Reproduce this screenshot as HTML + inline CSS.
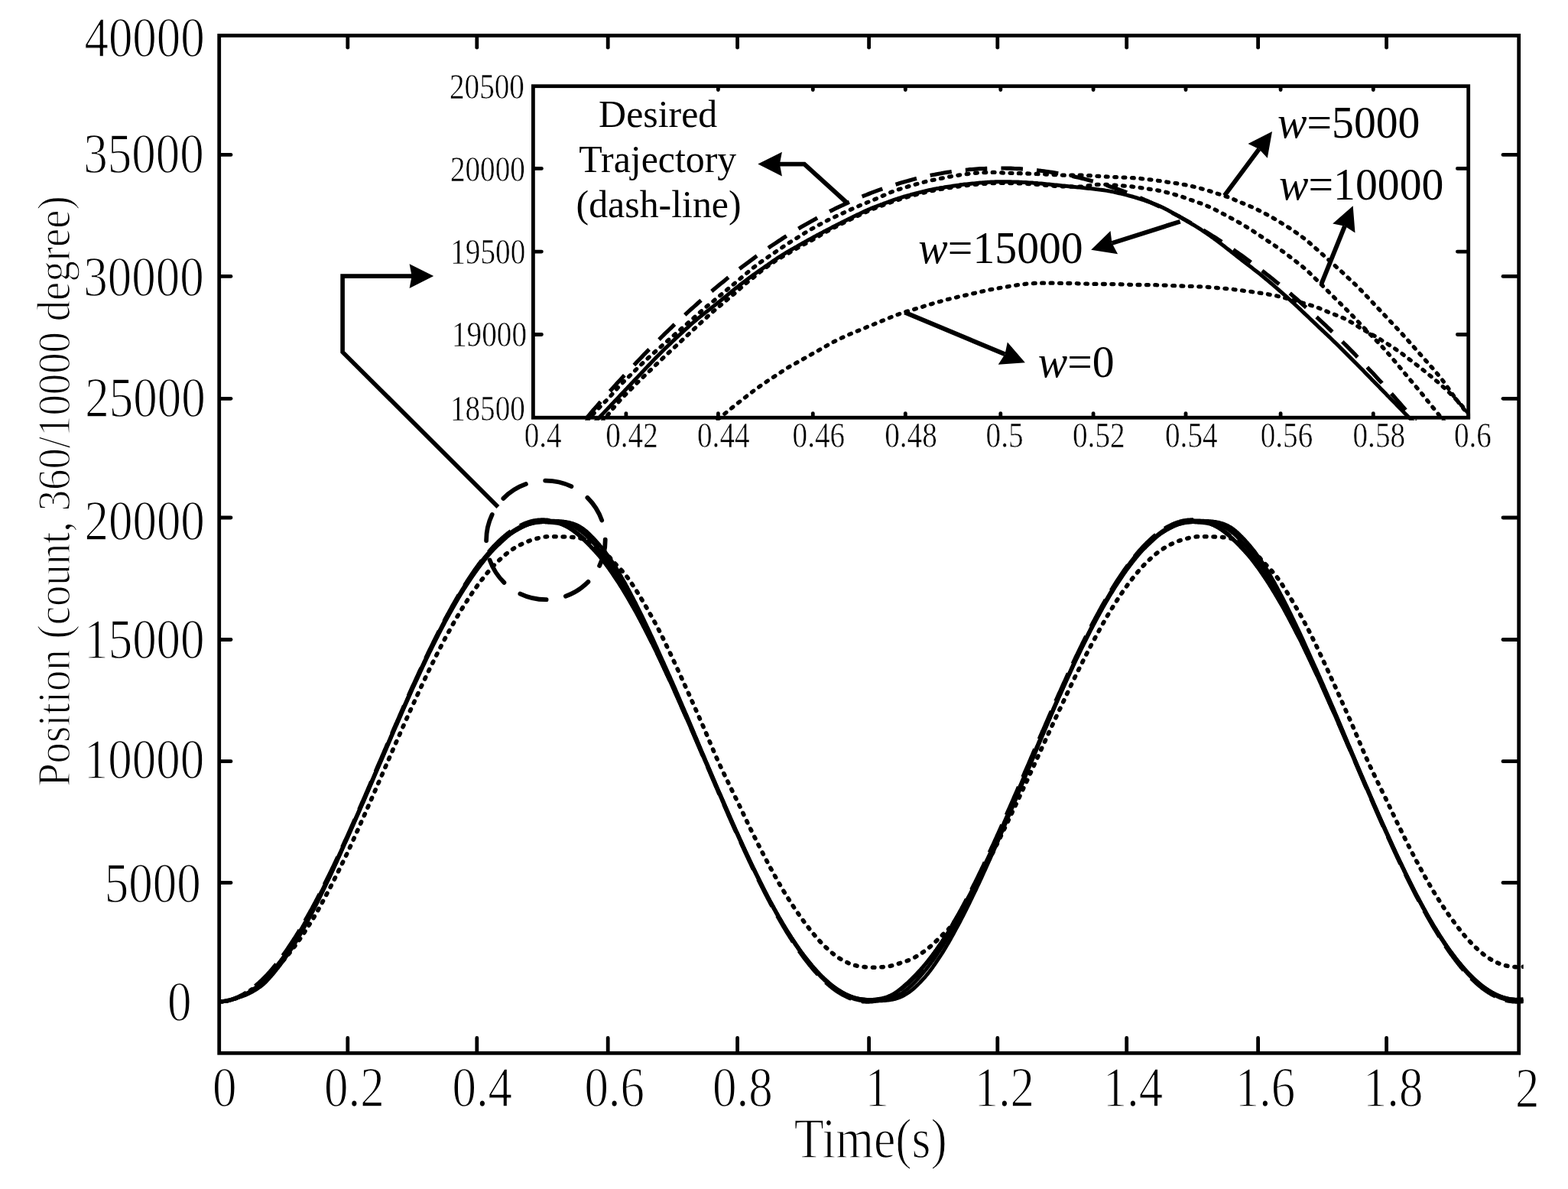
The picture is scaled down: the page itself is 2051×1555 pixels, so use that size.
<!DOCTYPE html>
<html lang="en"><head><meta charset="utf-8"><title>Position tracking response</title>
<style>html,body{margin:0;padding:0;background:#fff}body{width:2051px;height:1555px;overflow:hidden}svg{display:block}text{font-family:"Liberation Serif","DejaVu Serif",serif;fill:#000}</style></head><body>
<svg width="2051" height="1555" viewBox="0 0 2051 1555" role="img" aria-label="Position tracking response with inset zoom">
<rect x="0" y="0" width="2051" height="1555" fill="#fff"/>
<defs>
<clipPath id="cm"><rect x="286.7" y="46.5" width="1706.0" height="1330.8"/></clipPath>
<clipPath id="ci"><rect x="697.4" y="112.7" width="1225.7000000000003" height="437.00000000000006"/></clipPath>
</defs>
<g clip-path="url(#cm)" fill="none" stroke="#000" stroke-linejoin="round">
<path d="M284.9 1310.0L285.9 1310.0L286.9 1310.0L287.9 1310.0L288.9 1309.9L289.9 1309.9L290.9 1309.8L291.9 1309.7L292.9 1309.6L293.9 1309.4L294.9 1309.3L295.9 1309.1L297.0 1308.9L298.0 1308.7L299.0 1308.5L300.0 1308.3L301.0 1308.0L302.0 1307.7L303.0 1307.5L304.0 1307.2L305.0 1306.8L306.0 1306.5L307.0 1306.1L308.0 1305.8L309.0 1305.4L310.0 1305.0L311.0 1304.5L312.0 1304.1L313.0 1303.6L314.0 1303.2L315.0 1302.7L316.0 1302.1L317.0 1301.6L318.0 1301.1L319.1 1300.5L320.1 1299.9L321.1 1299.3L322.1 1298.7L323.1 1298.1L324.1 1297.5L325.1 1296.8L326.1 1296.2L327.1 1295.5L328.1 1294.9L329.1 1294.2L330.1 1293.5L331.1 1292.8L332.1 1292.1L333.1 1291.4L334.1 1290.7L335.1 1289.9L336.1 1289.2L337.1 1288.4L338.1 1287.6L339.1 1286.8L340.1 1286.0L341.2 1285.1L342.2 1284.3L343.2 1283.4L344.2 1282.5L345.2 1281.6L346.2 1280.7L347.2 1279.8L348.2 1278.8L349.2 1277.9L350.2 1276.9L351.2 1276.0L352.2 1275.0L353.2 1274.1L354.2 1273.1L355.2 1272.1L356.2 1271.2L357.2 1270.2L358.2 1269.2L359.2 1268.2L360.2 1267.2L361.2 1266.2L362.2 1265.2L363.3 1264.2L364.3 1263.1L365.3 1262.0L366.3 1260.9L367.3 1259.8L368.3 1258.7L369.3 1257.6L370.3 1256.5L371.3 1255.3L372.3 1254.1L373.3 1253.0L374.3 1251.8L375.3 1250.6L376.3 1249.3L377.3 1248.1L378.3 1246.8L379.3 1245.6L380.3 1244.3L381.3 1243.0L382.3 1241.7L383.3 1240.4L384.3 1239.0L385.4 1237.7L386.4 1236.3L387.4 1235.0L388.4 1233.6L389.4 1232.2L390.4 1230.8L391.4 1229.3L392.4 1227.9L393.4 1226.4L394.4 1224.9L395.4 1223.5L396.4 1222.0L397.4 1220.5L398.4 1218.9L399.4 1217.4L400.4 1215.9L401.4 1214.3L402.4 1212.8L403.4 1211.2L404.4 1209.6L405.4 1208.0L406.4 1206.4L407.5 1204.8L408.5 1203.1L409.5 1201.5L410.5 1199.8L411.5 1198.1L412.5 1196.4L413.5 1194.7L414.5 1192.9L415.5 1191.2L416.5 1189.4L417.5 1187.6L418.5 1185.7L419.5 1183.9L420.5 1182.1L421.5 1180.2L422.5 1178.4L423.5 1176.5L424.5 1174.6L425.5 1172.8L426.5 1170.9L427.5 1169.0L428.5 1167.1L429.5 1165.1L430.6 1163.2L431.6 1161.3L432.6 1159.3L433.6 1157.4L434.6 1155.4L435.6 1153.5L436.6 1151.5L437.6 1149.5L438.6 1147.5L439.6 1145.5L440.6 1143.5L441.6 1141.5L442.6 1139.5L443.6 1137.5L444.6 1135.4L445.6 1133.4L446.6 1131.4L447.6 1129.3L448.6 1127.3L449.6 1125.2L450.6 1123.1L451.6 1121.0L452.7 1118.9L453.7 1116.8L454.7 1114.7L455.7 1112.5L456.7 1110.4L457.7 1108.2L458.7 1106.0L459.7 1103.8L460.7 1101.6L461.7 1099.4L462.7 1097.2L463.7 1094.9L464.7 1092.7L465.7 1090.5L466.7 1088.2L467.7 1086.0L468.7 1083.7L469.7 1081.5L470.7 1079.2L471.7 1077.0L472.7 1074.7L473.7 1072.4L474.8 1070.2L475.8 1067.9L476.8 1065.6L477.8 1063.4L478.8 1061.1L479.8 1058.8L480.8 1056.5L481.8 1054.2L482.8 1051.9L483.8 1049.6L484.8 1047.4L485.8 1045.1L486.8 1042.8L487.8 1040.5L488.8 1038.2L489.8 1035.9L490.8 1033.6L491.8 1031.3L492.8 1029.0L493.8 1026.7L494.8 1024.4L495.8 1022.1L496.9 1019.7L497.9 1017.4L498.9 1015.1L499.9 1012.8L500.9 1010.5L501.9 1008.2L502.9 1005.9L503.9 1003.6L504.9 1001.2L505.9 998.9L506.9 996.6L507.9 994.3L508.9 992.0L509.9 989.7L510.9 987.4L511.9 985.1L512.9 982.8L513.9 980.5L514.9 978.2L515.9 975.9L516.9 973.6L517.9 971.3L519.0 969.0L520.0 966.7L521.0 964.4L522.0 962.2L523.0 959.9L524.0 957.6L525.0 955.3L526.0 953.1L527.0 950.8L528.0 948.5L529.0 946.3L530.0 944.0L531.0 941.8L532.0 939.6L533.0 937.3L534.0 935.1L535.0 932.8L536.0 930.6L537.0 928.4L538.0 926.2L539.0 924.0L540.0 921.8L541.1 919.5L542.1 917.3L543.1 915.1L544.1 913.0L545.1 910.8L546.1 908.6L547.1 906.4L548.1 904.2L549.1 902.1L550.1 899.9L551.1 897.7L552.1 895.6L553.1 893.5L554.1 891.3L555.1 889.2L556.1 887.1L557.1 885.0L558.1 882.9L559.1 880.8L560.1 878.7L561.1 876.6L562.1 874.5L563.2 872.5L564.2 870.4L565.2 868.4L566.2 866.3L567.2 864.3L568.2 862.3L569.2 860.3L570.2 858.2L571.2 856.3L572.2 854.3L573.2 852.3L574.2 850.3L575.2 848.4L576.2 846.4L577.2 844.5L578.2 842.5L579.2 840.6L580.2 838.7L581.2 836.8L582.2 834.9L583.2 833.0L584.2 831.2L585.2 829.3L586.3 827.4L587.3 825.6L588.3 823.8L589.3 822.0L590.3 820.2L591.3 818.4L592.3 816.6L593.3 814.8L594.3 813.0L595.3 811.3L596.3 809.5L597.3 807.8L598.3 806.1L599.3 804.4L600.3 802.7L601.3 801.0L602.3 799.4L603.3 797.7L604.3 796.1L605.3 794.4L606.3 792.8L607.3 791.2L608.4 789.6L609.4 788.0L610.4 786.5L611.4 784.9L612.4 783.4L613.4 781.8L614.4 780.3L615.4 778.8L616.4 777.3L617.4 775.8L618.4 774.4L619.4 772.9L620.4 771.5L621.4 770.1L622.4 768.7L623.4 767.3L624.4 765.9L625.4 764.5L626.4 763.2L627.4 761.8L628.4 760.5L629.4 759.2L630.5 757.9L631.5 756.6L632.5 755.3L633.5 754.0L634.5 752.8L635.5 751.6L636.5 750.3L637.5 749.1L638.5 747.9L639.5 746.8L640.5 745.6L641.5 744.5L642.5 743.3L643.5 742.2L644.5 741.1L645.5 740.1L646.5 739.0L647.5 737.9L648.5 736.9L649.5 735.9L650.5 734.9L651.5 733.9L652.6 733.0L653.6 732.0L654.6 731.1L655.6 730.2L656.6 729.3L657.6 728.4L658.6 727.5L659.6 726.6L660.6 725.8L661.6 724.9L662.6 724.1L663.6 723.3L664.6 722.5L665.6 721.8L666.6 721.0L667.6 720.3L668.6 719.6L669.6 718.9L670.6 718.2L671.6 717.6L672.6 716.9L673.6 716.3L674.7 715.7L675.7 715.1L676.7 714.5L677.7 714.0L678.7 713.4L679.7 712.9L680.7 712.4L681.7 711.9L682.7 711.4L683.7 710.9L684.7 710.4L685.7 710.0L686.7 709.5L687.7 709.1L688.7 708.7L689.7 708.3L690.7 707.9L691.7 707.5L692.7 707.2L693.7 706.8L694.7 706.5L695.7 706.1L696.8 705.8L697.8 705.5L698.8 705.2L699.8 705.0L700.8 704.7L701.8 704.4L702.8 704.2L703.8 703.9L704.8 703.7L705.8 703.4L706.8 703.2L707.8 703.0L708.8 702.8L709.8 702.6L710.8 702.4L711.8 702.3L712.8 702.1L713.8 702.0L714.8 701.9L715.8 701.8L716.8 701.8L717.8 701.7L718.8 701.7L719.9 701.7L720.9 701.7L721.9 701.7L722.9 701.7L723.9 701.7L724.9 701.7L725.9 701.7L726.9 701.8L727.9 701.8L728.9 701.8L729.9 701.8L730.9 701.9L731.9 701.9L732.9 701.9L733.9 701.9L734.9 701.9L735.9 702.0L736.9 702.0L737.9 702.0L738.9 702.0L739.9 702.1L740.9 702.1L742.0 702.1L743.0 702.2L744.0 702.2L745.0 702.3L746.0 702.3L747.0 702.4L748.0 702.5L749.0 702.5L750.0 702.6L751.0 702.7L752.0 702.8L753.0 703.0L754.0 703.1L755.0 703.2L756.0 703.4L757.0 703.6L758.0 703.7L759.0 703.9L760.0 704.2L761.0 704.4L762.0 704.6L763.0 704.9L764.1 705.2L765.1 705.5L766.1 705.9L767.1 706.2L768.1 706.6L769.1 707.0L770.1 707.4L771.1 707.9L772.1 708.4L773.1 708.9L774.1 709.4L775.1 710.0L776.1 710.6L777.1 711.2L778.1 711.8L779.1 712.4L780.1 713.1L781.1 713.8L782.1 714.5L783.1 715.3L784.1 716.0L785.1 716.8L786.2 717.6L787.2 718.5L788.2 719.4L789.2 720.3L790.2 721.2L791.2 722.2L792.2 723.2L793.2 724.2L794.2 725.3L795.2 726.4L796.2 727.5L797.2 728.6L798.2 729.8L799.2 731.0L800.2 732.1L801.2 733.2L802.2 734.4L803.2 735.5L804.2 736.6L805.2 737.7L806.2 738.8L807.2 739.8L808.3 740.9L809.3 741.9L810.3 743.0L811.3 744.0L812.3 745.1L813.3 746.2L814.3 747.3L815.3 748.4L816.3 749.6L817.3 750.8L818.3 752.0L819.3 753.3L820.3 754.6L821.3 755.9L822.3 757.3L823.3 758.7L824.3 760.2L825.3 761.6L826.3 763.2L827.3 764.7L828.3 766.2L829.3 767.8L830.4 769.4L831.4 770.9L832.4 772.5L833.4 774.1L834.4 775.7L835.4 777.4L836.4 779.0L837.4 780.6L838.4 782.3L839.4 783.9L840.4 785.6L841.4 787.3L842.4 789.0L843.4 790.7L844.4 792.4L845.4 794.1L846.4 795.9L847.4 797.6L848.4 799.4L849.4 801.2L850.4 803.0L851.4 804.8L852.5 806.6L853.5 808.4L854.5 810.2L855.5 812.0L856.5 813.9L857.5 815.7L858.5 817.6L859.5 819.5L860.5 821.4L861.5 823.3L862.5 825.3L863.5 827.3L864.5 829.2L865.5 831.3L866.5 833.3L867.5 835.3L868.5 837.4L869.5 839.5L870.5 841.6L871.5 843.7L872.5 845.8L873.5 847.9L874.5 850.0L875.6 852.2L876.6 854.3L877.6 856.4L878.6 858.6L879.6 860.7L880.6 862.9L881.6 865.0L882.6 867.2L883.6 869.4L884.6 871.5L885.6 873.7L886.6 875.9L887.6 878.1L888.6 880.3L889.6 882.5L890.6 884.7L891.6 886.9L892.6 889.1L893.6 891.3L894.6 893.5L895.6 895.7L896.6 897.9L897.7 900.2L898.7 902.4L899.7 904.6L900.7 906.9L901.7 909.1L902.7 911.3L903.7 913.6L904.7 915.8L905.7 918.1L906.7 920.3L907.7 922.6L908.7 924.8L909.7 927.1L910.7 929.3L911.7 931.6L912.7 933.8L913.7 936.1L914.7 938.4L915.7 940.7L916.7 943.0L917.7 945.3L918.7 947.6L919.8 949.9L920.8 952.3L921.8 954.6L922.8 957.0L923.8 959.3L924.8 961.7L925.8 964.1L926.8 966.4L927.8 968.8L928.8 971.2L929.8 973.5L930.8 975.9L931.8 978.3L932.8 980.6L933.8 983.0L934.8 985.3L935.8 987.7L936.8 990.0L937.8 992.2L938.8 994.5L939.8 996.7L940.8 998.9L941.9 1001.1L942.9 1003.3L943.9 1005.4L944.9 1007.5L945.9 1009.6L946.9 1011.7L947.9 1013.8L948.9 1015.9L949.9 1017.9L950.9 1020.0L951.9 1022.1L952.9 1024.2L953.9 1026.2L954.9 1028.3L955.9 1030.4L956.9 1032.4L957.9 1034.5L958.9 1036.5L959.9 1038.5L960.9 1040.6L961.9 1042.7L962.9 1044.7L964.0 1046.8L965.0 1048.9L966.0 1051.0L967.0 1053.1L968.0 1055.2L969.0 1057.3L970.0 1059.5L971.0 1061.6L972.0 1063.7L973.0 1065.9L974.0 1068.0L975.0 1070.1L976.0 1072.2L977.0 1074.3L978.0 1076.4L979.0 1078.5L980.0 1080.6L981.0 1082.6L982.0 1084.7L983.0 1086.7L984.0 1088.8L985.0 1090.8L986.1 1092.9L987.1 1094.9L988.1 1096.9L989.1 1098.9L990.1 1100.9L991.1 1102.9L992.1 1104.9L993.1 1106.9L994.1 1108.8L995.1 1110.8L996.1 1112.7L997.1 1114.7L998.1 1116.6L999.1 1118.6L1000.1 1120.5L1001.1 1122.4L1002.1 1124.3L1003.1 1126.2L1004.1 1128.1L1005.1 1130.0L1006.1 1131.9L1007.1 1133.8L1008.1 1135.7L1009.2 1137.5L1010.2 1139.4L1011.2 1141.2L1012.2 1143.0L1013.2 1144.8L1014.2 1146.6L1015.2 1148.4L1016.2 1150.2L1017.2 1152.0L1018.2 1153.7L1019.2 1155.5L1020.2 1157.2L1021.2 1158.9L1022.2 1160.6L1023.2 1162.3L1024.2 1164.0L1025.2 1165.7L1026.2 1167.3L1027.2 1169.0L1028.2 1170.6L1029.2 1172.3L1030.2 1173.9L1031.3 1175.5L1032.3 1177.1L1033.3 1178.6L1034.3 1180.2L1035.3 1181.8L1036.3 1183.3L1037.3 1184.8L1038.3 1186.3L1039.3 1187.8L1040.3 1189.3L1041.3 1190.8L1042.3 1192.2L1043.3 1193.7L1044.3 1195.1L1045.3 1196.5L1046.3 1198.0L1047.3 1199.4L1048.3 1200.8L1049.3 1202.2L1050.3 1203.5L1051.3 1204.9L1052.3 1206.3L1053.4 1207.6L1054.4 1209.0L1055.4 1210.3L1056.4 1211.7L1057.4 1213.0L1058.4 1214.3L1059.4 1215.6L1060.4 1216.9L1061.4 1218.1L1062.4 1219.4L1063.4 1220.6L1064.4 1221.8L1065.4 1223.0L1066.4 1224.2L1067.4 1225.4L1068.4 1226.5L1069.4 1227.7L1070.4 1228.8L1071.4 1229.9L1072.4 1231.0L1073.4 1232.1L1074.4 1233.1L1075.5 1234.2L1076.5 1235.2L1077.5 1236.2L1078.5 1237.2L1079.5 1238.2L1080.5 1239.2L1081.5 1240.1L1082.5 1241.1L1083.5 1242.0L1084.5 1242.9L1085.5 1243.8L1086.5 1244.6L1087.5 1245.5L1088.5 1246.3L1089.5 1247.1L1090.5 1248.0L1091.5 1248.7L1092.5 1249.5L1093.5 1250.3L1094.5 1251.0L1095.5 1251.7L1096.5 1252.4L1097.6 1253.1L1098.6 1253.7L1099.6 1254.3L1100.6 1254.9L1101.6 1255.5L1102.6 1256.1L1103.6 1256.6L1104.6 1257.1L1105.6 1257.6L1106.6 1258.1L1107.6 1258.6L1108.6 1259.0L1109.6 1259.4L1110.6 1259.9L1111.6 1260.3L1112.6 1260.6L1113.6 1261.0L1114.6 1261.4L1115.6 1261.7L1116.6 1262.0L1117.6 1262.3L1118.6 1262.6L1119.7 1262.8L1120.7 1263.1L1121.7 1263.3L1122.7 1263.5L1123.7 1263.7L1124.7 1263.9L1125.7 1264.0L1126.7 1264.2L1127.7 1264.3L1128.7 1264.4L1129.7 1264.5L1130.7 1264.6L1131.7 1264.6L1132.7 1264.7L1133.7 1264.8L1134.7 1264.9L1135.7 1264.9L1136.7 1265.0L1137.7 1265.1L1138.7 1265.1L1139.7 1265.2L1140.7 1265.2L1141.8 1265.3L1142.8 1265.3L1143.8 1265.3L1144.8 1265.3L1145.8 1265.2L1146.8 1265.2L1147.8 1265.1L1148.8 1265.1L1149.8 1265.0L1150.8 1264.9L1151.8 1264.9L1152.8 1264.8L1153.8 1264.7L1154.8 1264.7L1155.8 1264.6L1156.8 1264.5L1157.8 1264.4L1158.8 1264.3L1159.8 1264.2L1160.8 1264.0L1161.8 1263.9L1162.8 1263.7L1163.8 1263.5L1164.9 1263.3L1165.9 1263.1L1166.9 1262.8L1167.9 1262.6L1168.9 1262.3L1169.9 1262.0L1170.9 1261.7L1171.9 1261.4L1172.9 1261.1L1173.9 1260.7L1174.9 1260.4L1175.9 1260.1L1176.9 1259.8L1177.9 1259.4L1178.9 1259.1L1179.9 1258.8L1180.9 1258.5L1181.9 1258.1L1182.9 1257.8L1183.9 1257.5L1184.9 1257.2L1185.9 1256.8L1187.0 1256.4L1188.0 1256.0L1189.0 1255.6L1190.0 1255.2L1191.0 1254.7L1192.0 1254.3L1193.0 1253.8L1194.0 1253.3L1195.0 1252.8L1196.0 1252.3L1197.0 1251.8L1198.0 1251.2L1199.0 1250.6L1200.0 1250.1L1201.0 1249.5L1202.0 1248.8L1203.0 1248.2L1204.0 1247.6L1205.0 1246.9L1206.0 1246.2L1207.0 1245.5L1208.0 1244.8L1209.1 1244.1L1210.1 1243.4L1211.1 1242.6L1212.1 1241.8L1213.1 1241.0L1214.1 1240.2L1215.1 1239.4L1216.1 1238.5L1217.1 1237.7L1218.1 1236.8L1219.1 1235.9L1220.1 1235.0L1221.1 1234.1L1222.1 1233.1L1223.1 1232.2L1224.1 1231.2L1225.1 1230.3L1226.1 1229.3L1227.1 1228.3L1228.1 1227.3L1229.1 1226.3L1230.1 1225.3L1231.2 1224.3L1232.2 1223.3L1233.2 1222.3L1234.2 1221.3L1235.2 1220.4L1236.2 1219.4L1237.2 1218.4L1238.2 1217.5L1239.2 1216.5L1240.2 1215.6L1241.2 1214.6L1242.2 1213.5L1243.2 1212.3L1244.2 1211.1L1245.2 1209.9L1246.2 1208.5L1247.2 1207.1L1248.2 1205.7L1249.2 1204.2L1250.2 1202.6L1251.2 1201.0L1252.2 1199.4L1253.3 1197.7L1254.3 1196.1L1255.3 1194.4L1256.3 1192.7L1257.3 1191.1L1258.3 1189.4L1259.3 1187.6L1260.3 1185.9L1261.3 1184.2L1262.3 1182.5L1263.3 1180.7L1264.3 1179.0L1265.3 1177.2L1266.3 1175.4L1267.3 1173.6L1268.3 1171.8L1269.3 1170.0L1270.3 1168.2L1271.3 1166.4L1272.3 1164.6L1273.3 1162.8L1274.3 1161.0L1275.4 1159.2L1276.4 1157.3L1277.4 1155.5L1278.4 1153.7L1279.4 1151.8L1280.4 1150.0L1281.4 1148.1L1282.4 1146.2L1283.4 1144.3L1284.4 1142.4L1285.4 1140.5L1286.4 1138.6L1287.4 1136.7L1288.4 1134.8L1289.4 1132.9L1290.4 1130.9L1291.4 1129.0L1292.4 1127.0L1293.4 1125.1L1294.4 1123.1L1295.4 1121.1L1296.4 1119.1L1297.4 1117.2L1298.5 1115.2L1299.5 1113.2L1300.5 1111.2L1301.5 1109.2L1302.5 1107.1L1303.5 1105.1L1304.5 1103.1L1305.5 1101.0L1306.5 1099.0L1307.5 1096.9L1308.5 1094.8L1309.5 1092.8L1310.5 1090.7L1311.5 1088.6L1312.5 1086.5L1313.5 1084.4L1314.5 1082.3L1315.5 1080.2L1316.5 1078.1L1317.5 1076.0L1318.5 1073.9L1319.5 1071.8L1320.6 1069.7L1321.6 1067.5L1322.6 1065.4L1323.6 1063.3L1324.6 1061.1L1325.6 1059.0L1326.6 1056.9L1327.6 1054.7L1328.6 1052.6L1329.6 1050.4L1330.6 1048.3L1331.6 1046.1L1332.6 1044.0L1333.6 1041.8L1334.6 1039.7L1335.6 1037.5L1336.6 1035.3L1337.6 1033.2L1338.6 1031.0L1339.6 1028.8L1340.6 1026.7L1341.6 1024.5L1342.7 1022.3L1343.7 1020.2L1344.7 1018.0L1345.7 1015.8L1346.7 1013.6L1347.7 1011.4L1348.7 1009.2L1349.7 1007.0L1350.7 1004.8L1351.7 1002.6L1352.7 1000.4L1353.7 998.2L1354.7 995.9L1355.7 993.7L1356.7 991.5L1357.7 989.3L1358.7 987.1L1359.7 984.9L1360.7 982.7L1361.7 980.5L1362.7 978.3L1363.7 976.0L1364.8 973.8L1365.8 971.6L1366.8 969.5L1367.8 967.3L1368.8 965.1L1369.8 962.9L1370.8 960.7L1371.8 958.5L1372.8 956.3L1373.8 954.1L1374.8 952.0L1375.8 949.8L1376.8 947.6L1377.8 945.5L1378.8 943.3L1379.8 941.2L1380.8 939.0L1381.8 936.9L1382.8 934.7L1383.8 932.6L1384.8 930.5L1385.8 928.3L1386.9 926.2L1387.9 924.0L1388.9 921.9L1389.9 919.8L1390.9 917.6L1391.9 915.5L1392.9 913.3L1393.9 911.2L1394.9 909.1L1395.9 906.9L1396.9 904.8L1397.9 902.7L1398.9 900.5L1399.9 898.4L1400.9 896.3L1401.9 894.2L1402.9 892.1L1403.9 890.0L1404.9 888.0L1405.9 885.9L1406.9 883.8L1407.9 881.8L1409.0 879.7L1410.0 877.7L1411.0 875.6L1412.0 873.6L1413.0 871.6L1414.0 869.6L1415.0 867.6L1416.0 865.6L1417.0 863.6L1418.0 861.6L1419.0 859.6L1420.0 857.7L1421.0 855.7L1422.0 853.8L1423.0 851.8L1424.0 849.9L1425.0 848.0L1426.0 846.1L1427.0 844.2L1428.0 842.3L1429.0 840.4L1430.0 838.6L1431.1 836.7L1432.1 834.8L1433.1 833.0L1434.1 831.1L1435.1 829.2L1436.1 827.4L1437.1 825.6L1438.1 823.7L1439.1 821.9L1440.1 820.1L1441.1 818.3L1442.1 816.5L1443.1 814.8L1444.1 813.0L1445.1 811.3L1446.1 809.5L1447.1 807.8L1448.1 806.1L1449.1 804.4L1450.1 802.7L1451.1 801.0L1452.1 799.3L1453.1 797.7L1454.2 796.0L1455.2 794.4L1456.2 792.8L1457.2 791.2L1458.2 789.6L1459.2 788.0L1460.2 786.4L1461.2 784.9L1462.2 783.3L1463.2 781.8L1464.2 780.3L1465.2 778.8L1466.2 777.3L1467.2 775.8L1468.2 774.4L1469.2 772.9L1470.2 771.5L1471.2 770.1L1472.2 768.6L1473.2 767.2L1474.2 765.9L1475.2 764.5L1476.3 763.1L1477.3 761.8L1478.3 760.5L1479.3 759.1L1480.3 757.8L1481.3 756.5L1482.3 755.3L1483.3 754.0L1484.3 752.8L1485.3 751.5L1486.3 750.3L1487.3 749.1L1488.3 747.9L1489.3 746.8L1490.3 745.6L1491.3 744.5L1492.3 743.3L1493.3 742.2L1494.3 741.1L1495.3 740.0L1496.3 739.0L1497.3 737.9L1498.4 736.9L1499.4 735.9L1500.4 734.9L1501.4 733.9L1502.4 732.9L1503.4 732.0L1504.4 731.1L1505.4 730.1L1506.4 729.2L1507.4 728.3L1508.4 727.5L1509.4 726.6L1510.4 725.8L1511.4 724.9L1512.4 724.1L1513.4 723.3L1514.4 722.5L1515.4 721.8L1516.4 721.0L1517.4 720.3L1518.4 719.6L1519.4 718.9L1520.5 718.2L1521.5 717.6L1522.5 716.9L1523.5 716.3L1524.5 715.7L1525.5 715.1L1526.5 714.5L1527.5 714.0L1528.5 713.4L1529.5 712.9L1530.5 712.3L1531.5 711.8L1532.5 711.4L1533.5 710.9L1534.5 710.4L1535.5 710.0L1536.5 709.5L1537.5 709.1L1538.5 708.7L1539.5 708.3L1540.5 707.9L1541.5 707.5L1542.6 707.2L1543.6 706.8L1544.6 706.5L1545.6 706.1L1546.6 705.8L1547.6 705.5L1548.6 705.2L1549.6 705.0L1550.6 704.7L1551.6 704.4L1552.6 704.2L1553.6 703.9L1554.6 703.7L1555.6 703.4L1556.6 703.2L1557.6 703.0L1558.6 702.8L1559.6 702.6L1560.6 702.4L1561.6 702.3L1562.6 702.1L1563.6 702.0L1564.7 701.9L1565.7 701.8L1566.7 701.8L1567.7 701.7L1568.7 701.7L1569.7 701.7L1570.7 701.7L1571.7 701.7L1572.7 701.7L1573.7 701.7L1574.7 701.7L1575.7 701.7L1576.7 701.8L1577.7 701.8L1578.7 701.8L1579.7 701.8L1580.7 701.9L1581.7 701.9L1582.7 701.9L1583.7 701.9L1584.7 701.9L1585.7 702.0L1586.7 702.0L1587.8 702.0L1588.8 702.0L1589.8 702.1L1590.8 702.1L1591.8 702.1L1592.8 702.2L1593.8 702.2L1594.8 702.3L1595.8 702.3L1596.8 702.4L1597.8 702.5L1598.8 702.6L1599.8 702.6L1600.8 702.7L1601.8 702.8L1602.8 703.0L1603.8 703.1L1604.8 703.2L1605.8 703.4L1606.8 703.6L1607.8 703.7L1608.8 703.9L1609.9 704.2L1610.9 704.4L1611.9 704.6L1612.9 704.9L1613.9 705.2L1614.9 705.5L1615.9 705.9L1616.9 706.2L1617.9 706.6L1618.9 707.0L1619.9 707.4L1620.9 707.9L1621.9 708.4L1622.9 708.9L1623.9 709.4L1624.9 710.0L1625.9 710.6L1626.9 711.2L1627.9 711.8L1628.9 712.5L1629.9 713.1L1630.9 713.8L1632.0 714.5L1633.0 715.3L1634.0 716.0L1635.0 716.8L1636.0 717.6L1637.0 718.5L1638.0 719.4L1639.0 720.3L1640.0 721.2L1641.0 722.2L1642.0 723.2L1643.0 724.2L1644.0 725.3L1645.0 726.4L1646.0 727.5L1647.0 728.7L1648.0 729.8L1649.0 731.0L1650.0 732.1L1651.0 733.3L1652.0 734.4L1653.0 735.5L1654.1 736.6L1655.1 737.7L1656.1 738.8L1657.1 739.8L1658.1 740.9L1659.1 741.9L1660.1 743.0L1661.1 744.1L1662.1 745.1L1663.1 746.2L1664.1 747.3L1665.1 748.5L1666.1 749.6L1667.1 750.8L1668.1 752.0L1669.1 753.3L1670.1 754.6L1671.1 755.9L1672.1 757.3L1673.1 758.7L1674.1 760.2L1675.1 761.7L1676.2 763.2L1677.2 764.7L1678.2 766.3L1679.2 767.8L1680.2 769.4L1681.2 771.0L1682.2 772.6L1683.2 774.2L1684.2 775.8L1685.2 777.4L1686.2 779.0L1687.2 780.7L1688.2 782.3L1689.2 784.0L1690.2 785.6L1691.2 787.3L1692.2 789.0L1693.2 790.7L1694.2 792.4L1695.2 794.2L1696.2 795.9L1697.2 797.7L1698.3 799.4L1699.3 801.2L1700.3 803.0L1701.3 804.8L1702.3 806.6L1703.3 808.4L1704.3 810.2L1705.3 812.1L1706.3 813.9L1707.3 815.8L1708.3 817.6L1709.3 819.5L1710.3 821.4L1711.3 823.4L1712.3 825.3L1713.3 827.3L1714.3 829.3L1715.3 831.3L1716.3 833.3L1717.3 835.4L1718.3 837.5L1719.3 839.6L1720.3 841.6L1721.4 843.7L1722.4 845.8L1723.4 848.0L1724.4 850.1L1725.4 852.2L1726.4 854.3L1727.4 856.5L1728.4 858.6L1729.4 860.8L1730.4 862.9L1731.4 865.1L1732.4 867.2L1733.4 869.4L1734.4 871.6L1735.4 873.7L1736.4 875.9L1737.4 878.1L1738.4 880.3L1739.4 882.5L1740.4 884.7L1741.4 886.9L1742.4 889.1L1743.5 891.3L1744.5 893.5L1745.5 895.8L1746.5 898.0L1747.5 900.2L1748.5 902.4L1749.5 904.7L1750.5 906.9L1751.5 909.1L1752.5 911.4L1753.5 913.6L1754.5 915.9L1755.5 918.1L1756.5 920.4L1757.5 922.6L1758.5 924.9L1759.5 927.1L1760.5 929.4L1761.5 931.6L1762.5 933.9L1763.5 936.2L1764.5 938.4L1765.6 940.7L1766.6 943.0L1767.6 945.3L1768.6 947.6L1769.6 950.0L1770.6 952.3L1771.6 954.7L1772.6 957.0L1773.6 959.4L1774.6 961.8L1775.6 964.1L1776.6 966.5L1777.6 968.9L1778.6 971.2L1779.6 973.6L1780.6 976.0L1781.6 978.3L1782.6 980.7L1783.6 983.0L1784.6 985.4L1785.6 987.7L1786.6 990.0L1787.7 992.3L1788.7 994.5L1789.7 996.8L1790.7 999.0L1791.7 1001.1L1792.7 1003.3L1793.7 1005.4L1794.7 1007.5L1795.7 1009.6L1796.7 1011.7L1797.7 1013.8L1798.7 1015.9L1799.7 1018.0L1800.7 1020.1L1801.7 1022.1L1802.7 1024.2L1803.7 1026.3L1804.7 1028.3L1805.7 1030.4L1806.7 1032.4L1807.7 1034.5L1808.7 1036.5L1809.8 1038.6L1810.8 1040.6L1811.8 1042.7L1812.8 1044.8L1813.8 1046.9L1814.8 1048.9L1815.8 1051.0L1816.8 1053.1L1817.8 1055.3L1818.8 1057.4L1819.8 1059.5L1820.8 1061.7L1821.8 1063.8L1822.8 1065.9L1823.8 1068.0L1824.8 1070.1L1825.8 1072.2L1826.8 1074.3L1827.8 1076.4L1828.8 1078.5L1829.8 1080.6L1830.8 1082.7L1831.9 1084.7L1832.9 1086.8L1833.9 1088.8L1834.9 1090.9L1835.9 1092.9L1836.9 1094.9L1837.9 1096.9L1838.9 1098.9L1839.9 1100.9L1840.9 1102.9L1841.9 1104.9L1842.9 1106.9L1843.9 1108.9L1844.9 1110.8L1845.9 1112.8L1846.9 1114.7L1847.9 1116.7L1848.9 1118.6L1849.9 1120.5L1850.9 1122.5L1851.9 1124.4L1852.9 1126.3L1854.0 1128.2L1855.0 1130.1L1856.0 1132.0L1857.0 1133.8L1858.0 1135.7L1859.0 1137.5L1860.0 1139.4L1861.0 1141.2L1862.0 1143.0L1863.0 1144.9L1864.0 1146.7L1865.0 1148.4L1866.0 1150.2L1867.0 1152.0L1868.0 1153.7L1869.0 1155.5L1870.0 1157.2L1871.0 1158.9L1872.0 1160.7L1873.0 1162.4L1874.0 1164.0L1875.0 1165.7L1876.0 1167.4L1877.1 1169.0L1878.1 1170.7L1879.1 1172.3L1880.1 1173.9L1881.1 1175.5L1882.1 1177.1L1883.1 1178.7L1884.1 1180.2L1885.1 1181.8L1886.1 1183.3L1887.1 1184.8L1888.1 1186.4L1889.1 1187.9L1890.1 1189.3L1891.1 1190.8L1892.1 1192.3L1893.1 1193.7L1894.1 1195.1L1895.1 1196.6L1896.1 1198.0L1897.1 1199.4L1898.1 1200.8L1899.2 1202.2L1900.2 1203.6L1901.2 1204.9L1902.2 1206.3L1903.2 1207.7L1904.2 1209.0L1905.2 1210.4L1906.2 1211.7L1907.2 1213.0L1908.2 1214.3L1909.2 1215.6L1910.2 1216.9L1911.2 1218.2L1912.2 1219.4L1913.2 1220.6L1914.2 1221.8L1915.2 1223.0L1916.2 1224.2L1917.2 1225.4L1918.2 1226.5L1919.2 1227.7L1920.2 1228.8L1921.3 1229.9L1922.3 1231.0L1923.3 1232.1L1924.3 1233.2L1925.3 1234.2L1926.3 1235.2L1927.3 1236.2L1928.3 1237.2L1929.3 1238.2L1930.3 1239.2L1931.3 1240.1L1932.3 1241.1L1933.3 1242.0L1934.3 1242.9L1935.3 1243.8L1936.3 1244.6L1937.3 1245.5L1938.3 1246.3L1939.3 1247.2L1940.3 1248.0L1941.3 1248.8L1942.3 1249.5L1943.4 1250.3L1944.4 1251.0L1945.4 1251.7L1946.4 1252.4L1947.4 1253.1L1948.4 1253.7L1949.4 1254.3L1950.4 1254.9L1951.4 1255.5L1952.4 1256.1L1953.4 1256.6L1954.4 1257.1L1955.4 1257.6L1956.4 1258.1L1957.4 1258.6L1958.4 1259.0L1959.4 1259.5L1960.4 1259.9L1961.4 1260.3L1962.4 1260.6L1963.4 1261.0L1964.4 1261.4L1965.5 1261.7L1966.5 1262.0L1967.5 1262.3L1968.5 1262.6L1969.5 1262.8L1970.5 1263.1L1971.5 1263.3L1972.5 1263.5L1973.5 1263.7L1974.5 1263.9L1975.5 1264.0L1976.5 1264.2L1977.5 1264.3L1978.5 1264.4L1979.5 1264.5L1980.5 1264.5L1981.5 1264.6L1982.5 1264.6L1983.5 1264.7L1984.5 1264.7L1985.5 1264.7L1986.5 1264.7L1987.6 1264.7L1988.6 1264.6L1989.6 1264.6L1990.6 1264.5L1991.6 1264.4L1992.6 1264.3" stroke-width="5.6" stroke-dasharray="2.4 9.1" stroke-linecap="round"/>
<path d="M284.9 1310.0L285.9 1310.0L286.9 1310.0L287.9 1310.0L288.9 1309.9L289.9 1309.8L290.9 1309.8L291.9 1309.7L292.9 1309.5L293.9 1309.4L294.9 1309.3L295.9 1309.1L297.0 1308.9L298.0 1308.7L299.0 1308.5L300.0 1308.2L301.0 1308.0L302.0 1307.7L303.0 1307.4L304.0 1307.1L305.0 1306.8L306.0 1306.4L307.0 1306.1L308.0 1305.8L309.0 1305.5L310.0 1305.1L311.0 1304.8L312.0 1304.5L313.0 1304.2L314.0 1303.8L315.0 1303.5L316.0 1303.2L317.0 1302.9L318.0 1302.5L319.1 1302.2L320.1 1301.8L321.1 1301.4L322.1 1301.0L323.1 1300.6L324.1 1300.1L325.1 1299.6L326.1 1299.2L327.1 1298.7L328.1 1298.2L329.1 1297.6L330.1 1297.1L331.1 1296.5L332.1 1295.9L333.1 1295.4L334.1 1294.7L335.1 1294.1L336.1 1293.5L337.1 1292.8L338.1 1292.1L339.1 1291.4L340.1 1290.7L341.2 1290.0L342.2 1289.2L343.2 1288.3L344.2 1287.5L345.2 1286.6L346.2 1285.6L347.2 1284.7L348.2 1283.7L349.2 1282.6L350.2 1281.6L351.2 1280.5L352.2 1279.4L353.2 1278.2L354.2 1277.1L355.2 1275.9L356.2 1274.8L357.2 1273.6L358.2 1272.4L359.2 1271.2L360.2 1269.9L361.2 1268.7L362.2 1267.4L363.3 1266.2L364.3 1264.9L365.3 1263.6L366.3 1262.3L367.3 1260.9L368.3 1259.6L369.3 1258.2L370.3 1256.8L371.3 1255.5L372.3 1254.1L373.3 1252.6L374.3 1251.2L375.3 1249.8L376.3 1248.3L377.3 1246.8L378.3 1245.4L379.3 1243.9L380.3 1242.4L381.3 1240.8L382.3 1239.3L383.3 1237.7L384.3 1236.1L385.4 1234.5L386.4 1232.9L387.4 1231.3L388.4 1229.6L389.4 1227.9L390.4 1226.2L391.4 1224.5L392.4 1222.8L393.4 1221.0L394.4 1219.2L395.4 1217.4L396.4 1215.6L397.4 1213.8L398.4 1212.0L399.4 1210.2L400.4 1208.3L401.4 1206.5L402.4 1204.6L403.4 1202.8L404.4 1200.9L405.4 1199.0L406.4 1197.1L407.5 1195.1L408.5 1193.2L409.5 1191.3L410.5 1189.3L411.5 1187.4L412.5 1185.4L413.5 1183.4L414.5 1181.4L415.5 1179.4L416.5 1177.4L417.5 1175.4L418.5 1173.3L419.5 1171.3L420.5 1169.2L421.5 1167.2L422.5 1165.1L423.5 1163.0L424.5 1160.9L425.5 1158.9L426.5 1156.7L427.5 1154.6L428.5 1152.5L429.5 1150.4L430.6 1148.2L431.6 1146.1L432.6 1143.9L433.6 1141.8L434.6 1139.6L435.6 1137.4L436.6 1135.2L437.6 1133.0L438.6 1130.8L439.6 1128.6L440.6 1126.4L441.6 1124.2L442.6 1122.0L443.6 1119.7L444.6 1117.5L445.6 1115.2L446.6 1113.0L447.6 1110.7L448.6 1108.4L449.6 1106.2L450.6 1103.9L451.6 1101.6L452.7 1099.3L453.7 1097.0L454.7 1094.8L455.7 1092.5L456.7 1090.2L457.7 1088.0L458.7 1085.7L459.7 1083.4L460.7 1081.1L461.7 1078.9L462.7 1076.6L463.7 1074.3L464.7 1072.0L465.7 1069.7L466.7 1067.5L467.7 1065.2L468.7 1062.9L469.7 1060.5L470.7 1058.2L471.7 1055.9L472.7 1053.6L473.7 1051.3L474.8 1049.0L475.8 1046.7L476.8 1044.3L477.8 1042.0L478.8 1039.7L479.8 1037.3L480.8 1035.0L481.8 1032.7L482.8 1030.3L483.8 1028.0L484.8 1025.6L485.8 1023.3L486.8 1020.9L487.8 1018.6L488.8 1016.2L489.8 1013.9L490.8 1011.5L491.8 1009.2L492.8 1006.8L493.8 1004.5L494.8 1002.1L495.8 999.8L496.9 997.4L497.9 995.1L498.9 992.7L499.9 990.4L500.9 988.0L501.9 985.7L502.9 983.3L503.9 981.0L504.9 978.6L505.9 976.2L506.9 973.9L507.9 971.6L508.9 969.2L509.9 966.9L510.9 964.5L511.9 962.2L512.9 959.8L513.9 957.5L514.9 955.2L515.9 952.8L516.9 950.5L517.9 948.2L519.0 945.8L520.0 943.5L521.0 941.2L522.0 938.9L523.0 936.6L524.0 934.3L525.0 931.9L526.0 929.6L527.0 927.3L528.0 925.0L529.0 922.8L530.0 920.5L531.0 918.2L532.0 915.9L533.0 913.6L534.0 911.4L535.0 909.1L536.0 906.8L537.0 904.6L538.0 902.3L539.0 900.1L540.0 897.9L541.1 895.6L542.1 893.4L543.1 891.2L544.1 889.0L545.1 886.8L546.1 884.6L547.1 882.4L548.1 880.2L549.1 878.1L550.1 875.9L551.1 873.7L552.1 871.6L553.1 869.4L554.1 867.3L555.1 865.1L556.1 863.0L557.1 860.9L558.1 858.8L559.1 856.7L560.1 854.6L561.1 852.5L562.1 850.4L563.2 848.4L564.2 846.3L565.2 844.2L566.2 842.2L567.2 840.1L568.2 838.1L569.2 836.1L570.2 834.1L571.2 832.1L572.2 830.1L573.2 828.1L574.2 826.1L575.2 824.2L576.2 822.2L577.2 820.2L578.2 818.3L579.2 816.4L580.2 814.5L581.2 812.6L582.2 810.7L583.2 808.8L584.2 806.9L585.2 805.0L586.3 803.2L587.3 801.3L588.3 799.5L589.3 797.7L590.3 795.8L591.3 794.0L592.3 792.2L593.3 790.5L594.3 788.7L595.3 786.9L596.3 785.2L597.3 783.5L598.3 781.7L599.3 780.0L600.3 778.3L601.3 776.6L602.3 775.0L603.3 773.3L604.3 771.6L605.3 770.0L606.3 768.4L607.3 766.8L608.4 765.2L609.4 763.6L610.4 762.0L611.4 760.4L612.4 758.9L613.4 757.3L614.4 755.8L615.4 754.3L616.4 752.8L617.4 751.3L618.4 749.9L619.4 748.4L620.4 747.0L621.4 745.5L622.4 744.1L623.4 742.7L624.4 741.3L625.4 739.9L626.4 738.5L627.4 737.2L628.4 735.8L629.4 734.5L630.5 733.2L631.5 731.9L632.5 730.7L633.5 729.4L634.5 728.2L635.5 727.0L636.5 725.9L637.5 724.7L638.5 723.6L639.5 722.5L640.5 721.4L641.5 720.4L642.5 719.3L643.5 718.3L644.5 717.3L645.5 716.3L646.5 715.3L647.5 714.3L648.5 713.4L649.5 712.4L650.5 711.5L651.5 710.6L652.6 709.7L653.6 708.8L654.6 707.9L655.6 707.0L656.6 706.1L657.6 705.2L658.6 704.3L659.6 703.4L660.6 702.5L661.6 701.7L662.6 700.8L663.6 700.0L664.6 699.2L665.6 698.4L666.6 697.6L667.6 696.8L668.6 696.1L669.6 695.4L670.6 694.6L671.6 694.0L672.6 693.3L673.6 692.7L674.7 692.0L675.7 691.4L676.7 690.9L677.7 690.3L678.7 689.7L679.7 689.2L680.7 688.7L681.7 688.2L682.7 687.7L683.7 687.3L684.7 686.8L685.7 686.3L686.7 685.9L687.7 685.5L688.7 685.1L689.7 684.7L690.7 684.3L691.7 683.9L692.7 683.6L693.7 683.2L694.7 682.9L695.7 682.6L696.8 682.4L697.8 682.1L698.8 681.9L699.8 681.7L700.8 681.5L701.8 681.3L702.8 681.2L703.8 681.1L704.8 680.9L705.8 680.9L706.8 680.8L707.8 680.8L708.8 680.7L709.8 680.7L710.8 680.7L711.8 680.7L712.8 680.8L713.8 680.8L714.8 680.9L715.8 680.9L716.8 680.9L717.8 681.0L718.8 681.0L719.9 681.0L720.9 681.1L721.9 681.1L722.9 681.2L723.9 681.2L724.9 681.2L725.9 681.3L726.9 681.3L727.9 681.4L728.9 681.4L729.9 681.5L730.9 681.5L731.9 681.6L732.9 681.7L733.9 681.7L734.9 681.8L735.9 681.9L736.9 682.0L737.9 682.2L738.9 682.3L739.9 682.4L740.9 682.6L742.0 682.8L743.0 683.0L744.0 683.2L745.0 683.4L746.0 683.7L747.0 684.0L748.0 684.3L749.0 684.6L750.0 684.9L751.0 685.3L752.0 685.7L753.0 686.1L754.0 686.5L755.0 687.0L756.0 687.5L757.0 688.0L758.0 688.5L759.0 689.1L760.0 689.7L761.0 690.4L762.0 691.0L763.0 691.7L764.1 692.5L765.1 693.3L766.1 694.1L767.1 694.9L768.1 695.8L769.1 696.7L770.1 697.7L771.1 698.6L772.1 699.6L773.1 700.6L774.1 701.6L775.1 702.6L776.1 703.7L777.1 704.7L778.1 705.8L779.1 706.9L780.1 708.0L781.1 709.2L782.1 710.3L783.1 711.4L784.1 712.6L785.1 713.8L786.2 715.0L787.2 716.2L788.2 717.5L789.2 718.7L790.2 720.0L791.2 721.3L792.2 722.6L793.2 724.0L794.2 725.3L795.2 726.7L796.2 728.1L797.2 729.5L798.2 730.9L799.2 732.3L800.2 733.8L801.2 735.3L802.2 736.8L803.2 738.3L804.2 739.9L805.2 741.5L806.2 743.1L807.2 744.7L808.3 746.4L809.3 748.1L810.3 749.8L811.3 751.6L812.3 753.3L813.3 755.1L814.3 756.8L815.3 758.6L816.3 760.4L817.3 762.2L818.3 764.0L819.3 765.9L820.3 767.7L821.3 769.6L822.3 771.4L823.3 773.3L824.3 775.2L825.3 777.1L826.3 779.0L827.3 780.9L828.3 782.9L829.3 784.8L830.4 786.8L831.4 788.7L832.4 790.7L833.4 792.7L834.4 794.7L835.4 796.7L836.4 798.7L837.4 800.8L838.4 802.8L839.4 804.9L840.4 806.9L841.4 809.0L842.4 811.1L843.4 813.2L844.4 815.3L845.4 817.4L846.4 819.5L847.4 821.6L848.4 823.8L849.4 825.9L850.4 828.1L851.4 830.2L852.5 832.4L853.5 834.6L854.5 836.8L855.5 839.0L856.5 841.2L857.5 843.4L858.5 845.6L859.5 847.8L860.5 850.1L861.5 852.3L862.5 854.5L863.5 856.7L864.5 858.9L865.5 861.2L866.5 863.4L867.5 865.6L868.5 867.8L869.5 870.1L870.5 872.3L871.5 874.5L872.5 876.8L873.5 879.0L874.5 881.3L875.6 883.5L876.6 885.8L877.6 888.1L878.6 890.4L879.6 892.6L880.6 894.9L881.6 897.2L882.6 899.5L883.6 901.8L884.6 904.1L885.6 906.5L886.6 908.8L887.6 911.1L888.6 913.4L889.6 915.8L890.6 918.1L891.6 920.4L892.6 922.8L893.6 925.1L894.6 927.5L895.6 929.9L896.6 932.2L897.7 934.6L898.7 936.9L899.7 939.3L900.7 941.7L901.7 944.1L902.7 946.4L903.7 948.8L904.7 951.2L905.7 953.6L906.7 956.0L907.7 958.4L908.7 960.8L909.7 963.1L910.7 965.5L911.7 967.9L912.7 970.3L913.7 972.7L914.7 975.1L915.7 977.5L916.7 979.9L917.7 982.3L918.7 984.7L919.8 987.1L920.8 989.5L921.8 991.9L922.8 994.3L923.8 996.6L924.8 999.0L925.8 1001.3L926.8 1003.7L927.8 1006.0L928.8 1008.4L929.8 1010.7L930.8 1013.1L931.8 1015.4L932.8 1017.8L933.8 1020.1L934.8 1022.4L935.8 1024.8L936.8 1027.1L937.8 1029.4L938.8 1031.8L939.8 1034.1L940.8 1036.4L941.9 1038.7L942.9 1041.1L943.9 1043.4L944.9 1045.7L945.9 1048.0L946.9 1050.3L947.9 1052.6L948.9 1054.9L949.9 1057.2L950.9 1059.5L951.9 1061.8L952.9 1064.1L953.9 1066.4L954.9 1068.7L955.9 1071.0L956.9 1073.2L957.9 1075.5L958.9 1077.8L959.9 1080.0L960.9 1082.3L961.9 1084.5L962.9 1086.8L964.0 1089.0L965.0 1091.2L966.0 1093.5L967.0 1095.7L968.0 1097.9L969.0 1100.1L970.0 1102.3L971.0 1104.5L972.0 1106.7L973.0 1108.9L974.0 1111.1L975.0 1113.3L976.0 1115.4L977.0 1117.6L978.0 1119.8L979.0 1121.9L980.0 1124.0L981.0 1126.2L982.0 1128.3L983.0 1130.4L984.0 1132.5L985.0 1134.6L986.1 1136.7L987.1 1138.8L988.1 1140.9L989.1 1143.0L990.1 1145.0L991.1 1147.1L992.1 1149.1L993.1 1151.2L994.1 1153.2L995.1 1155.2L996.1 1157.2L997.1 1159.2L998.1 1161.2L999.1 1163.2L1000.1 1165.2L1001.1 1167.1L1002.1 1169.1L1003.1 1171.0L1004.1 1173.0L1005.1 1174.9L1006.1 1176.8L1007.1 1178.7L1008.1 1180.6L1009.2 1182.5L1010.2 1184.4L1011.2 1186.2L1012.2 1188.1L1013.2 1189.9L1014.2 1191.7L1015.2 1193.5L1016.2 1195.3L1017.2 1197.1L1018.2 1198.9L1019.2 1200.7L1020.2 1202.4L1021.2 1204.2L1022.2 1205.9L1023.2 1207.7L1024.2 1209.4L1025.2 1211.1L1026.2 1212.8L1027.2 1214.4L1028.2 1216.1L1029.2 1217.7L1030.2 1219.4L1031.3 1221.0L1032.3 1222.6L1033.3 1224.2L1034.3 1225.8L1035.3 1227.4L1036.3 1228.9L1037.3 1230.5L1038.3 1232.0L1039.3 1233.6L1040.3 1235.1L1041.3 1236.6L1042.3 1238.0L1043.3 1239.5L1044.3 1241.0L1045.3 1242.4L1046.3 1243.8L1047.3 1245.3L1048.3 1246.7L1049.3 1248.1L1050.3 1249.4L1051.3 1250.8L1052.3 1252.1L1053.4 1253.5L1054.4 1254.8L1055.4 1256.1L1056.4 1257.4L1057.4 1258.6L1058.4 1259.9L1059.4 1261.1L1060.4 1262.4L1061.4 1263.6L1062.4 1264.8L1063.4 1266.0L1064.4 1267.1L1065.4 1268.3L1066.4 1269.4L1067.4 1270.6L1068.4 1271.7L1069.4 1272.8L1070.4 1273.9L1071.4 1274.9L1072.4 1276.0L1073.4 1277.0L1074.4 1278.0L1075.5 1279.1L1076.5 1280.0L1077.5 1281.0L1078.5 1282.0L1079.5 1282.9L1080.5 1283.9L1081.5 1284.8L1082.5 1285.7L1083.5 1286.5L1084.5 1287.4L1085.5 1288.3L1086.5 1289.1L1087.5 1289.9L1088.5 1290.7L1089.5 1291.5L1090.5 1292.2L1091.5 1293.0L1092.5 1293.7L1093.5 1294.4L1094.5 1295.1L1095.5 1295.8L1096.5 1296.5L1097.6 1297.1L1098.6 1297.8L1099.6 1298.4L1100.6 1299.0L1101.6 1299.6L1102.6 1300.1L1103.6 1300.7L1104.6 1301.2L1105.6 1301.7L1106.6 1302.2L1107.6 1302.7L1108.6 1303.2L1109.6 1303.6L1110.6 1304.1L1111.6 1304.5L1112.6 1304.9L1113.6 1305.2L1114.6 1305.6L1115.6 1306.0L1116.6 1306.3L1117.6 1306.6L1118.6 1306.9L1119.7 1307.2L1120.7 1307.4L1121.7 1307.7L1122.7 1307.9L1123.7 1308.1L1124.7 1308.3L1125.7 1308.4L1126.7 1308.6L1127.7 1308.7L1128.7 1308.9L1129.7 1309.0L1130.7 1309.1L1131.7 1309.1L1132.7 1309.2L1133.7 1309.3L1134.7 1309.3L1135.7 1309.3L1136.7 1309.4L1137.7 1309.4L1138.7 1309.4L1139.7 1309.4L1140.7 1309.3L1141.8 1309.3L1142.8 1309.3L1143.8 1309.2L1144.8 1309.2L1145.8 1309.1L1146.8 1309.1L1147.8 1309.0L1148.8 1309.0L1149.8 1308.9L1150.8 1308.9L1151.8 1308.8L1152.8 1308.8L1153.8 1308.8L1154.8 1308.7L1155.8 1308.6L1156.8 1308.6L1157.8 1308.5L1158.8 1308.4L1159.8 1308.3L1160.8 1308.2L1161.8 1308.1L1162.8 1308.0L1163.8 1307.8L1164.9 1307.7L1165.9 1307.5L1166.9 1307.3L1167.9 1307.1L1168.9 1306.9L1169.9 1306.7L1170.9 1306.4L1171.9 1306.1L1172.9 1305.8L1173.9 1305.5L1174.9 1305.1L1175.9 1304.8L1176.9 1304.4L1177.9 1303.9L1178.9 1303.5L1179.9 1303.0L1180.9 1302.5L1181.9 1302.0L1182.9 1301.5L1183.9 1300.9L1184.9 1300.3L1185.9 1299.7L1187.0 1299.1L1188.0 1298.4L1189.0 1297.7L1190.0 1297.0L1191.0 1296.2L1192.0 1295.5L1193.0 1294.7L1194.0 1293.9L1195.0 1293.0L1196.0 1292.1L1197.0 1291.2L1198.0 1290.3L1199.0 1289.3L1200.0 1288.4L1201.0 1287.4L1202.0 1286.4L1203.0 1285.4L1204.0 1284.3L1205.0 1283.3L1206.0 1282.2L1207.0 1281.1L1208.0 1280.0L1209.1 1278.9L1210.1 1277.7L1211.1 1276.5L1212.1 1275.3L1213.1 1274.1L1214.1 1272.9L1215.1 1271.6L1216.1 1270.3L1217.1 1269.0L1218.1 1267.6L1219.1 1266.3L1220.1 1264.9L1221.1 1263.4L1222.1 1262.0L1223.1 1260.6L1224.1 1259.1L1225.1 1257.6L1226.1 1256.1L1227.1 1254.6L1228.1 1253.1L1229.1 1251.6L1230.1 1250.1L1231.2 1248.5L1232.2 1246.9L1233.2 1245.4L1234.2 1243.8L1235.2 1242.1L1236.2 1240.5L1237.2 1238.8L1238.2 1237.1L1239.2 1235.4L1240.2 1233.7L1241.2 1232.0L1242.2 1230.2L1243.2 1228.5L1244.2 1226.7L1245.2 1224.9L1246.2 1223.1L1247.2 1221.3L1248.2 1219.4L1249.2 1217.6L1250.2 1215.7L1251.2 1213.9L1252.2 1212.0L1253.3 1210.1L1254.3 1208.2L1255.3 1206.3L1256.3 1204.4L1257.3 1202.5L1258.3 1200.5L1259.3 1198.6L1260.3 1196.6L1261.3 1194.7L1262.3 1192.7L1263.3 1190.7L1264.3 1188.7L1265.3 1186.7L1266.3 1184.6L1267.3 1182.6L1268.3 1180.6L1269.3 1178.5L1270.3 1176.5L1271.3 1174.4L1272.3 1172.3L1273.3 1170.2L1274.3 1168.1L1275.4 1166.0L1276.4 1163.9L1277.4 1161.8L1278.4 1159.6L1279.4 1157.5L1280.4 1155.4L1281.4 1153.2L1282.4 1151.0L1283.4 1148.9L1284.4 1146.7L1285.4 1144.5L1286.4 1142.3L1287.4 1140.1L1288.4 1137.9L1289.4 1135.7L1290.4 1133.5L1291.4 1131.3L1292.4 1129.1L1293.4 1126.8L1294.4 1124.6L1295.4 1122.4L1296.4 1120.1L1297.4 1117.9L1298.5 1115.6L1299.5 1113.4L1300.5 1111.1L1301.5 1108.8L1302.5 1106.5L1303.5 1104.3L1304.5 1102.0L1305.5 1099.7L1306.5 1097.4L1307.5 1095.1L1308.5 1092.8L1309.5 1090.4L1310.5 1088.1L1311.5 1085.8L1312.5 1083.5L1313.5 1081.1L1314.5 1078.8L1315.5 1076.4L1316.5 1074.1L1317.5 1071.8L1318.5 1069.4L1319.5 1067.0L1320.6 1064.7L1321.6 1062.3L1322.6 1059.9L1323.6 1057.6L1324.6 1055.2L1325.6 1052.8L1326.6 1050.4L1327.6 1048.1L1328.6 1045.7L1329.6 1043.3L1330.6 1040.9L1331.6 1038.5L1332.6 1036.1L1333.6 1033.7L1334.6 1031.3L1335.6 1028.9L1336.6 1026.5L1337.6 1024.1L1338.6 1021.7L1339.6 1019.3L1340.6 1016.9L1341.6 1014.5L1342.7 1012.1L1343.7 1009.7L1344.7 1007.3L1345.7 1004.9L1346.7 1002.5L1347.7 1000.1L1348.7 997.7L1349.7 995.3L1350.7 992.9L1351.7 990.5L1352.7 988.1L1353.7 985.7L1354.7 983.3L1355.7 980.9L1356.7 978.5L1357.7 976.1L1358.7 973.7L1359.7 971.3L1360.7 968.9L1361.7 966.5L1362.7 964.2L1363.7 961.8L1364.8 959.4L1365.8 957.0L1366.8 954.6L1367.8 952.3L1368.8 949.9L1369.8 947.5L1370.8 945.2L1371.8 942.8L1372.8 940.5L1373.8 938.1L1374.8 935.7L1375.8 933.4L1376.8 931.1L1377.8 928.7L1378.8 926.4L1379.8 924.0L1380.8 921.7L1381.8 919.4L1382.8 917.1L1383.8 914.8L1384.8 912.4L1385.8 910.1L1386.9 907.8L1387.9 905.5L1388.9 903.3L1389.9 901.0L1390.9 898.7L1391.9 896.4L1392.9 894.2L1393.9 891.9L1394.9 889.6L1395.9 887.4L1396.9 885.1L1397.9 882.9L1398.9 880.7L1399.9 878.4L1400.9 876.2L1401.9 874.0L1402.9 871.8L1403.9 869.6L1404.9 867.4L1405.9 865.3L1406.9 863.1L1407.9 860.9L1409.0 858.8L1410.0 856.7L1411.0 854.5L1412.0 852.4L1413.0 850.3L1414.0 848.2L1415.0 846.1L1416.0 844.1L1417.0 842.0L1418.0 839.9L1419.0 837.9L1420.0 835.8L1421.0 833.8L1422.0 831.8L1423.0 829.7L1424.0 827.7L1425.0 825.7L1426.0 823.7L1427.0 821.8L1428.0 819.8L1429.0 817.8L1430.0 815.9L1431.1 813.9L1432.1 812.0L1433.1 810.1L1434.1 808.2L1435.1 806.3L1436.1 804.4L1437.1 802.5L1438.1 800.6L1439.1 798.8L1440.1 796.9L1441.1 795.1L1442.1 793.3L1443.1 791.5L1444.1 789.7L1445.1 787.9L1446.1 786.1L1447.1 784.3L1448.1 782.6L1449.1 780.8L1450.1 779.1L1451.1 777.4L1452.1 775.7L1453.1 774.0L1454.2 772.3L1455.2 770.6L1456.2 768.9L1457.2 767.3L1458.2 765.7L1459.2 764.0L1460.2 762.4L1461.2 760.8L1462.2 759.3L1463.2 757.7L1464.2 756.1L1465.2 754.6L1466.2 753.1L1467.2 751.5L1468.2 750.0L1469.2 748.6L1470.2 747.1L1471.2 745.6L1472.2 744.2L1473.2 742.7L1474.2 741.3L1475.2 739.9L1476.3 738.5L1477.3 737.2L1478.3 735.8L1479.3 734.5L1480.3 733.2L1481.3 731.9L1482.3 730.6L1483.3 729.4L1484.3 728.2L1485.3 727.0L1486.3 725.8L1487.3 724.7L1488.3 723.6L1489.3 722.5L1490.3 721.4L1491.3 720.3L1492.3 719.3L1493.3 718.3L1494.3 717.2L1495.3 716.3L1496.3 715.3L1497.3 714.3L1498.4 713.4L1499.4 712.4L1500.4 711.5L1501.4 710.6L1502.4 709.7L1503.4 708.8L1504.4 707.9L1505.4 707.0L1506.4 706.1L1507.4 705.2L1508.4 704.3L1509.4 703.4L1510.4 702.5L1511.4 701.7L1512.4 700.8L1513.4 700.0L1514.4 699.2L1515.4 698.4L1516.4 697.6L1517.4 696.8L1518.4 696.1L1519.4 695.3L1520.5 694.6L1521.5 694.0L1522.5 693.3L1523.5 692.7L1524.5 692.0L1525.5 691.4L1526.5 690.8L1527.5 690.3L1528.5 689.7L1529.5 689.2L1530.5 688.7L1531.5 688.2L1532.5 687.7L1533.5 687.3L1534.5 686.8L1535.5 686.3L1536.5 685.9L1537.5 685.5L1538.5 685.0L1539.5 684.6L1540.5 684.3L1541.5 683.9L1542.6 683.5L1543.6 683.2L1544.6 682.9L1545.6 682.6L1546.6 682.4L1547.6 682.1L1548.6 681.9L1549.6 681.7L1550.6 681.5L1551.6 681.3L1552.6 681.2L1553.6 681.1L1554.6 680.9L1555.6 680.9L1556.6 680.8L1557.6 680.8L1558.6 680.7L1559.6 680.7L1560.6 680.7L1561.6 680.7L1562.6 680.8L1563.6 680.8L1564.7 680.9L1565.7 680.9L1566.7 680.9L1567.7 681.0L1568.7 681.0L1569.7 681.0L1570.7 681.1L1571.7 681.1L1572.7 681.2L1573.7 681.2L1574.7 681.2L1575.7 681.3L1576.7 681.3L1577.7 681.4L1578.7 681.4L1579.7 681.5L1580.7 681.5L1581.7 681.6L1582.7 681.7L1583.7 681.7L1584.7 681.8L1585.7 681.9L1586.7 682.0L1587.8 682.2L1588.8 682.3L1589.8 682.4L1590.8 682.6L1591.8 682.8L1592.8 683.0L1593.8 683.2L1594.8 683.4L1595.8 683.7L1596.8 684.0L1597.8 684.3L1598.8 684.6L1599.8 684.9L1600.8 685.3L1601.8 685.7L1602.8 686.1L1603.8 686.6L1604.8 687.0L1605.8 687.5L1606.8 688.0L1607.8 688.6L1608.8 689.1L1609.9 689.7L1610.9 690.4L1611.9 691.0L1612.9 691.8L1613.9 692.5L1614.9 693.3L1615.9 694.1L1616.9 695.0L1617.9 695.8L1618.9 696.7L1619.9 697.7L1620.9 698.6L1621.9 699.6L1622.9 700.6L1623.9 701.6L1624.9 702.7L1625.9 703.7L1626.9 704.8L1627.9 705.8L1628.9 706.9L1629.9 708.1L1630.9 709.2L1632.0 710.3L1633.0 711.5L1634.0 712.6L1635.0 713.8L1636.0 715.0L1637.0 716.2L1638.0 717.5L1639.0 718.7L1640.0 720.0L1641.0 721.3L1642.0 722.7L1643.0 724.0L1644.0 725.4L1645.0 726.7L1646.0 728.1L1647.0 729.5L1648.0 730.9L1649.0 732.3L1650.0 733.8L1651.0 735.3L1652.0 736.8L1653.0 738.3L1654.1 739.9L1655.1 741.5L1656.1 743.1L1657.1 744.8L1658.1 746.4L1659.1 748.1L1660.1 749.9L1661.1 751.6L1662.1 753.3L1663.1 755.1L1664.1 756.9L1665.1 758.6L1666.1 760.4L1667.1 762.2L1668.1 764.1L1669.1 765.9L1670.1 767.7L1671.1 769.6L1672.1 771.5L1673.1 773.3L1674.1 775.2L1675.1 777.1L1676.2 779.0L1677.2 781.0L1678.2 782.9L1679.2 784.8L1680.2 786.8L1681.2 788.8L1682.2 790.8L1683.2 792.7L1684.2 794.7L1685.2 796.8L1686.2 798.8L1687.2 800.8L1688.2 802.9L1689.2 804.9L1690.2 807.0L1691.2 809.0L1692.2 811.1L1693.2 813.2L1694.2 815.3L1695.2 817.4L1696.2 819.5L1697.2 821.7L1698.3 823.8L1699.3 826.0L1700.3 828.1L1701.3 830.3L1702.3 832.5L1703.3 834.6L1704.3 836.8L1705.3 839.0L1706.3 841.2L1707.3 843.5L1708.3 845.7L1709.3 847.9L1710.3 850.1L1711.3 852.3L1712.3 854.5L1713.3 856.8L1714.3 859.0L1715.3 861.2L1716.3 863.4L1717.3 865.6L1718.3 867.9L1719.3 870.1L1720.3 872.3L1721.4 874.6L1722.4 876.8L1723.4 879.1L1724.4 881.3L1725.4 883.6L1726.4 885.8L1727.4 888.1L1728.4 890.4L1729.4 892.7L1730.4 895.0L1731.4 897.3L1732.4 899.6L1733.4 901.9L1734.4 904.2L1735.4 906.5L1736.4 908.8L1737.4 911.1L1738.4 913.5L1739.4 915.8L1740.4 918.1L1741.4 920.5L1742.4 922.8L1743.5 925.2L1744.5 927.5L1745.5 929.9L1746.5 932.3L1747.5 934.6L1748.5 937.0L1749.5 939.4L1750.5 941.7L1751.5 944.1L1752.5 946.5L1753.5 948.9L1754.5 951.2L1755.5 953.6L1756.5 956.0L1757.5 958.4L1758.5 960.8L1759.5 963.2L1760.5 965.6L1761.5 968.0L1762.5 970.4L1763.5 972.8L1764.5 975.2L1765.6 977.6L1766.6 980.0L1767.6 982.4L1768.6 984.8L1769.6 987.2L1770.6 989.5L1771.6 991.9L1772.6 994.3L1773.6 996.7L1774.6 999.0L1775.6 1001.4L1776.6 1003.7L1777.6 1006.1L1778.6 1008.4L1779.6 1010.8L1780.6 1013.1L1781.6 1015.5L1782.6 1017.8L1783.6 1020.1L1784.6 1022.5L1785.6 1024.8L1786.6 1027.2L1787.7 1029.5L1788.7 1031.8L1789.7 1034.1L1790.7 1036.5L1791.7 1038.8L1792.7 1041.1L1793.7 1043.4L1794.7 1045.7L1795.7 1048.1L1796.7 1050.4L1797.7 1052.7L1798.7 1055.0L1799.7 1057.3L1800.7 1059.6L1801.7 1061.9L1802.7 1064.2L1803.7 1066.4L1804.7 1068.7L1805.7 1071.0L1806.7 1073.3L1807.7 1075.5L1808.7 1077.8L1809.8 1080.1L1810.8 1082.3L1811.8 1084.6L1812.8 1086.8L1813.8 1089.1L1814.8 1091.3L1815.8 1093.5L1816.8 1095.7L1817.8 1098.0L1818.8 1100.2L1819.8 1102.4L1820.8 1104.6L1821.8 1106.8L1822.8 1109.0L1823.8 1111.1L1824.8 1113.3L1825.8 1115.5L1826.8 1117.6L1827.8 1119.8L1828.8 1121.9L1829.8 1124.1L1830.8 1126.2L1831.9 1128.3L1832.9 1130.5L1833.9 1132.6L1834.9 1134.7L1835.9 1136.8L1836.9 1138.9L1837.9 1140.9L1838.9 1143.0L1839.9 1145.1L1840.9 1147.1L1841.9 1149.2L1842.9 1151.2L1843.9 1153.2L1844.9 1155.3L1845.9 1157.3L1846.9 1159.3L1847.9 1161.3L1848.9 1163.2L1849.9 1165.2L1850.9 1167.2L1851.9 1169.1L1852.9 1171.1L1854.0 1173.0L1855.0 1174.9L1856.0 1176.9L1857.0 1178.8L1858.0 1180.6L1859.0 1182.5L1860.0 1184.4L1861.0 1186.3L1862.0 1188.1L1863.0 1189.9L1864.0 1191.8L1865.0 1193.6L1866.0 1195.4L1867.0 1197.2L1868.0 1199.0L1869.0 1200.7L1870.0 1202.5L1871.0 1204.2L1872.0 1206.0L1873.0 1207.7L1874.0 1209.4L1875.0 1211.1L1876.0 1212.8L1877.1 1214.5L1878.1 1216.1L1879.1 1217.8L1880.1 1219.4L1881.1 1221.0L1882.1 1222.7L1883.1 1224.3L1884.1 1225.8L1885.1 1227.4L1886.1 1229.0L1887.1 1230.5L1888.1 1232.1L1889.1 1233.6L1890.1 1235.1L1891.1 1236.6L1892.1 1238.1L1893.1 1239.5L1894.1 1241.0L1895.1 1242.4L1896.1 1243.9L1897.1 1245.3L1898.1 1246.7L1899.2 1248.1L1900.2 1249.5L1901.2 1250.8L1902.2 1252.2L1903.2 1253.5L1904.2 1254.8L1905.2 1256.1L1906.2 1257.4L1907.2 1258.7L1908.2 1259.9L1909.2 1261.2L1910.2 1262.4L1911.2 1263.6L1912.2 1264.8L1913.2 1266.0L1914.2 1267.2L1915.2 1268.3L1916.2 1269.5L1917.2 1270.6L1918.2 1271.7L1919.2 1272.8L1920.2 1273.9L1921.3 1275.0L1922.3 1276.0L1923.3 1277.0L1924.3 1278.1L1925.3 1279.1L1926.3 1280.1L1927.3 1281.0L1928.3 1282.0L1929.3 1282.9L1930.3 1283.9L1931.3 1284.8L1932.3 1285.7L1933.3 1286.6L1934.3 1287.4L1935.3 1288.3L1936.3 1289.1L1937.3 1289.9L1938.3 1290.7L1939.3 1291.5L1940.3 1292.3L1941.3 1293.0L1942.3 1293.7L1943.4 1294.5L1944.4 1295.2L1945.4 1295.8L1946.4 1296.5L1947.4 1297.2L1948.4 1297.8L1949.4 1298.4L1950.4 1299.0L1951.4 1299.6L1952.4 1300.2L1953.4 1300.7L1954.4 1301.2L1955.4 1301.8L1956.4 1302.2L1957.4 1302.7L1958.4 1303.2L1959.4 1303.6L1960.4 1304.1L1961.4 1304.5L1962.4 1304.9L1963.4 1305.3L1964.4 1305.6L1965.5 1306.0L1966.5 1306.3L1967.5 1306.6L1968.5 1306.9L1969.5 1307.2L1970.5 1307.4L1971.5 1307.7L1972.5 1307.9L1973.5 1308.1L1974.5 1308.3L1975.5 1308.5L1976.5 1308.6L1977.5 1308.7L1978.5 1308.9L1979.5 1309.0L1980.5 1309.0L1981.5 1309.1L1982.5 1309.2L1983.5 1309.2L1984.5 1309.2L1985.5 1309.2L1986.5 1309.2L1987.6 1309.1L1988.6 1309.1L1989.6 1309.0L1990.6 1308.9L1991.6 1308.8L1992.6 1308.7" stroke-width="4.8"/>
<path d="M284.9 1310.0L285.9 1310.0L286.9 1310.0L287.9 1310.0L288.9 1309.9L289.9 1309.8L290.9 1309.8L291.9 1309.7L292.9 1309.5L293.9 1309.4L294.9 1309.3L295.9 1309.1L297.0 1308.9L298.0 1308.7L299.0 1308.5L300.0 1308.2L301.0 1308.0L302.0 1307.7L303.0 1307.4L304.0 1307.1L305.0 1306.8L306.0 1306.4L307.0 1306.1L308.0 1305.8L309.0 1305.4L310.0 1305.1L311.0 1304.7L312.0 1304.4L313.0 1304.0L314.0 1303.6L315.0 1303.3L316.0 1302.9L317.0 1302.5L318.0 1302.1L319.1 1301.7L320.1 1301.3L321.1 1300.8L322.1 1300.3L323.1 1299.8L324.1 1299.3L325.1 1298.8L326.1 1298.3L327.1 1297.7L328.1 1297.2L329.1 1296.6L330.1 1296.0L331.1 1295.4L332.1 1294.7L333.1 1294.1L334.1 1293.4L335.1 1292.7L336.1 1292.0L337.1 1291.3L338.1 1290.6L339.1 1289.8L340.1 1289.1L341.2 1288.3L342.2 1287.4L343.2 1286.6L344.2 1285.7L345.2 1284.7L346.2 1283.8L347.2 1282.8L348.2 1281.8L349.2 1280.7L350.2 1279.7L351.2 1278.6L352.2 1277.5L353.2 1276.3L354.2 1275.2L355.2 1274.0L356.2 1272.9L357.2 1271.7L358.2 1270.5L359.2 1269.3L360.2 1268.1L361.2 1266.8L362.2 1265.5L363.3 1264.3L364.3 1263.0L365.3 1261.7L366.3 1260.4L367.3 1259.0L368.3 1257.7L369.3 1256.3L370.3 1255.0L371.3 1253.6L372.3 1252.2L373.3 1250.8L374.3 1249.3L375.3 1247.9L376.3 1246.4L377.3 1245.0L378.3 1243.5L379.3 1242.0L380.3 1240.5L381.3 1238.9L382.3 1237.4L383.3 1235.8L384.3 1234.3L385.4 1232.7L386.4 1231.1L387.4 1229.4L388.4 1227.8L389.4 1226.1L390.4 1224.5L391.4 1222.8L392.4 1221.1L393.4 1219.3L394.4 1217.6L395.4 1215.9L396.4 1214.1L397.4 1212.3L398.4 1210.6L399.4 1208.8L400.4 1207.0L401.4 1205.1L402.4 1203.3L403.4 1201.5L404.4 1199.6L405.4 1197.8L406.4 1195.9L407.5 1194.0L408.5 1192.1L409.5 1190.2L410.5 1188.3L411.5 1186.4L412.5 1184.4L413.5 1182.5L414.5 1180.5L415.5 1178.6L416.5 1176.6L417.5 1174.6L418.5 1172.6L419.5 1170.6L420.5 1168.6L421.5 1166.6L422.5 1164.5L423.5 1162.5L424.5 1160.5L425.5 1158.4L426.5 1156.3L427.5 1154.2L428.5 1152.2L429.5 1150.1L430.6 1148.0L431.6 1145.9L432.6 1143.7L433.6 1141.6L434.6 1139.5L435.6 1137.3L436.6 1135.2L437.6 1133.0L438.6 1130.9L439.6 1128.7L440.6 1126.5L441.6 1124.3L442.6 1122.1L443.6 1119.9L444.6 1117.7L445.6 1115.5L446.6 1113.3L447.6 1111.1L448.6 1108.8L449.6 1106.6L450.6 1104.3L451.6 1102.1L452.7 1099.9L453.7 1097.6L454.7 1095.4L455.7 1093.1L456.7 1090.9L457.7 1088.6L458.7 1086.4L459.7 1084.1L460.7 1081.9L461.7 1079.6L462.7 1077.4L463.7 1075.1L464.7 1072.8L465.7 1070.6L466.7 1068.3L467.7 1066.0L468.7 1063.7L469.7 1061.5L470.7 1059.2L471.7 1056.9L472.7 1054.6L473.7 1052.3L474.8 1050.0L475.8 1047.7L476.8 1045.4L477.8 1043.1L478.8 1040.7L479.8 1038.4L480.8 1036.1L481.8 1033.8L482.8 1031.5L483.8 1029.1L484.8 1026.8L485.8 1024.5L486.8 1022.2L487.8 1019.8L488.8 1017.5L489.8 1015.2L490.8 1012.8L491.8 1010.5L492.8 1008.2L493.8 1005.8L494.8 1003.5L495.8 1001.2L496.9 998.8L497.9 996.5L498.9 994.2L499.9 991.8L500.9 989.5L501.9 987.2L502.9 984.8L503.9 982.5L504.9 980.2L505.9 977.8L506.9 975.5L507.9 973.2L508.9 970.8L509.9 968.5L510.9 966.2L511.9 963.9L512.9 961.5L513.9 959.2L514.9 956.9L515.9 954.6L516.9 952.3L517.9 950.0L519.0 947.7L520.0 945.4L521.0 943.1L522.0 940.8L523.0 938.5L524.0 936.2L525.0 933.9L526.0 931.6L527.0 929.3L528.0 927.0L529.0 924.8L530.0 922.5L531.0 920.2L532.0 918.0L533.0 915.7L534.0 913.5L535.0 911.2L536.0 909.0L537.0 906.7L538.0 904.5L539.0 902.3L540.0 900.1L541.1 897.8L542.1 895.6L543.1 893.4L544.1 891.2L545.1 889.1L546.1 886.9L547.1 884.7L548.1 882.6L549.1 880.4L550.1 878.2L551.1 876.1L552.1 874.0L553.1 871.8L554.1 869.7L555.1 867.6L556.1 865.5L557.1 863.4L558.1 861.3L559.1 859.2L560.1 857.1L561.1 855.0L562.1 853.0L563.2 850.9L564.2 848.9L565.2 846.8L566.2 844.8L567.2 842.8L568.2 840.7L569.2 838.7L570.2 836.7L571.2 834.7L572.2 832.8L573.2 830.8L574.2 828.8L575.2 826.9L576.2 824.9L577.2 823.0L578.2 821.1L579.2 819.2L580.2 817.3L581.2 815.4L582.2 813.5L583.2 811.6L584.2 809.8L585.2 807.9L586.3 806.1L587.3 804.2L588.3 802.4L589.3 800.6L590.3 798.8L591.3 797.0L592.3 795.2L593.3 793.5L594.3 791.7L595.3 790.0L596.3 788.2L597.3 786.5L598.3 784.8L599.3 783.1L600.3 781.4L601.3 779.7L602.3 778.1L603.3 776.4L604.3 774.8L605.3 773.2L606.3 771.6L607.3 770.0L608.4 768.4L609.4 766.8L610.4 765.2L611.4 763.7L612.4 762.2L613.4 760.6L614.4 759.1L615.4 757.6L616.4 756.2L617.4 754.7L618.4 753.2L619.4 751.8L620.4 750.4L621.4 748.9L622.4 747.5L623.4 746.1L624.4 744.8L625.4 743.4L626.4 742.0L627.4 740.7L628.4 739.4L629.4 738.0L630.5 736.7L631.5 735.4L632.5 734.2L633.5 732.9L634.5 731.6L635.5 730.4L636.5 729.1L637.5 727.9L638.5 726.7L639.5 725.5L640.5 724.4L641.5 723.2L642.5 722.1L643.5 721.0L644.5 720.0L645.5 718.9L646.5 717.9L647.5 716.9L648.5 715.9L649.5 714.9L650.5 713.9L651.5 712.9L652.6 712.0L653.6 711.0L654.6 710.0L655.6 709.1L656.6 708.1L657.6 707.2L658.6 706.3L659.6 705.4L660.6 704.5L661.6 703.6L662.6 702.7L663.6 701.8L664.6 701.0L665.6 700.2L666.6 699.4L667.6 698.6L668.6 697.9L669.6 697.2L670.6 696.5L671.6 695.9L672.6 695.2L673.6 694.6L674.7 694.0L675.7 693.4L676.7 692.9L677.7 692.3L678.7 691.7L679.7 691.2L680.7 690.6L681.7 690.1L682.7 689.6L683.7 689.1L684.7 688.6L685.7 688.2L686.7 687.7L687.7 687.3L688.7 686.9L689.7 686.5L690.7 686.1L691.7 685.8L692.7 685.5L693.7 685.2L694.7 684.9L695.7 684.6L696.8 684.4L697.8 684.2L698.8 684.0L699.8 683.8L700.8 683.6L701.8 683.4L702.8 683.3L703.8 683.2L704.8 683.1L705.8 683.0L706.8 682.9L707.8 682.8L708.8 682.8L709.8 682.7L710.8 682.7L711.8 682.7L712.8 682.8L713.8 682.8L714.8 682.8L715.8 682.9L716.8 683.0L717.8 683.0L718.8 683.1L719.9 683.1L720.9 683.2L721.9 683.2L722.9 683.2L723.9 683.2L724.9 683.2L725.9 683.1L726.9 683.1L727.9 683.1L728.9 683.1L729.9 683.1L730.9 683.2L731.9 683.2L732.9 683.3L733.9 683.4L734.9 683.5L735.9 683.7L736.9 683.9L737.9 684.0L738.9 684.3L739.9 684.5L740.9 684.8L742.0 685.1L743.0 685.4L744.0 685.7L745.0 686.1L746.0 686.5L747.0 686.9L748.0 687.4L749.0 687.8L750.0 688.3L751.0 688.9L752.0 689.4L753.0 690.0L754.0 690.6L755.0 691.3L756.0 691.9L757.0 692.6L758.0 693.3L759.0 694.0L760.0 694.7L761.0 695.5L762.0 696.3L763.0 697.1L764.1 698.0L765.1 698.9L766.1 699.8L767.1 700.7L768.1 701.7L769.1 702.7L770.1 703.7L771.1 704.8L772.1 705.8L773.1 706.9L774.1 708.0L775.1 709.0L776.1 710.1L777.1 711.2L778.1 712.4L779.1 713.5L780.1 714.7L781.1 715.9L782.1 717.1L783.1 718.3L784.1 719.5L785.1 720.8L786.2 722.0L787.2 723.3L788.2 724.6L789.2 725.9L790.2 727.2L791.2 728.5L792.2 729.8L793.2 731.1L794.2 732.5L795.2 733.8L796.2 735.2L797.2 736.6L798.2 738.0L799.2 739.4L800.2 740.9L801.2 742.4L802.2 743.8L803.2 745.3L804.2 746.9L805.2 748.4L806.2 750.0L807.2 751.6L808.3 753.2L809.3 754.8L810.3 756.4L811.3 758.1L812.3 759.7L813.3 761.4L814.3 763.1L815.3 764.8L816.3 766.5L817.3 768.2L818.3 770.0L819.3 771.7L820.3 773.5L821.3 775.2L822.3 777.0L823.3 778.8L824.3 780.6L825.3 782.4L826.3 784.3L827.3 786.1L828.3 788.0L829.3 789.8L830.4 791.7L831.4 793.6L832.4 795.5L833.4 797.4L834.4 799.3L835.4 801.2L836.4 803.2L837.4 805.1L838.4 807.1L839.4 809.0L840.4 811.0L841.4 813.0L842.4 815.0L843.4 817.0L844.4 819.0L845.4 821.0L846.4 823.1L847.4 825.1L848.4 827.2L849.4 829.2L850.4 831.3L851.4 833.4L852.5 835.5L853.5 837.6L854.5 839.7L855.5 841.8L856.5 843.9L857.5 846.1L858.5 848.2L859.5 850.3L860.5 852.5L861.5 854.6L862.5 856.8L863.5 859.0L864.5 861.1L865.5 863.3L866.5 865.5L867.5 867.6L868.5 869.8L869.5 872.0L870.5 874.2L871.5 876.4L872.5 878.6L873.5 880.8L874.5 883.0L875.6 885.3L876.6 887.5L877.6 889.7L878.6 892.0L879.6 894.2L880.6 896.5L881.6 898.7L882.6 901.0L883.6 903.3L884.6 905.5L885.6 907.8L886.6 910.1L887.6 912.4L888.6 914.7L889.6 917.0L890.6 919.3L891.6 921.6L892.6 923.9L893.6 926.2L894.6 928.5L895.6 930.8L896.6 933.2L897.7 935.5L898.7 937.8L899.7 940.1L900.7 942.5L901.7 944.8L902.7 947.2L903.7 949.5L904.7 951.9L905.7 954.2L906.7 956.5L907.7 958.9L908.7 961.3L909.7 963.6L910.7 966.0L911.7 968.3L912.7 970.7L913.7 973.0L914.7 975.4L915.7 977.8L916.7 980.1L917.7 982.5L918.7 984.9L919.8 987.2L920.8 989.6L921.8 991.9L922.8 994.3L923.8 996.6L924.8 999.0L925.8 1001.3L926.8 1003.7L927.8 1006.0L928.8 1008.3L929.8 1010.7L930.8 1013.0L931.8 1015.3L932.8 1017.6L933.8 1020.0L934.8 1022.3L935.8 1024.6L936.8 1026.9L937.8 1029.3L938.8 1031.6L939.8 1033.9L940.8 1036.2L941.9 1038.5L942.9 1040.8L943.9 1043.1L944.9 1045.5L945.9 1047.8L946.9 1050.1L947.9 1052.3L948.9 1054.6L949.9 1056.9L950.9 1059.2L951.9 1061.5L952.9 1063.8L953.9 1066.0L954.9 1068.3L955.9 1070.6L956.9 1072.8L957.9 1075.1L958.9 1077.4L959.9 1079.6L960.9 1081.8L961.9 1084.1L962.9 1086.3L964.0 1088.5L965.0 1090.8L966.0 1093.0L967.0 1095.2L968.0 1097.4L969.0 1099.6L970.0 1101.8L971.0 1104.0L972.0 1106.2L973.0 1108.3L974.0 1110.5L975.0 1112.7L976.0 1114.8L977.0 1117.0L978.0 1119.1L979.0 1121.3L980.0 1123.4L981.0 1125.5L982.0 1127.6L983.0 1129.7L984.0 1131.8L985.0 1133.9L986.1 1136.0L987.1 1138.1L988.1 1140.2L989.1 1142.2L990.1 1144.3L991.1 1146.3L992.1 1148.4L993.1 1150.4L994.1 1152.4L995.1 1154.4L996.1 1156.4L997.1 1158.4L998.1 1160.4L999.1 1162.4L1000.1 1164.3L1001.1 1166.3L1002.1 1168.2L1003.1 1170.1L1004.1 1172.1L1005.1 1174.0L1006.1 1175.9L1007.1 1177.8L1008.1 1179.6L1009.2 1181.5L1010.2 1183.4L1011.2 1185.2L1012.2 1187.0L1013.2 1188.9L1014.2 1190.7L1015.2 1192.5L1016.2 1194.3L1017.2 1196.0L1018.2 1197.8L1019.2 1199.6L1020.2 1201.3L1021.2 1203.0L1022.2 1204.7L1023.2 1206.5L1024.2 1208.2L1025.2 1209.8L1026.2 1211.5L1027.2 1213.2L1028.2 1214.8L1029.2 1216.4L1030.2 1218.1L1031.3 1219.7L1032.3 1221.3L1033.3 1222.9L1034.3 1224.4L1035.3 1226.0L1036.3 1227.5L1037.3 1229.1L1038.3 1230.6L1039.3 1232.1L1040.3 1233.6L1041.3 1235.1L1042.3 1236.5L1043.3 1238.0L1044.3 1239.4L1045.3 1240.9L1046.3 1242.3L1047.3 1243.7L1048.3 1245.1L1049.3 1246.4L1050.3 1247.8L1051.3 1249.1L1052.3 1250.5L1053.4 1251.8L1054.4 1253.1L1055.4 1254.4L1056.4 1255.6L1057.4 1256.9L1058.4 1258.1L1059.4 1259.4L1060.4 1260.6L1061.4 1261.8L1062.4 1263.0L1063.4 1264.1L1064.4 1265.3L1065.4 1266.4L1066.4 1267.6L1067.4 1268.7L1068.4 1269.8L1069.4 1270.9L1070.4 1272.0L1071.4 1273.0L1072.4 1274.1L1073.4 1275.1L1074.4 1276.1L1075.5 1277.2L1076.5 1278.1L1077.5 1279.1L1078.5 1280.1L1079.5 1281.0L1080.5 1281.9L1081.5 1282.9L1082.5 1283.7L1083.5 1284.6L1084.5 1285.5L1085.5 1286.3L1086.5 1287.2L1087.5 1288.0L1088.5 1288.8L1089.5 1289.6L1090.5 1290.3L1091.5 1291.1L1092.5 1291.8L1093.5 1292.5L1094.5 1293.2L1095.5 1293.9L1096.5 1294.6L1097.6 1295.2L1098.6 1295.8L1099.6 1296.4L1100.6 1297.0L1101.6 1297.6L1102.6 1298.2L1103.6 1298.7L1104.6 1299.3L1105.6 1299.8L1106.6 1300.3L1107.6 1300.8L1108.6 1301.2L1109.6 1301.7L1110.6 1302.1L1111.6 1302.5L1112.6 1302.9L1113.6 1303.3L1114.6 1303.6L1115.6 1304.0L1116.6 1304.3L1117.6 1304.6L1118.6 1304.9L1119.7 1305.2L1120.7 1305.4L1121.7 1305.7L1122.7 1305.9L1123.7 1306.1L1124.7 1306.3L1125.7 1306.4L1126.7 1306.6L1127.7 1306.7L1128.7 1306.9L1129.7 1307.0L1130.7 1307.0L1131.7 1307.1L1132.7 1307.2L1133.7 1307.3L1134.7 1307.3L1135.7 1307.4L1136.7 1307.4L1137.7 1307.5L1138.7 1307.5L1139.7 1307.5L1140.7 1307.5L1141.8 1307.5L1142.8 1307.5L1143.8 1307.4L1144.8 1307.4L1145.8 1307.3L1146.8 1307.3L1147.8 1307.2L1148.8 1307.1L1149.8 1307.1L1150.8 1307.0L1151.8 1306.9L1152.8 1306.9L1153.8 1306.8L1154.8 1306.8L1155.8 1306.7L1156.8 1306.6L1157.8 1306.5L1158.8 1306.4L1159.8 1306.3L1160.8 1306.1L1161.8 1305.9L1162.8 1305.7L1163.8 1305.5L1164.9 1305.3L1165.9 1305.0L1166.9 1304.7L1167.9 1304.4L1168.9 1304.1L1169.9 1303.7L1170.9 1303.3L1171.9 1302.9L1172.9 1302.5L1173.9 1302.0L1174.9 1301.5L1175.9 1301.0L1176.9 1300.4L1177.9 1299.8L1178.9 1299.2L1179.9 1298.6L1180.9 1297.9L1181.9 1297.2L1182.9 1296.5L1183.9 1295.8L1184.9 1295.0L1185.9 1294.3L1187.0 1293.4L1188.0 1292.6L1189.0 1291.7L1190.0 1290.9L1191.0 1289.9L1192.0 1289.0L1193.0 1288.1L1194.0 1287.1L1195.0 1286.1L1196.0 1285.1L1197.0 1284.1L1198.0 1283.1L1199.0 1282.0L1200.0 1280.9L1201.0 1279.8L1202.0 1278.7L1203.0 1277.6L1204.0 1276.5L1205.0 1275.3L1206.0 1274.1L1207.0 1273.0L1208.0 1271.8L1209.1 1270.5L1210.1 1269.3L1211.1 1268.1L1212.1 1266.8L1213.1 1265.5L1214.1 1264.3L1215.1 1262.9L1216.1 1261.6L1217.1 1260.3L1218.1 1258.9L1219.1 1257.6L1220.1 1256.2L1221.1 1254.8L1222.1 1253.4L1223.1 1251.9L1224.1 1250.5L1225.1 1249.0L1226.1 1247.5L1227.1 1246.0L1228.1 1244.5L1229.1 1243.0L1230.1 1241.4L1231.2 1239.9L1232.2 1238.3L1233.2 1236.7L1234.2 1235.1L1235.2 1233.5L1236.2 1231.9L1237.2 1230.3L1238.2 1228.6L1239.2 1227.0L1240.2 1225.3L1241.2 1223.6L1242.2 1222.0L1243.2 1220.2L1244.2 1218.5L1245.2 1216.8L1246.2 1215.1L1247.2 1213.3L1248.2 1211.5L1249.2 1209.8L1250.2 1208.0L1251.2 1206.2L1252.2 1204.4L1253.3 1202.6L1254.3 1200.7L1255.3 1198.9L1256.3 1197.0L1257.3 1195.2L1258.3 1193.3L1259.3 1191.4L1260.3 1189.5L1261.3 1187.6L1262.3 1185.7L1263.3 1183.8L1264.3 1181.8L1265.3 1179.9L1266.3 1177.9L1267.3 1175.9L1268.3 1174.0L1269.3 1172.0L1270.3 1170.0L1271.3 1168.0L1272.3 1166.0L1273.3 1163.9L1274.3 1161.9L1275.4 1159.9L1276.4 1157.8L1277.4 1155.8L1278.4 1153.7L1279.4 1151.6L1280.4 1149.5L1281.4 1147.4L1282.4 1145.3L1283.4 1143.2L1284.4 1141.1L1285.4 1139.0L1286.4 1136.9L1287.4 1134.7L1288.4 1132.6L1289.4 1130.4L1290.4 1128.3L1291.4 1126.1L1292.4 1124.0L1293.4 1121.8L1294.4 1119.6L1295.4 1117.5L1296.4 1115.3L1297.4 1113.1L1298.5 1110.9L1299.5 1108.7L1300.5 1106.5L1301.5 1104.2L1302.5 1102.0L1303.5 1099.8L1304.5 1097.6L1305.5 1095.3L1306.5 1093.1L1307.5 1090.8L1308.5 1088.6L1309.5 1086.3L1310.5 1084.0L1311.5 1081.8L1312.5 1079.5L1313.5 1077.2L1314.5 1074.9L1315.5 1072.6L1316.5 1070.4L1317.5 1068.1L1318.5 1065.8L1319.5 1063.5L1320.6 1061.1L1321.6 1058.8L1322.6 1056.5L1323.6 1054.2L1324.6 1051.9L1325.6 1049.6L1326.6 1047.2L1327.6 1044.9L1328.6 1042.6L1329.6 1040.3L1330.6 1037.9L1331.6 1035.6L1332.6 1033.2L1333.6 1030.9L1334.6 1028.6L1335.6 1026.2L1336.6 1023.9L1337.6 1021.5L1338.6 1019.2L1339.6 1016.8L1340.6 1014.5L1341.6 1012.1L1342.7 1009.8L1343.7 1007.4L1344.7 1005.1L1345.7 1002.7L1346.7 1000.4L1347.7 998.0L1348.7 995.7L1349.7 993.4L1350.7 991.0L1351.7 988.7L1352.7 986.3L1353.7 984.0L1354.7 981.7L1355.7 979.3L1356.7 977.0L1357.7 974.6L1358.7 972.3L1359.7 970.0L1360.7 967.7L1361.7 965.3L1362.7 963.0L1363.7 960.7L1364.8 958.4L1365.8 956.0L1366.8 953.7L1367.8 951.4L1368.8 949.1L1369.8 946.8L1370.8 944.5L1371.8 942.2L1372.8 939.9L1373.8 937.6L1374.8 935.3L1375.8 933.0L1376.8 930.7L1377.8 928.4L1378.8 926.1L1379.8 923.9L1380.8 921.6L1381.8 919.3L1382.8 917.1L1383.8 914.8L1384.8 912.6L1385.8 910.3L1386.9 908.1L1387.9 905.8L1388.9 903.6L1389.9 901.4L1390.9 899.1L1391.9 896.9L1392.9 894.7L1393.9 892.5L1394.9 890.3L1395.9 888.1L1396.9 885.9L1397.9 883.7L1398.9 881.6L1399.9 879.4L1400.9 877.2L1401.9 875.1L1402.9 872.9L1403.9 870.8L1404.9 868.7L1405.9 866.5L1406.9 864.4L1407.9 862.3L1409.0 860.2L1410.0 858.1L1411.0 856.0L1412.0 853.9L1413.0 851.9L1414.0 849.8L1415.0 847.7L1416.0 845.7L1417.0 843.6L1418.0 841.6L1419.0 839.6L1420.0 837.6L1421.0 835.6L1422.0 833.6L1423.0 831.6L1424.0 829.6L1425.0 827.6L1426.0 825.7L1427.0 823.7L1428.0 821.8L1429.0 819.9L1430.0 817.9L1431.1 816.0L1432.1 814.1L1433.1 812.2L1434.1 810.4L1435.1 808.5L1436.1 806.6L1437.1 804.8L1438.1 803.0L1439.1 801.1L1440.1 799.3L1441.1 797.5L1442.1 795.7L1443.1 793.9L1444.1 792.2L1445.1 790.4L1446.1 788.7L1447.1 786.9L1448.1 785.2L1449.1 783.5L1450.1 781.8L1451.1 780.1L1452.1 778.4L1453.1 776.8L1454.2 775.1L1455.2 773.5L1456.2 771.8L1457.2 770.2L1458.2 768.6L1459.2 767.0L1460.2 765.5L1461.2 763.9L1462.2 762.3L1463.2 760.8L1464.2 759.3L1465.2 757.8L1466.2 756.3L1467.2 754.8L1468.2 753.3L1469.2 751.9L1470.2 750.4L1471.2 749.0L1472.2 747.6L1473.2 746.2L1474.2 744.8L1475.2 743.4L1476.3 742.0L1477.3 740.7L1478.3 739.3L1479.3 738.0L1480.3 736.7L1481.3 735.4L1482.3 734.1L1483.3 732.9L1484.3 731.6L1485.3 730.4L1486.3 729.1L1487.3 727.9L1488.3 726.7L1489.3 725.5L1490.3 724.4L1491.3 723.2L1492.3 722.1L1493.3 721.0L1494.3 719.9L1495.3 718.9L1496.3 717.9L1497.3 716.9L1498.4 715.9L1499.4 714.9L1500.4 713.9L1501.4 712.9L1502.4 711.9L1503.4 711.0L1504.4 710.0L1505.4 709.1L1506.4 708.1L1507.4 707.2L1508.4 706.3L1509.4 705.4L1510.4 704.4L1511.4 703.5L1512.4 702.7L1513.4 701.8L1514.4 701.0L1515.4 700.2L1516.4 699.4L1517.4 698.6L1518.4 697.9L1519.4 697.2L1520.5 696.5L1521.5 695.9L1522.5 695.2L1523.5 694.6L1524.5 694.0L1525.5 693.4L1526.5 692.9L1527.5 692.3L1528.5 691.7L1529.5 691.2L1530.5 690.6L1531.5 690.1L1532.5 689.6L1533.5 689.1L1534.5 688.6L1535.5 688.1L1536.5 687.7L1537.5 687.3L1538.5 686.9L1539.5 686.5L1540.5 686.1L1541.5 685.8L1542.6 685.5L1543.6 685.2L1544.6 684.9L1545.6 684.6L1546.6 684.4L1547.6 684.2L1548.6 684.0L1549.6 683.8L1550.6 683.6L1551.6 683.4L1552.6 683.3L1553.6 683.2L1554.6 683.1L1555.6 683.0L1556.6 682.9L1557.6 682.8L1558.6 682.8L1559.6 682.7L1560.6 682.7L1561.6 682.7L1562.6 682.8L1563.6 682.8L1564.7 682.8L1565.7 682.9L1566.7 683.0L1567.7 683.0L1568.7 683.1L1569.7 683.1L1570.7 683.2L1571.7 683.2L1572.7 683.2L1573.7 683.2L1574.7 683.2L1575.7 683.1L1576.7 683.1L1577.7 683.1L1578.7 683.1L1579.7 683.1L1580.7 683.2L1581.7 683.2L1582.7 683.3L1583.7 683.4L1584.7 683.5L1585.7 683.7L1586.7 683.9L1587.8 684.1L1588.8 684.3L1589.8 684.5L1590.8 684.8L1591.8 685.1L1592.8 685.4L1593.8 685.7L1594.8 686.1L1595.8 686.5L1596.8 686.9L1597.8 687.4L1598.8 687.9L1599.8 688.4L1600.8 688.9L1601.8 689.5L1602.8 690.0L1603.8 690.7L1604.8 691.3L1605.8 691.9L1606.8 692.6L1607.8 693.3L1608.8 694.0L1609.9 694.8L1610.9 695.5L1611.9 696.3L1612.9 697.1L1613.9 698.0L1614.9 698.9L1615.9 699.8L1616.9 700.8L1617.9 701.7L1618.9 702.7L1619.9 703.7L1620.9 704.8L1621.9 705.8L1622.9 706.9L1623.9 708.0L1624.9 709.1L1625.9 710.2L1626.9 711.3L1627.9 712.4L1628.9 713.6L1629.9 714.7L1630.9 715.9L1632.0 717.1L1633.0 718.3L1634.0 719.5L1635.0 720.8L1636.0 722.1L1637.0 723.3L1638.0 724.6L1639.0 725.9L1640.0 727.2L1641.0 728.5L1642.0 729.8L1643.0 731.2L1644.0 732.5L1645.0 733.9L1646.0 735.2L1647.0 736.6L1648.0 738.0L1649.0 739.5L1650.0 740.9L1651.0 742.4L1652.0 743.9L1653.0 745.4L1654.1 746.9L1655.1 748.4L1656.1 750.0L1657.1 751.6L1658.1 753.2L1659.1 754.8L1660.1 756.5L1661.1 758.1L1662.1 759.8L1663.1 761.4L1664.1 763.1L1665.1 764.8L1666.1 766.5L1667.1 768.3L1668.1 770.0L1669.1 771.7L1670.1 773.5L1671.1 775.3L1672.1 777.0L1673.1 778.8L1674.1 780.6L1675.1 782.5L1676.2 784.3L1677.2 786.1L1678.2 788.0L1679.2 789.8L1680.2 791.7L1681.2 793.6L1682.2 795.5L1683.2 797.4L1684.2 799.3L1685.2 801.3L1686.2 803.2L1687.2 805.1L1688.2 807.1L1689.2 809.1L1690.2 811.0L1691.2 813.0L1692.2 815.0L1693.2 817.0L1694.2 819.1L1695.2 821.1L1696.2 823.1L1697.2 825.2L1698.3 827.2L1699.3 829.3L1700.3 831.4L1701.3 833.4L1702.3 835.5L1703.3 837.6L1704.3 839.7L1705.3 841.8L1706.3 844.0L1707.3 846.1L1708.3 848.2L1709.3 850.4L1710.3 852.5L1711.3 854.7L1712.3 856.8L1713.3 859.0L1714.3 861.2L1715.3 863.3L1716.3 865.5L1717.3 867.7L1718.3 869.9L1719.3 872.0L1720.3 874.2L1721.4 876.4L1722.4 878.6L1723.4 880.9L1724.4 883.1L1725.4 885.3L1726.4 887.5L1727.4 889.8L1728.4 892.0L1729.4 894.3L1730.4 896.5L1731.4 898.8L1732.4 901.0L1733.4 903.3L1734.4 905.6L1735.4 907.9L1736.4 910.1L1737.4 912.4L1738.4 914.7L1739.4 917.0L1740.4 919.3L1741.4 921.6L1742.4 923.9L1743.5 926.2L1744.5 928.6L1745.5 930.9L1746.5 933.2L1747.5 935.5L1748.5 937.9L1749.5 940.2L1750.5 942.5L1751.5 944.9L1752.5 947.2L1753.5 949.5L1754.5 951.9L1755.5 954.2L1756.5 956.6L1757.5 958.9L1758.5 961.3L1759.5 963.7L1760.5 966.0L1761.5 968.4L1762.5 970.7L1763.5 973.1L1764.5 975.4L1765.6 977.8L1766.6 980.2L1767.6 982.5L1768.6 984.9L1769.6 987.3L1770.6 989.6L1771.6 992.0L1772.6 994.3L1773.6 996.7L1774.6 999.0L1775.6 1001.4L1776.6 1003.7L1777.6 1006.0L1778.6 1008.4L1779.6 1010.7L1780.6 1013.0L1781.6 1015.4L1782.6 1017.7L1783.6 1020.0L1784.6 1022.3L1785.6 1024.7L1786.6 1027.0L1787.7 1029.3L1788.7 1031.6L1789.7 1033.9L1790.7 1036.3L1791.7 1038.6L1792.7 1040.9L1793.7 1043.2L1794.7 1045.5L1795.7 1047.8L1796.7 1050.1L1797.7 1052.4L1798.7 1054.7L1799.7 1057.0L1800.7 1059.3L1801.7 1061.5L1802.7 1063.8L1803.7 1066.1L1804.7 1068.4L1805.7 1070.6L1806.7 1072.9L1807.7 1075.1L1808.7 1077.4L1809.8 1079.6L1810.8 1081.9L1811.8 1084.1L1812.8 1086.4L1813.8 1088.6L1814.8 1090.8L1815.8 1093.0L1816.8 1095.2L1817.8 1097.4L1818.8 1099.6L1819.8 1101.8L1820.8 1104.0L1821.8 1106.2L1822.8 1108.4L1823.8 1110.6L1824.8 1112.7L1825.8 1114.9L1826.8 1117.0L1827.8 1119.2L1828.8 1121.3L1829.8 1123.4L1830.8 1125.6L1831.9 1127.7L1832.9 1129.8L1833.9 1131.9L1834.9 1134.0L1835.9 1136.1L1836.9 1138.1L1837.9 1140.2L1838.9 1142.3L1839.9 1144.3L1840.9 1146.4L1841.9 1148.4L1842.9 1150.4L1843.9 1152.4L1844.9 1154.4L1845.9 1156.4L1846.9 1158.4L1847.9 1160.4L1848.9 1162.4L1849.9 1164.4L1850.9 1166.3L1851.9 1168.2L1852.9 1170.2L1854.0 1172.1L1855.0 1174.0L1856.0 1175.9L1857.0 1177.8L1858.0 1179.7L1859.0 1181.6L1860.0 1183.4L1861.0 1185.2L1862.0 1187.1L1863.0 1188.9L1864.0 1190.7L1865.0 1192.5L1866.0 1194.3L1867.0 1196.1L1868.0 1197.8L1869.0 1199.6L1870.0 1201.3L1871.0 1203.1L1872.0 1204.8L1873.0 1206.5L1874.0 1208.2L1875.0 1209.9L1876.0 1211.5L1877.1 1213.2L1878.1 1214.8L1879.1 1216.5L1880.1 1218.1L1881.1 1219.7L1882.1 1221.3L1883.1 1222.9L1884.1 1224.5L1885.1 1226.0L1886.1 1227.6L1887.1 1229.1L1888.1 1230.6L1889.1 1232.1L1890.1 1233.6L1891.1 1235.1L1892.1 1236.6L1893.1 1238.0L1894.1 1239.5L1895.1 1240.9L1896.1 1242.3L1897.1 1243.7L1898.1 1245.1L1899.2 1246.5L1900.2 1247.8L1901.2 1249.2L1902.2 1250.5L1903.2 1251.8L1904.2 1253.1L1905.2 1254.4L1906.2 1255.7L1907.2 1256.9L1908.2 1258.2L1909.2 1259.4L1910.2 1260.6L1911.2 1261.8L1912.2 1263.0L1913.2 1264.2L1914.2 1265.3L1915.2 1266.5L1916.2 1267.6L1917.2 1268.7L1918.2 1269.8L1919.2 1270.9L1920.2 1272.0L1921.3 1273.1L1922.3 1274.1L1923.3 1275.1L1924.3 1276.2L1925.3 1277.2L1926.3 1278.2L1927.3 1279.1L1928.3 1280.1L1929.3 1281.0L1930.3 1282.0L1931.3 1282.9L1932.3 1283.8L1933.3 1284.6L1934.3 1285.5L1935.3 1286.3L1936.3 1287.2L1937.3 1288.0L1938.3 1288.8L1939.3 1289.6L1940.3 1290.3L1941.3 1291.1L1942.3 1291.8L1943.4 1292.5L1944.4 1293.2L1945.4 1293.9L1946.4 1294.6L1947.4 1295.2L1948.4 1295.8L1949.4 1296.5L1950.4 1297.1L1951.4 1297.6L1952.4 1298.2L1953.4 1298.7L1954.4 1299.3L1955.4 1299.8L1956.4 1300.3L1957.4 1300.8L1958.4 1301.2L1959.4 1301.7L1960.4 1302.1L1961.4 1302.5L1962.4 1302.9L1963.4 1303.3L1964.4 1303.6L1965.5 1304.0L1966.5 1304.3L1967.5 1304.6L1968.5 1304.9L1969.5 1305.2L1970.5 1305.4L1971.5 1305.7L1972.5 1305.9L1973.5 1306.1L1974.5 1306.3L1975.5 1306.5L1976.5 1306.6L1977.5 1306.7L1978.5 1306.9L1979.5 1307.0L1980.5 1307.0L1981.5 1307.1L1982.5 1307.2L1983.5 1307.2L1984.5 1307.2L1985.5 1307.2L1986.5 1307.2L1987.6 1307.1L1988.6 1307.1L1989.6 1307.0L1990.6 1306.9L1991.6 1306.8L1992.6 1306.7" stroke-width="4.8"/>
<path d="M284.9 1310.0L285.9 1310.0L286.9 1310.0L287.9 1310.0L288.9 1309.9L289.9 1309.8L290.9 1309.8L291.9 1309.7L292.9 1309.5L293.9 1309.4L294.9 1309.3L295.9 1309.1L297.0 1308.9L298.0 1308.7L299.0 1308.5L300.0 1308.2L301.0 1308.0L302.0 1307.7L303.0 1307.4L304.0 1307.1L305.0 1306.8L306.0 1306.4L307.0 1306.1L308.0 1305.7L309.0 1305.4L310.0 1305.0L311.0 1304.6L312.0 1304.2L313.0 1303.8L314.0 1303.4L315.0 1303.0L316.0 1302.6L317.0 1302.1L318.0 1301.7L319.1 1301.2L320.1 1300.7L321.1 1300.2L322.1 1299.6L323.1 1299.1L324.1 1298.5L325.1 1298.0L326.1 1297.4L327.1 1296.8L328.1 1296.1L329.1 1295.5L330.1 1294.8L331.1 1294.2L332.1 1293.5L333.1 1292.7L334.1 1292.0L335.1 1291.2L336.1 1290.4L337.1 1289.6L338.1 1288.7L339.1 1287.8L340.1 1287.0L341.2 1286.0L342.2 1285.1L343.2 1284.1L344.2 1283.1L345.2 1282.2L346.2 1281.2L347.2 1280.1L348.2 1279.1L349.2 1278.0L350.2 1277.0L351.2 1275.9L352.2 1274.8L353.2 1273.7L354.2 1272.5L355.2 1271.4L356.2 1270.2L357.2 1269.1L358.2 1267.9L359.2 1266.7L360.2 1265.4L361.2 1264.2L362.2 1263.0L363.3 1261.7L364.3 1260.4L365.3 1259.1L366.3 1257.8L367.3 1256.5L368.3 1255.1L369.3 1253.8L370.3 1252.4L371.3 1251.0L372.3 1249.6L373.3 1248.1L374.3 1246.7L375.3 1245.2L376.3 1243.7L377.3 1242.2L378.3 1240.7L379.3 1239.2L380.3 1237.6L381.3 1236.1L382.3 1234.5L383.3 1232.9L384.3 1231.3L385.4 1229.7L386.4 1228.1L387.4 1226.5L388.4 1224.8L389.4 1223.2L390.4 1221.5L391.4 1219.8L392.4 1218.1L393.4 1216.4L394.4 1214.7L395.4 1213.0L396.4 1211.2L397.4 1209.5L398.4 1207.7L399.4 1206.0L400.4 1204.2L401.4 1202.4L402.4 1200.6L403.4 1198.7L404.4 1196.9L405.4 1195.1L406.4 1193.2L407.5 1191.3L408.5 1189.5L409.5 1187.6L410.5 1185.7L411.5 1183.8L412.5 1181.9L413.5 1179.9L414.5 1178.0L415.5 1176.1L416.5 1174.1L417.5 1172.2L418.5 1170.2L419.5 1168.2L420.5 1166.3L421.5 1164.3L422.5 1162.3L423.5 1160.3L424.5 1158.2L425.5 1156.2L426.5 1154.2L427.5 1152.1L428.5 1150.1L429.5 1148.0L430.6 1145.9L431.6 1143.9L432.6 1141.8L433.6 1139.7L434.6 1137.6L435.6 1135.5L436.6 1133.3L437.6 1131.2L438.6 1129.1L439.6 1126.9L440.6 1124.8L441.6 1122.6L442.6 1120.5L443.6 1118.3L444.6 1116.1L445.6 1114.0L446.6 1111.8L447.6 1109.6L448.6 1107.4L449.6 1105.2L450.6 1103.0L451.6 1100.7L452.7 1098.5L453.7 1096.3L454.7 1094.1L455.7 1091.8L456.7 1089.6L457.7 1087.4L458.7 1085.1L459.7 1082.9L460.7 1080.6L461.7 1078.4L462.7 1076.1L463.7 1073.9L464.7 1071.6L465.7 1069.3L466.7 1067.0L467.7 1064.8L468.7 1062.5L469.7 1060.2L470.7 1057.9L471.7 1055.6L472.7 1053.3L473.7 1051.0L474.8 1048.7L475.8 1046.4L476.8 1044.1L477.8 1041.8L478.8 1039.5L479.8 1037.2L480.8 1034.9L481.8 1032.5L482.8 1030.2L483.8 1027.9L484.8 1025.6L485.8 1023.2L486.8 1020.9L487.8 1018.6L488.8 1016.2L489.8 1013.9L490.8 1011.6L491.8 1009.3L492.8 1006.9L493.8 1004.6L494.8 1002.2L495.8 999.9L496.9 997.6L497.9 995.2L498.9 992.9L499.9 990.6L500.9 988.2L501.9 985.9L502.9 983.6L503.9 981.2L504.9 978.9L505.9 976.6L506.9 974.2L507.9 971.9L508.9 969.6L509.9 967.3L510.9 964.9L511.9 962.6L512.9 960.3L513.9 958.0L514.9 955.6L515.9 953.3L516.9 951.0L517.9 948.7L519.0 946.4L520.0 944.1L521.0 941.8L522.0 939.5L523.0 937.2L524.0 934.9L525.0 932.6L526.0 930.3L527.0 928.1L528.0 925.8L529.0 923.5L530.0 921.2L531.0 919.0L532.0 916.7L533.0 914.4L534.0 912.2L535.0 909.9L536.0 907.7L537.0 905.5L538.0 903.2L539.0 901.0L540.0 898.8L541.1 896.6L542.1 894.4L543.1 892.2L544.1 890.0L545.1 887.8L546.1 885.6L547.1 883.4L548.1 881.2L549.1 879.1L550.1 876.9L551.1 874.8L552.1 872.6L553.1 870.5L554.1 868.4L555.1 866.2L556.1 864.1L557.1 862.0L558.1 859.9L559.1 857.8L560.1 855.7L561.1 853.7L562.1 851.6L563.2 849.5L564.2 847.5L565.2 845.4L566.2 843.4L567.2 841.4L568.2 839.3L569.2 837.3L570.2 835.3L571.2 833.3L572.2 831.3L573.2 829.4L574.2 827.4L575.2 825.4L576.2 823.5L577.2 821.6L578.2 819.6L579.2 817.7L580.2 815.8L581.2 813.9L582.2 812.0L583.2 810.1L584.2 808.3L585.2 806.4L586.3 804.6L587.3 802.7L588.3 800.9L589.3 799.1L590.3 797.3L591.3 795.5L592.3 793.7L593.3 791.9L594.3 790.2L595.3 788.4L596.3 786.7L597.3 785.0L598.3 783.2L599.3 781.5L600.3 779.8L601.3 778.2L602.3 776.5L603.3 774.9L604.3 773.2L605.3 771.6L606.3 770.0L607.3 768.4L608.4 766.8L609.4 765.2L610.4 763.6L611.4 762.1L612.4 760.5L613.4 759.0L614.4 757.5L615.4 756.0L616.4 754.5L617.4 753.0L618.4 751.6L619.4 750.1L620.4 748.7L621.4 747.3L622.4 745.9L623.4 744.5L624.4 743.1L625.4 741.7L626.4 740.4L627.4 739.1L628.4 737.7L629.4 736.4L630.5 735.1L631.5 733.9L632.5 732.6L633.5 731.4L634.5 730.2L635.5 729.0L636.5 727.8L637.5 726.6L638.5 725.5L639.5 724.4L640.5 723.2L641.5 722.1L642.5 721.0L643.5 719.9L644.5 718.8L645.5 717.7L646.5 716.7L647.5 715.6L648.5 714.6L649.5 713.6L650.5 712.6L651.5 711.6L652.6 710.6L653.6 709.7L654.6 708.8L655.6 707.9L656.6 707.0L657.6 706.2L658.6 705.3L659.6 704.5L660.6 703.7L661.6 702.8L662.6 702.0L663.6 701.2L664.6 700.5L665.6 699.7L666.6 699.0L667.6 698.2L668.6 697.5L669.6 696.9L670.6 696.2L671.6 695.5L672.6 694.9L673.6 694.3L674.7 693.7L675.7 693.1L676.7 692.6L677.7 692.0L678.7 691.4L679.7 690.9L680.7 690.4L681.7 689.8L682.7 689.3L683.7 688.8L684.7 688.4L685.7 687.9L686.7 687.5L687.7 687.0L688.7 686.6L689.7 686.3L690.7 685.9L691.7 685.6L692.7 685.2L693.7 684.9L694.7 684.6L695.7 684.4L696.8 684.1L697.8 683.9L698.8 683.7L699.8 683.5L700.8 683.3L701.8 683.2L702.8 683.0L703.8 682.9L704.8 682.8L705.8 682.7L706.8 682.6L707.8 682.6L708.8 682.5L709.8 682.5L710.8 682.5L711.8 682.5L712.8 682.5L713.8 682.6L714.8 682.6L715.8 682.7L716.8 682.7L717.8 682.8L718.8 682.9L719.9 683.0L720.9 683.1L721.9 683.2L722.9 683.3L723.9 683.4L724.9 683.6L725.9 683.7L726.9 683.8L727.9 684.0L728.9 684.1L729.9 684.3L730.9 684.5L731.9 684.8L732.9 685.0L733.9 685.3L734.9 685.6L735.9 686.0L736.9 686.4L737.9 686.8L738.9 687.3L739.9 687.7L740.9 688.3L742.0 688.8L743.0 689.4L744.0 690.0L745.0 690.6L746.0 691.3L747.0 692.0L748.0 692.7L749.0 693.4L750.0 694.2L751.0 695.0L752.0 695.7L753.0 696.5L754.0 697.4L755.0 698.2L756.0 699.0L757.0 699.9L758.0 700.7L759.0 701.6L760.0 702.5L761.0 703.4L762.0 704.3L763.0 705.3L764.1 706.2L765.1 707.2L766.1 708.2L767.1 709.2L768.1 710.2L769.1 711.2L770.1 712.2L771.1 713.2L772.1 714.2L773.1 715.3L774.1 716.3L775.1 717.3L776.1 718.4L777.1 719.5L778.1 720.6L779.1 721.7L780.1 722.8L781.1 723.9L782.1 725.1L783.1 726.2L784.1 727.4L785.1 728.6L786.2 729.9L787.2 731.1L788.2 732.4L789.2 733.7L790.2 735.0L791.2 736.3L792.2 737.6L793.2 739.0L794.2 740.3L795.2 741.7L796.2 743.1L797.2 744.5L798.2 745.9L799.2 747.3L800.2 748.8L801.2 750.2L802.2 751.7L803.2 753.2L804.2 754.7L805.2 756.2L806.2 757.7L807.2 759.2L808.3 760.8L809.3 762.3L810.3 763.9L811.3 765.5L812.3 767.1L813.3 768.7L814.3 770.3L815.3 772.0L816.3 773.6L817.3 775.3L818.3 776.9L819.3 778.6L820.3 780.3L821.3 782.0L822.3 783.7L823.3 785.5L824.3 787.2L825.3 789.0L826.3 790.7L827.3 792.5L828.3 794.3L829.3 796.1L830.4 797.9L831.4 799.7L832.4 801.5L833.4 803.4L834.4 805.2L835.4 807.1L836.4 809.0L837.4 810.8L838.4 812.7L839.4 814.6L840.4 816.5L841.4 818.5L842.4 820.4L843.4 822.3L844.4 824.3L845.4 826.2L846.4 828.2L847.4 830.2L848.4 832.2L849.4 834.2L850.4 836.2L851.4 838.2L852.5 840.2L853.5 842.2L854.5 844.3L855.5 846.3L856.5 848.4L857.5 850.4L858.5 852.5L859.5 854.6L860.5 856.7L861.5 858.8L862.5 860.9L863.5 863.0L864.5 865.1L865.5 867.2L866.5 869.3L867.5 871.5L868.5 873.6L869.5 875.8L870.5 877.9L871.5 880.1L872.5 882.3L873.5 884.5L874.5 886.6L875.6 888.8L876.6 891.0L877.6 893.2L878.6 895.4L879.6 897.6L880.6 899.9L881.6 902.1L882.6 904.3L883.6 906.5L884.6 908.8L885.6 911.0L886.6 913.3L887.6 915.5L888.6 917.8L889.6 920.0L890.6 922.3L891.6 924.6L892.6 926.8L893.6 929.1L894.6 931.4L895.6 933.7L896.6 936.0L897.7 938.3L898.7 940.6L899.7 942.8L900.7 945.1L901.7 947.4L902.7 949.8L903.7 952.1L904.7 954.4L905.7 956.7L906.7 959.0L907.7 961.3L908.7 963.6L909.7 965.9L910.7 968.3L911.7 970.6L912.7 972.9L913.7 975.2L914.7 977.6L915.7 979.9L916.7 982.2L917.7 984.5L918.7 986.9L919.8 989.2L920.8 991.5L921.8 993.9L922.8 996.2L923.8 998.5L924.8 1000.8L925.8 1003.2L926.8 1005.5L927.8 1007.8L928.8 1010.1L929.8 1012.5L930.8 1014.8L931.8 1017.1L932.8 1019.4L933.8 1021.7L934.8 1024.0L935.8 1026.4L936.8 1028.7L937.8 1031.0L938.8 1033.3L939.8 1035.6L940.8 1037.9L941.9 1040.2L942.9 1042.5L943.9 1044.8L944.9 1047.1L945.9 1049.4L946.9 1051.7L947.9 1054.0L948.9 1056.2L949.9 1058.5L950.9 1060.8L951.9 1063.1L952.9 1065.3L953.9 1067.6L954.9 1069.8L955.9 1072.1L956.9 1074.4L957.9 1076.6L958.9 1078.8L959.9 1081.1L960.9 1083.3L961.9 1085.5L962.9 1087.8L964.0 1090.0L965.0 1092.2L966.0 1094.4L967.0 1096.6L968.0 1098.8L969.0 1101.0L970.0 1103.2L971.0 1105.3L972.0 1107.5L973.0 1109.7L974.0 1111.8L975.0 1114.0L976.0 1116.1L977.0 1118.3L978.0 1120.4L979.0 1122.5L980.0 1124.6L981.0 1126.8L982.0 1128.9L983.0 1131.0L984.0 1133.0L985.0 1135.1L986.1 1137.2L987.1 1139.3L988.1 1141.3L989.1 1143.4L990.1 1145.4L991.1 1147.4L992.1 1149.5L993.1 1151.5L994.1 1153.5L995.1 1155.5L996.1 1157.5L997.1 1159.5L998.1 1161.4L999.1 1163.4L1000.1 1165.3L1001.1 1167.3L1002.1 1169.2L1003.1 1171.1L1004.1 1173.1L1005.1 1175.0L1006.1 1176.8L1007.1 1178.7L1008.1 1180.6L1009.2 1182.5L1010.2 1184.3L1011.2 1186.1L1012.2 1188.0L1013.2 1189.8L1014.2 1191.6L1015.2 1193.4L1016.2 1195.1L1017.2 1196.9L1018.2 1198.7L1019.2 1200.4L1020.2 1202.2L1021.2 1203.9L1022.2 1205.6L1023.2 1207.3L1024.2 1209.0L1025.2 1210.7L1026.2 1212.3L1027.2 1214.0L1028.2 1215.6L1029.2 1217.3L1030.2 1218.9L1031.3 1220.5L1032.3 1222.1L1033.3 1223.6L1034.3 1225.2L1035.3 1226.8L1036.3 1228.3L1037.3 1229.8L1038.3 1231.3L1039.3 1232.8L1040.3 1234.3L1041.3 1235.8L1042.3 1237.3L1043.3 1238.7L1044.3 1240.2L1045.3 1241.6L1046.3 1243.0L1047.3 1244.4L1048.3 1245.8L1049.3 1247.1L1050.3 1248.5L1051.3 1249.8L1052.3 1251.1L1053.4 1252.4L1054.4 1253.7L1055.4 1255.0L1056.4 1256.3L1057.4 1257.5L1058.4 1258.8L1059.4 1260.0L1060.4 1261.2L1061.4 1262.4L1062.4 1263.6L1063.4 1264.8L1064.4 1266.0L1065.4 1267.1L1066.4 1268.2L1067.4 1269.3L1068.4 1270.4L1069.4 1271.5L1070.4 1272.6L1071.4 1273.7L1072.4 1274.7L1073.4 1275.7L1074.4 1276.7L1075.5 1277.7L1076.5 1278.7L1077.5 1279.7L1078.5 1280.6L1079.5 1281.5L1080.5 1282.4L1081.5 1283.3L1082.5 1284.2L1083.5 1285.1L1084.5 1285.9L1085.5 1286.8L1086.5 1287.6L1087.5 1288.4L1088.5 1289.2L1089.5 1289.9L1090.5 1290.7L1091.5 1291.4L1092.5 1292.2L1093.5 1292.9L1094.5 1293.6L1095.5 1294.2L1096.5 1294.9L1097.6 1295.5L1098.6 1296.2L1099.6 1296.8L1100.6 1297.4L1101.6 1298.0L1102.6 1298.5L1103.6 1299.1L1104.6 1299.6L1105.6 1300.1L1106.6 1300.6L1107.6 1301.1L1108.6 1301.6L1109.6 1302.0L1110.6 1302.4L1111.6 1302.9L1112.6 1303.3L1113.6 1303.6L1114.6 1304.0L1115.6 1304.3L1116.6 1304.7L1117.6 1305.0L1118.6 1305.3L1119.7 1305.5L1120.7 1305.8L1121.7 1306.0L1122.7 1306.3L1123.7 1306.5L1124.7 1306.6L1125.7 1306.8L1126.7 1307.0L1127.7 1307.1L1128.7 1307.2L1129.7 1307.3L1130.7 1307.4L1131.7 1307.5L1132.7 1307.6L1133.7 1307.6L1134.7 1307.6L1135.7 1307.6L1136.7 1307.7L1137.7 1307.6L1138.7 1307.6L1139.7 1307.6L1140.7 1307.5L1141.8 1307.5L1142.8 1307.4L1143.8 1307.3L1144.8 1307.2L1145.8 1307.0L1146.8 1306.9L1147.8 1306.8L1148.8 1306.6L1149.8 1306.5L1150.8 1306.3L1151.8 1306.2L1152.8 1306.0L1153.8 1305.8L1154.8 1305.6L1155.8 1305.4L1156.8 1305.1L1157.8 1304.9L1158.8 1304.6L1159.8 1304.2L1160.8 1303.9L1161.8 1303.5L1162.8 1303.0L1163.8 1302.6L1164.9 1302.1L1165.9 1301.6L1166.9 1301.1L1167.9 1300.5L1168.9 1299.9L1169.9 1299.3L1170.9 1298.7L1171.9 1298.0L1172.9 1297.3L1173.9 1296.6L1174.9 1295.9L1175.9 1295.1L1176.9 1294.3L1177.9 1293.5L1178.9 1292.7L1179.9 1291.9L1180.9 1291.0L1181.9 1290.2L1182.9 1289.3L1183.9 1288.4L1184.9 1287.5L1185.9 1286.6L1187.0 1285.7L1188.0 1284.8L1189.0 1283.8L1190.0 1282.8L1191.0 1281.9L1192.0 1280.9L1193.0 1279.9L1194.0 1278.9L1195.0 1277.9L1196.0 1276.9L1197.0 1275.9L1198.0 1274.8L1199.0 1273.8L1200.0 1272.7L1201.0 1271.7L1202.0 1270.6L1203.0 1269.5L1204.0 1268.4L1205.0 1267.3L1206.0 1266.1L1207.0 1265.0L1208.0 1263.8L1209.1 1262.6L1210.1 1261.4L1211.1 1260.2L1212.1 1259.0L1213.1 1257.7L1214.1 1256.5L1215.1 1255.2L1216.1 1253.9L1217.1 1252.6L1218.1 1251.3L1219.1 1250.0L1220.1 1248.7L1221.1 1247.3L1222.1 1246.0L1223.1 1244.6L1224.1 1243.3L1225.1 1241.9L1226.1 1240.5L1227.1 1239.1L1228.1 1237.6L1229.1 1236.2L1230.1 1234.8L1231.2 1233.3L1232.2 1231.8L1233.2 1230.3L1234.2 1228.8L1235.2 1227.3L1236.2 1225.8L1237.2 1224.2L1238.2 1222.7L1239.2 1221.1L1240.2 1219.5L1241.2 1217.9L1242.2 1216.3L1243.2 1214.7L1244.2 1213.1L1245.2 1211.4L1246.2 1209.8L1247.2 1208.1L1248.2 1206.5L1249.2 1204.8L1250.2 1203.1L1251.2 1201.4L1252.2 1199.6L1253.3 1197.9L1254.3 1196.2L1255.3 1194.4L1256.3 1192.6L1257.3 1190.9L1258.3 1189.1L1259.3 1187.3L1260.3 1185.5L1261.3 1183.6L1262.3 1181.8L1263.3 1179.9L1264.3 1178.1L1265.3 1176.2L1266.3 1174.3L1267.3 1172.4L1268.3 1170.5L1269.3 1168.6L1270.3 1166.6L1271.3 1164.7L1272.3 1162.8L1273.3 1160.8L1274.3 1158.8L1275.4 1156.9L1276.4 1154.9L1277.4 1152.9L1278.4 1150.9L1279.4 1148.9L1280.4 1146.8L1281.4 1144.8L1282.4 1142.8L1283.4 1140.7L1284.4 1138.7L1285.4 1136.6L1286.4 1134.6L1287.4 1132.5L1288.4 1130.4L1289.4 1128.3L1290.4 1126.2L1291.4 1124.1L1292.4 1122.0L1293.4 1119.9L1294.4 1117.8L1295.4 1115.6L1296.4 1113.5L1297.4 1111.4L1298.5 1109.2L1299.5 1107.1L1300.5 1104.9L1301.5 1102.7L1302.5 1100.5L1303.5 1098.3L1304.5 1096.1L1305.5 1093.9L1306.5 1091.7L1307.5 1089.5L1308.5 1087.2L1309.5 1085.0L1310.5 1082.7L1311.5 1080.5L1312.5 1078.2L1313.5 1075.9L1314.5 1073.7L1315.5 1071.4L1316.5 1069.1L1317.5 1066.8L1318.5 1064.5L1319.5 1062.2L1320.6 1060.0L1321.6 1057.7L1322.6 1055.3L1323.6 1053.0L1324.6 1050.7L1325.6 1048.4L1326.6 1046.1L1327.6 1043.8L1328.6 1041.5L1329.6 1039.1L1330.6 1036.8L1331.6 1034.5L1332.6 1032.2L1333.6 1029.8L1334.6 1027.5L1335.6 1025.2L1336.6 1022.8L1337.6 1020.5L1338.6 1018.2L1339.6 1015.8L1340.6 1013.5L1341.6 1011.1L1342.7 1008.8L1343.7 1006.5L1344.7 1004.1L1345.7 1001.8L1346.7 999.4L1347.7 997.1L1348.7 994.7L1349.7 992.4L1350.7 990.1L1351.7 987.7L1352.7 985.4L1353.7 983.0L1354.7 980.7L1355.7 978.3L1356.7 976.0L1357.7 973.7L1358.7 971.3L1359.7 969.0L1360.7 966.7L1361.7 964.3L1362.7 962.0L1363.7 959.7L1364.8 957.4L1365.8 955.0L1366.8 952.7L1367.8 950.4L1368.8 948.1L1369.8 945.8L1370.8 943.5L1371.8 941.2L1372.8 938.9L1373.8 936.6L1374.8 934.3L1375.8 932.0L1376.8 929.7L1377.8 927.4L1378.8 925.1L1379.8 922.8L1380.8 920.6L1381.8 918.3L1382.8 916.0L1383.8 913.8L1384.8 911.5L1385.8 909.3L1386.9 907.0L1387.9 904.8L1388.9 902.5L1389.9 900.3L1390.9 898.1L1391.9 895.9L1392.9 893.6L1393.9 891.4L1394.9 889.2L1395.9 887.0L1396.9 884.8L1397.9 882.6L1398.9 880.4L1399.9 878.3L1400.9 876.1L1401.9 873.9L1402.9 871.8L1403.9 869.6L1404.9 867.5L1405.9 865.4L1406.9 863.2L1407.9 861.1L1409.0 859.0L1410.0 856.9L1411.0 854.8L1412.0 852.7L1413.0 850.6L1414.0 848.6L1415.0 846.5L1416.0 844.4L1417.0 842.4L1418.0 840.3L1419.0 838.3L1420.0 836.3L1421.0 834.3L1422.0 832.3L1423.0 830.3L1424.0 828.3L1425.0 826.3L1426.0 824.4L1427.0 822.4L1428.0 820.5L1429.0 818.5L1430.0 816.6L1431.1 814.7L1432.1 812.8L1433.1 810.9L1434.1 809.0L1435.1 807.1L1436.1 805.2L1437.1 803.4L1438.1 801.5L1439.1 799.7L1440.1 797.9L1441.1 796.1L1442.1 794.3L1443.1 792.5L1444.1 790.7L1445.1 788.9L1446.1 787.2L1447.1 785.4L1448.1 783.7L1449.1 782.0L1450.1 780.3L1451.1 778.6L1452.1 776.9L1453.1 775.2L1454.2 773.6L1455.2 771.9L1456.2 770.3L1457.2 768.7L1458.2 767.0L1459.2 765.4L1460.2 763.9L1461.2 762.3L1462.2 760.7L1463.2 759.2L1464.2 757.7L1465.2 756.1L1466.2 754.6L1467.2 753.1L1468.2 751.7L1469.2 750.2L1470.2 748.7L1471.2 747.3L1472.2 745.9L1473.2 744.5L1474.2 743.1L1475.2 741.7L1476.3 740.4L1477.3 739.0L1478.3 737.7L1479.3 736.4L1480.3 735.1L1481.3 733.8L1482.3 732.6L1483.3 731.4L1484.3 730.2L1485.3 729.0L1486.3 727.8L1487.3 726.6L1488.3 725.5L1489.3 724.3L1490.3 723.2L1491.3 722.1L1492.3 721.0L1493.3 719.9L1494.3 718.8L1495.3 717.7L1496.3 716.7L1497.3 715.6L1498.4 714.6L1499.4 713.5L1500.4 712.5L1501.4 711.6L1502.4 710.6L1503.4 709.7L1504.4 708.8L1505.4 707.9L1506.4 707.0L1507.4 706.1L1508.4 705.3L1509.4 704.5L1510.4 703.6L1511.4 702.8L1512.4 702.0L1513.4 701.2L1514.4 700.4L1515.4 699.7L1516.4 698.9L1517.4 698.2L1518.4 697.5L1519.4 696.8L1520.5 696.2L1521.5 695.5L1522.5 694.9L1523.5 694.3L1524.5 693.7L1525.5 693.1L1526.5 692.5L1527.5 692.0L1528.5 691.4L1529.5 690.9L1530.5 690.4L1531.5 689.8L1532.5 689.3L1533.5 688.8L1534.5 688.4L1535.5 687.9L1536.5 687.5L1537.5 687.0L1538.5 686.6L1539.5 686.2L1540.5 685.9L1541.5 685.5L1542.6 685.2L1543.6 684.9L1544.6 684.6L1545.6 684.4L1546.6 684.1L1547.6 683.9L1548.6 683.7L1549.6 683.5L1550.6 683.3L1551.6 683.2L1552.6 683.0L1553.6 682.9L1554.6 682.8L1555.6 682.7L1556.6 682.6L1557.6 682.6L1558.6 682.5L1559.6 682.5L1560.6 682.5L1561.6 682.5L1562.6 682.5L1563.6 682.6L1564.7 682.6L1565.7 682.7L1566.7 682.7L1567.7 682.8L1568.7 682.9L1569.7 683.0L1570.7 683.1L1571.7 683.2L1572.7 683.3L1573.7 683.4L1574.7 683.6L1575.7 683.7L1576.7 683.8L1577.7 684.0L1578.7 684.2L1579.7 684.3L1580.7 684.6L1581.7 684.8L1582.7 685.0L1583.7 685.3L1584.7 685.7L1585.7 686.0L1586.7 686.4L1587.8 686.8L1588.8 687.3L1589.8 687.8L1590.8 688.3L1591.8 688.8L1592.8 689.4L1593.8 690.0L1594.8 690.6L1595.8 691.3L1596.8 692.0L1597.8 692.7L1598.8 693.5L1599.8 694.2L1600.8 695.0L1601.8 695.8L1602.8 696.6L1603.8 697.4L1604.8 698.2L1605.8 699.0L1606.8 699.9L1607.8 700.8L1608.8 701.6L1609.9 702.5L1610.9 703.4L1611.9 704.4L1612.9 705.3L1613.9 706.3L1614.9 707.2L1615.9 708.2L1616.9 709.2L1617.9 710.2L1618.9 711.2L1619.9 712.2L1620.9 713.2L1621.9 714.2L1622.9 715.3L1623.9 716.3L1624.9 717.4L1625.9 718.4L1626.9 719.5L1627.9 720.6L1628.9 721.7L1629.9 722.8L1630.9 723.9L1632.0 725.1L1633.0 726.3L1634.0 727.4L1635.0 728.7L1636.0 729.9L1637.0 731.1L1638.0 732.4L1639.0 733.7L1640.0 735.0L1641.0 736.3L1642.0 737.7L1643.0 739.0L1644.0 740.4L1645.0 741.7L1646.0 743.1L1647.0 744.5L1648.0 745.9L1649.0 747.4L1650.0 748.8L1651.0 750.3L1652.0 751.7L1653.0 753.2L1654.1 754.7L1655.1 756.2L1656.1 757.7L1657.1 759.3L1658.1 760.8L1659.1 762.4L1660.1 763.9L1661.1 765.5L1662.1 767.1L1663.1 768.7L1664.1 770.4L1665.1 772.0L1666.1 773.6L1667.1 775.3L1668.1 777.0L1669.1 778.7L1670.1 780.3L1671.1 782.1L1672.1 783.8L1673.1 785.5L1674.1 787.2L1675.1 789.0L1676.2 790.8L1677.2 792.5L1678.2 794.3L1679.2 796.1L1680.2 797.9L1681.2 799.7L1682.2 801.6L1683.2 803.4L1684.2 805.3L1685.2 807.1L1686.2 809.0L1687.2 810.9L1688.2 812.8L1689.2 814.7L1690.2 816.6L1691.2 818.5L1692.2 820.4L1693.2 822.4L1694.2 824.3L1695.2 826.3L1696.2 828.2L1697.2 830.2L1698.3 832.2L1699.3 834.2L1700.3 836.2L1701.3 838.2L1702.3 840.2L1703.3 842.3L1704.3 844.3L1705.3 846.4L1706.3 848.4L1707.3 850.5L1708.3 852.5L1709.3 854.6L1710.3 856.7L1711.3 858.8L1712.3 860.9L1713.3 863.0L1714.3 865.1L1715.3 867.3L1716.3 869.4L1717.3 871.5L1718.3 873.7L1719.3 875.8L1720.3 878.0L1721.4 880.1L1722.4 882.3L1723.4 884.5L1724.4 886.7L1725.4 888.9L1726.4 891.1L1727.4 893.3L1728.4 895.5L1729.4 897.7L1730.4 899.9L1731.4 902.1L1732.4 904.3L1733.4 906.6L1734.4 908.8L1735.4 911.1L1736.4 913.3L1737.4 915.6L1738.4 917.8L1739.4 920.1L1740.4 922.3L1741.4 924.6L1742.4 926.9L1743.5 929.2L1744.5 931.4L1745.5 933.7L1746.5 936.0L1747.5 938.3L1748.5 940.6L1749.5 942.9L1750.5 945.2L1751.5 947.5L1752.5 949.8L1753.5 952.1L1754.5 954.4L1755.5 956.7L1756.5 959.0L1757.5 961.4L1758.5 963.7L1759.5 966.0L1760.5 968.3L1761.5 970.6L1762.5 973.0L1763.5 975.3L1764.5 977.6L1765.6 979.9L1766.6 982.3L1767.6 984.6L1768.6 986.9L1769.6 989.2L1770.6 991.6L1771.6 993.9L1772.6 996.2L1773.6 998.6L1774.6 1000.9L1775.6 1003.2L1776.6 1005.5L1777.6 1007.9L1778.6 1010.2L1779.6 1012.5L1780.6 1014.8L1781.6 1017.1L1782.6 1019.5L1783.6 1021.8L1784.6 1024.1L1785.6 1026.4L1786.6 1028.7L1787.7 1031.0L1788.7 1033.3L1789.7 1035.6L1790.7 1037.9L1791.7 1040.2L1792.7 1042.5L1793.7 1044.8L1794.7 1047.1L1795.7 1049.4L1796.7 1051.7L1797.7 1054.0L1798.7 1056.3L1799.7 1058.6L1800.7 1060.8L1801.7 1063.1L1802.7 1065.4L1803.7 1067.6L1804.7 1069.9L1805.7 1072.1L1806.7 1074.4L1807.7 1076.6L1808.7 1078.9L1809.8 1081.1L1810.8 1083.3L1811.8 1085.6L1812.8 1087.8L1813.8 1090.0L1814.8 1092.2L1815.8 1094.4L1816.8 1096.6L1817.8 1098.8L1818.8 1101.0L1819.8 1103.2L1820.8 1105.4L1821.8 1107.5L1822.8 1109.7L1823.8 1111.9L1824.8 1114.0L1825.8 1116.2L1826.8 1118.3L1827.8 1120.4L1828.8 1122.6L1829.8 1124.7L1830.8 1126.8L1831.9 1128.9L1832.9 1131.0L1833.9 1133.1L1834.9 1135.2L1835.9 1137.2L1836.9 1139.3L1837.9 1141.4L1838.9 1143.4L1839.9 1145.4L1840.9 1147.5L1841.9 1149.5L1842.9 1151.5L1843.9 1153.5L1844.9 1155.5L1845.9 1157.5L1846.9 1159.5L1847.9 1161.5L1848.9 1163.4L1849.9 1165.4L1850.9 1167.3L1851.9 1169.3L1852.9 1171.2L1854.0 1173.1L1855.0 1175.0L1856.0 1176.9L1857.0 1178.8L1858.0 1180.6L1859.0 1182.5L1860.0 1184.3L1861.0 1186.2L1862.0 1188.0L1863.0 1189.8L1864.0 1191.6L1865.0 1193.4L1866.0 1195.2L1867.0 1197.0L1868.0 1198.7L1869.0 1200.5L1870.0 1202.2L1871.0 1203.9L1872.0 1205.6L1873.0 1207.3L1874.0 1209.0L1875.0 1210.7L1876.0 1212.4L1877.1 1214.0L1878.1 1215.7L1879.1 1217.3L1880.1 1218.9L1881.1 1220.5L1882.1 1222.1L1883.1 1223.7L1884.1 1225.2L1885.1 1226.8L1886.1 1228.3L1887.1 1229.9L1888.1 1231.4L1889.1 1232.9L1890.1 1234.4L1891.1 1235.8L1892.1 1237.3L1893.1 1238.7L1894.1 1240.2L1895.1 1241.6L1896.1 1243.0L1897.1 1244.4L1898.1 1245.8L1899.2 1247.1L1900.2 1248.5L1901.2 1249.8L1902.2 1251.2L1903.2 1252.5L1904.2 1253.8L1905.2 1255.0L1906.2 1256.3L1907.2 1257.6L1908.2 1258.8L1909.2 1260.0L1910.2 1261.2L1911.2 1262.5L1912.2 1263.6L1913.2 1264.8L1914.2 1266.0L1915.2 1267.1L1916.2 1268.3L1917.2 1269.4L1918.2 1270.5L1919.2 1271.6L1920.2 1272.6L1921.3 1273.7L1922.3 1274.7L1923.3 1275.7L1924.3 1276.7L1925.3 1277.7L1926.3 1278.7L1927.3 1279.7L1928.3 1280.6L1929.3 1281.5L1930.3 1282.5L1931.3 1283.4L1932.3 1284.2L1933.3 1285.1L1934.3 1285.9L1935.3 1286.8L1936.3 1287.6L1937.3 1288.4L1938.3 1289.2L1939.3 1289.9L1940.3 1290.7L1941.3 1291.4L1942.3 1292.2L1943.4 1292.9L1944.4 1293.6L1945.4 1294.2L1946.4 1294.9L1947.4 1295.6L1948.4 1296.2L1949.4 1296.8L1950.4 1297.4L1951.4 1298.0L1952.4 1298.5L1953.4 1299.1L1954.4 1299.6L1955.4 1300.1L1956.4 1300.6L1957.4 1301.1L1958.4 1301.6L1959.4 1302.0L1960.4 1302.5L1961.4 1302.9L1962.4 1303.3L1963.4 1303.6L1964.4 1304.0L1965.5 1304.3L1966.5 1304.7L1967.5 1305.0L1968.5 1305.3L1969.5 1305.5L1970.5 1305.8L1971.5 1306.0L1972.5 1306.3L1973.5 1306.5L1974.5 1306.7L1975.5 1306.8L1976.5 1307.0L1977.5 1307.1L1978.5 1307.2L1979.5 1307.3L1980.5 1307.4L1981.5 1307.5L1982.5 1307.5L1983.5 1307.6L1984.5 1307.6L1985.5 1307.6L1986.5 1307.5L1987.6 1307.5L1988.6 1307.5L1989.6 1307.4L1990.6 1307.3L1991.6 1307.2L1992.6 1307.0" stroke-width="5.2"/>
<path d="M284.9 1310.0L285.9 1310.0L286.9 1310.0L287.9 1309.9L288.9 1309.9L289.9 1309.8L290.9 1309.7L291.9 1309.6L292.9 1309.4L293.9 1309.3L294.9 1309.1L295.9 1308.9L297.0 1308.7L298.0 1308.5L299.0 1308.3L300.0 1308.0L301.0 1307.8L302.0 1307.5L303.0 1307.2L304.0 1306.9L305.0 1306.5L306.0 1306.2L307.0 1305.8L308.0 1305.4L309.0 1305.0L310.0 1304.6L311.0 1304.1L312.0 1303.7L313.0 1303.2L314.0 1302.7L315.0 1302.2L316.0 1301.7L317.0 1301.1L318.0 1300.6L319.1 1300.0L320.1 1299.4L321.1 1298.8L322.1 1298.2L323.1 1297.5L324.1 1296.9L325.1 1296.2L326.1 1295.5L327.1 1294.8L328.1 1294.1L329.1 1293.3L330.1 1292.6L331.1 1291.8L332.1 1291.0L333.1 1290.2L334.1 1289.4L335.1 1288.5L336.1 1287.7L337.1 1286.8L338.1 1285.9L339.1 1285.0L340.1 1284.1L341.2 1283.1L342.2 1282.2L343.2 1281.2L344.2 1280.2L345.2 1279.2L346.2 1278.2L347.2 1277.2L348.2 1276.1L349.2 1275.1L350.2 1274.0L351.2 1272.9L352.2 1271.8L353.2 1270.7L354.2 1269.5L355.2 1268.4L356.2 1267.2L357.2 1266.0L358.2 1264.8L359.2 1263.6L360.2 1262.4L361.2 1261.1L362.2 1259.9L363.3 1258.6L364.3 1257.3L365.3 1256.0L366.3 1254.7L367.3 1253.4L368.3 1252.0L369.3 1250.7L370.3 1249.3L371.3 1247.9L372.3 1246.5L373.3 1245.1L374.3 1243.7L375.3 1242.2L376.3 1240.8L377.3 1239.3L378.3 1237.8L379.3 1236.3L380.3 1234.8L381.3 1233.3L382.3 1231.7L383.3 1230.2L384.3 1228.6L385.4 1227.0L386.4 1225.5L387.4 1223.9L388.4 1222.2L389.4 1220.6L390.4 1219.0L391.4 1217.3L392.4 1215.7L393.4 1214.0L394.4 1212.3L395.4 1210.6L396.4 1208.9L397.4 1207.2L398.4 1205.4L399.4 1203.7L400.4 1201.9L401.4 1200.1L402.4 1198.4L403.4 1196.6L404.4 1194.8L405.4 1193.0L406.4 1191.1L407.5 1189.3L408.5 1187.5L409.5 1185.6L410.5 1183.7L411.5 1181.8L412.5 1180.0L413.5 1178.1L414.5 1176.1L415.5 1174.2L416.5 1172.3L417.5 1170.4L418.5 1168.4L419.5 1166.5L420.5 1164.5L421.5 1162.5L422.5 1160.5L423.5 1158.5L424.5 1156.5L425.5 1154.5L426.5 1152.5L427.5 1150.5L428.5 1148.4L429.5 1146.4L430.6 1144.3L431.6 1142.3L432.6 1140.2L433.6 1138.1L434.6 1136.0L435.6 1133.9L436.6 1131.8L437.6 1129.7L438.6 1127.6L439.6 1125.5L440.6 1123.3L441.6 1121.2L442.6 1119.0L443.6 1116.9L444.6 1114.7L445.6 1112.6L446.6 1110.4L447.6 1108.2L448.6 1106.0L449.6 1103.8L450.6 1101.6L451.6 1099.4L452.7 1097.2L453.7 1095.0L454.7 1092.8L455.7 1090.6L456.7 1088.3L457.7 1086.1L458.7 1083.8L459.7 1081.6L460.7 1079.3L461.7 1077.1L462.7 1074.8L463.7 1072.6L464.7 1070.3L465.7 1068.0L466.7 1065.7L467.7 1063.5L468.7 1061.2L469.7 1058.9L470.7 1056.6L471.7 1054.3L472.7 1052.0L473.7 1049.7L474.8 1047.4L475.8 1045.1L476.8 1042.8L477.8 1040.5L478.8 1038.1L479.8 1035.8L480.8 1033.5L481.8 1031.2L482.8 1028.8L483.8 1026.5L484.8 1024.2L485.8 1021.9L486.8 1019.5L487.8 1017.2L488.8 1014.9L489.8 1012.5L490.8 1010.2L491.8 1007.9L492.8 1005.5L493.8 1003.2L494.8 1000.8L495.8 998.5L496.9 996.2L497.9 993.8L498.9 991.5L499.9 989.1L500.9 986.8L501.9 984.5L502.9 982.1L503.9 979.8L504.9 977.5L505.9 975.1L506.9 972.8L507.9 970.4L508.9 968.1L509.9 965.8L510.9 963.5L511.9 961.1L512.9 958.8L513.9 956.5L514.9 954.2L515.9 951.8L516.9 949.5L517.9 947.2L519.0 944.9L520.0 942.6L521.0 940.3L522.0 938.0L523.0 935.7L524.0 933.4L525.0 931.1L526.0 928.8L527.0 926.5L528.0 924.2L529.0 922.0L530.0 919.7L531.0 917.4L532.0 915.2L533.0 912.9L534.0 910.6L535.0 908.4L536.0 906.1L537.0 903.9L538.0 901.7L539.0 899.4L540.0 897.2L541.1 895.0L542.1 892.8L543.1 890.6L544.1 888.4L545.1 886.2L546.1 884.0L547.1 881.8L548.1 879.6L549.1 877.4L550.1 875.3L551.1 873.1L552.1 870.9L553.1 868.8L554.1 866.7L555.1 864.5L556.1 862.4L557.1 860.3L558.1 858.2L559.1 856.1L560.1 854.0L561.1 851.9L562.1 849.8L563.2 847.7L564.2 845.7L565.2 843.6L566.2 841.6L567.2 839.5L568.2 837.5L569.2 835.5L570.2 833.5L571.2 831.4L572.2 829.5L573.2 827.5L574.2 825.5L575.2 823.5L576.2 821.6L577.2 819.6L578.2 817.7L579.2 815.8L580.2 813.8L581.2 811.9L582.2 810.0L583.2 808.1L584.2 806.3L585.2 804.4L586.3 802.5L587.3 800.7L588.3 798.9L589.3 797.0L590.3 795.2L591.3 793.4L592.3 791.6L593.3 789.8L594.3 788.1L595.3 786.3L596.3 784.6L597.3 782.8L598.3 781.1L599.3 779.4L600.3 777.7L601.3 776.0L602.3 774.3L603.3 772.7L604.3 771.0L605.3 769.4L606.3 767.7L607.3 766.1L608.4 764.5L609.4 762.9L610.4 761.4L611.4 759.8L612.4 758.3L613.4 756.7L614.4 755.2L615.4 753.7L616.4 752.2L617.4 750.7L618.4 749.2L619.4 747.8L620.4 746.3L621.4 744.9L622.4 743.5L623.4 742.1L624.4 740.7L625.4 739.3L626.4 738.0L627.4 736.6L628.4 735.3L629.4 734.0L630.5 732.7L631.5 731.4L632.5 730.1L633.5 728.9L634.5 727.6L635.5 726.4L636.5 725.2L637.5 724.0L638.5 722.8L639.5 721.6L640.5 720.5L641.5 719.3L642.5 718.2L643.5 717.1L644.5 716.0L645.5 714.9L646.5 713.8L647.5 712.8L648.5 711.8L649.5 710.8L650.5 709.8L651.5 708.8L652.6 707.8L653.6 706.8L654.6 705.9L655.6 705.0L656.6 704.1L657.6 703.2L658.6 702.3L659.6 701.5L660.6 700.6L661.6 699.8L662.6 699.0L663.6 698.2L664.6 697.4L665.6 696.7L666.6 695.9L667.6 695.2L668.6 694.5L669.6 693.8L670.6 693.1L671.6 692.5L672.6 691.8L673.6 691.2L674.7 690.6L675.7 690.0L676.7 689.4L677.7 688.8L678.7 688.3L679.7 687.8L680.7 687.3L681.7 686.8L682.7 686.3L683.7 685.9L684.7 685.4L685.7 685.0L686.7 684.6L687.7 684.2L688.7 683.8L689.7 683.5L690.7 683.1L691.7 682.8L692.7 682.5L693.7 682.2L694.7 682.0L695.7 681.7L696.8 681.5L697.8 681.2L698.8 681.0L699.8 680.9L700.8 680.7L701.8 680.6L702.8 680.4L703.8 680.3L704.8 680.2L705.8 680.1L706.8 680.1L707.8 680.0L708.8 680.0L709.8 680.0L710.8 680.0L711.8 680.0L712.8 680.1L713.8 680.1L714.8 680.2L715.8 680.3L716.8 680.4L717.8 680.6L718.8 680.7L719.9 680.9L720.9 681.1L721.9 681.3L722.9 681.5L723.9 681.7L724.9 682.0L725.9 682.2L726.9 682.5L727.9 682.8L728.9 683.1L729.9 683.5L730.9 683.8L731.9 684.2L732.9 684.6L733.9 685.0L734.9 685.4L735.9 685.9L736.9 686.3L737.9 686.8L738.9 687.3L739.9 687.8L740.9 688.3L742.0 688.9L743.0 689.4L744.0 690.0L745.0 690.6L746.0 691.2L747.0 691.8L748.0 692.5L749.0 693.1L750.0 693.8L751.0 694.5L752.0 695.2L753.0 695.9L754.0 696.7L755.0 697.4L756.0 698.2L757.0 699.0L758.0 699.8L759.0 700.6L760.0 701.5L761.0 702.3L762.0 703.2L763.0 704.1L764.1 705.0L765.1 705.9L766.1 706.9L767.1 707.8L768.1 708.8L769.1 709.8L770.1 710.8L771.1 711.8L772.1 712.8L773.1 713.9L774.1 714.9L775.1 716.0L776.1 717.1L777.1 718.2L778.1 719.3L779.1 720.5L780.1 721.6L781.1 722.8L782.1 724.0L783.1 725.2L784.1 726.4L785.1 727.6L786.2 728.9L787.2 730.1L788.2 731.4L789.2 732.7L790.2 734.0L791.2 735.3L792.2 736.6L793.2 738.0L794.2 739.4L795.2 740.7L796.2 742.1L797.2 743.5L798.2 744.9L799.2 746.4L800.2 747.8L801.2 749.3L802.2 750.7L803.2 752.2L804.2 753.7L805.2 755.2L806.2 756.7L807.2 758.3L808.3 759.8L809.3 761.4L810.3 763.0L811.3 764.6L812.3 766.2L813.3 767.8L814.3 769.4L815.3 771.0L816.3 772.7L817.3 774.4L818.3 776.0L819.3 777.7L820.3 779.4L821.3 781.1L822.3 782.9L823.3 784.6L824.3 786.3L825.3 788.1L826.3 789.9L827.3 791.6L828.3 793.4L829.3 795.2L830.4 797.1L831.4 798.9L832.4 800.7L833.4 802.6L834.4 804.4L835.4 806.3L836.4 808.2L837.4 810.1L838.4 812.0L839.4 813.9L840.4 815.8L841.4 817.7L842.4 819.7L843.4 821.6L844.4 823.6L845.4 825.5L846.4 827.5L847.4 829.5L848.4 831.5L849.4 833.5L850.4 835.5L851.4 837.5L852.5 839.6L853.5 841.6L854.5 843.6L855.5 845.7L856.5 847.8L857.5 849.8L858.5 851.9L859.5 854.0L860.5 856.1L861.5 858.2L862.5 860.3L863.5 862.4L864.5 864.6L865.5 866.7L866.5 868.8L867.5 871.0L868.5 873.1L869.5 875.3L870.5 877.5L871.5 879.6L872.5 881.8L873.5 884.0L874.5 886.2L875.6 888.4L876.6 890.6L877.6 892.8L878.6 895.0L879.6 897.2L880.6 899.5L881.6 901.7L882.6 903.9L883.6 906.2L884.6 908.4L885.6 910.7L886.6 912.9L887.6 915.2L888.6 917.5L889.6 919.7L890.6 922.0L891.6 924.3L892.6 926.6L893.6 928.9L894.6 931.1L895.6 933.4L896.6 935.7L897.7 938.0L898.7 940.3L899.7 942.6L900.7 944.9L901.7 947.3L902.7 949.6L903.7 951.9L904.7 954.2L905.7 956.5L906.7 958.8L907.7 961.2L908.7 963.5L909.7 965.8L910.7 968.2L911.7 970.5L912.7 972.8L913.7 975.2L914.7 977.5L915.7 979.8L916.7 982.2L917.7 984.5L918.7 986.8L919.8 989.2L920.8 991.5L921.8 993.9L922.8 996.2L923.8 998.5L924.8 1000.9L925.8 1003.2L926.8 1005.6L927.8 1007.9L928.8 1010.2L929.8 1012.6L930.8 1014.9L931.8 1017.2L932.8 1019.6L933.8 1021.9L934.8 1024.2L935.8 1026.6L936.8 1028.9L937.8 1031.2L938.8 1033.5L939.8 1035.9L940.8 1038.2L941.9 1040.5L942.9 1042.8L943.9 1045.1L944.9 1047.4L945.9 1049.7L946.9 1052.0L947.9 1054.3L948.9 1056.6L949.9 1058.9L950.9 1061.2L951.9 1063.5L952.9 1065.8L953.9 1068.1L954.9 1070.3L955.9 1072.6L956.9 1074.9L957.9 1077.1L958.9 1079.4L959.9 1081.6L960.9 1083.9L961.9 1086.1L962.9 1088.4L964.0 1090.6L965.0 1092.8L966.0 1095.0L967.0 1097.3L968.0 1099.5L969.0 1101.7L970.0 1103.9L971.0 1106.1L972.0 1108.2L973.0 1110.4L974.0 1112.6L975.0 1114.8L976.0 1116.9L977.0 1119.1L978.0 1121.2L979.0 1123.4L980.0 1125.5L981.0 1127.6L982.0 1129.7L983.0 1131.9L984.0 1134.0L985.0 1136.1L986.1 1138.1L987.1 1140.2L988.1 1142.3L989.1 1144.4L990.1 1146.4L991.1 1148.5L992.1 1150.5L993.1 1152.5L994.1 1154.6L995.1 1156.6L996.1 1158.6L997.1 1160.6L998.1 1162.5L999.1 1164.5L1000.1 1166.5L1001.1 1168.5L1002.1 1170.4L1003.1 1172.3L1004.1 1174.3L1005.1 1176.2L1006.1 1178.1L1007.1 1180.0L1008.1 1181.9L1009.2 1183.8L1010.2 1185.6L1011.2 1187.5L1012.2 1189.3L1013.2 1191.2L1014.2 1193.0L1015.2 1194.8L1016.2 1196.6L1017.2 1198.4L1018.2 1200.2L1019.2 1202.0L1020.2 1203.7L1021.2 1205.5L1022.2 1207.2L1023.2 1208.9L1024.2 1210.6L1025.2 1212.3L1026.2 1214.0L1027.2 1215.7L1028.2 1217.4L1029.2 1219.0L1030.2 1220.6L1031.3 1222.3L1032.3 1223.9L1033.3 1225.5L1034.3 1227.1L1035.3 1228.6L1036.3 1230.2L1037.3 1231.8L1038.3 1233.3L1039.3 1234.8L1040.3 1236.3L1041.3 1237.8L1042.3 1239.3L1043.3 1240.8L1044.3 1242.2L1045.3 1243.7L1046.3 1245.1L1047.3 1246.5L1048.3 1247.9L1049.3 1249.3L1050.3 1250.7L1051.3 1252.0L1052.3 1253.4L1053.4 1254.7L1054.4 1256.0L1055.4 1257.3L1056.4 1258.6L1057.4 1259.9L1058.4 1261.2L1059.4 1262.4L1060.4 1263.6L1061.4 1264.8L1062.4 1266.0L1063.4 1267.2L1064.4 1268.4L1065.4 1269.6L1066.4 1270.7L1067.4 1271.8L1068.4 1272.9L1069.4 1274.0L1070.4 1275.1L1071.4 1276.2L1072.4 1277.2L1073.4 1278.2L1074.4 1279.3L1075.5 1280.3L1076.5 1281.2L1077.5 1282.2L1078.5 1283.2L1079.5 1284.1L1080.5 1285.0L1081.5 1285.9L1082.5 1286.8L1083.5 1287.7L1084.5 1288.5L1085.5 1289.4L1086.5 1290.2L1087.5 1291.0L1088.5 1291.8L1089.5 1292.6L1090.5 1293.3L1091.5 1294.1L1092.5 1294.8L1093.5 1295.5L1094.5 1296.2L1095.5 1296.9L1096.5 1297.5L1097.6 1298.2L1098.6 1298.8L1099.6 1299.4L1100.6 1300.0L1101.6 1300.6L1102.6 1301.2L1103.6 1301.7L1104.6 1302.2L1105.6 1302.7L1106.6 1303.2L1107.6 1303.7L1108.6 1304.2L1109.6 1304.6L1110.6 1305.0L1111.6 1305.4L1112.6 1305.8L1113.6 1306.2L1114.6 1306.5L1115.6 1306.9L1116.6 1307.2L1117.6 1307.5L1118.6 1307.8L1119.7 1308.1L1120.7 1308.3L1121.7 1308.5L1122.7 1308.8L1123.7 1309.0L1124.7 1309.1L1125.7 1309.3L1126.7 1309.4L1127.7 1309.6L1128.7 1309.7L1129.7 1309.8L1130.7 1309.9L1131.7 1309.9L1132.7 1310.0L1133.7 1310.0L1134.7 1310.0L1135.7 1310.0L1136.7 1310.0L1137.7 1309.9L1138.7 1309.9L1139.7 1309.8L1140.7 1309.7L1141.8 1309.6L1142.8 1309.4L1143.8 1309.3L1144.8 1309.1L1145.8 1308.9L1146.8 1308.7L1147.8 1308.5L1148.8 1308.3L1149.8 1308.0L1150.8 1307.8L1151.8 1307.5L1152.8 1307.2L1153.8 1306.9L1154.8 1306.5L1155.8 1306.2L1156.8 1305.8L1157.8 1305.4L1158.8 1305.0L1159.8 1304.6L1160.8 1304.1L1161.8 1303.7L1162.8 1303.2L1163.8 1302.7L1164.9 1302.2L1165.9 1301.7L1166.9 1301.1L1167.9 1300.6L1168.9 1300.0L1169.9 1299.4L1170.9 1298.8L1171.9 1298.2L1172.9 1297.5L1173.9 1296.9L1174.9 1296.2L1175.9 1295.5L1176.9 1294.8L1177.9 1294.1L1178.9 1293.3L1179.9 1292.6L1180.9 1291.8L1181.9 1291.0L1182.9 1290.2L1183.9 1289.4L1184.9 1288.5L1185.9 1287.7L1187.0 1286.8L1188.0 1285.9L1189.0 1285.0L1190.0 1284.1L1191.0 1283.1L1192.0 1282.2L1193.0 1281.2L1194.0 1280.2L1195.0 1279.2L1196.0 1278.2L1197.0 1277.2L1198.0 1276.1L1199.0 1275.1L1200.0 1274.0L1201.0 1272.9L1202.0 1271.8L1203.0 1270.7L1204.0 1269.5L1205.0 1268.4L1206.0 1267.2L1207.0 1266.0L1208.0 1264.8L1209.1 1263.6L1210.1 1262.4L1211.1 1261.1L1212.1 1259.9L1213.1 1258.6L1214.1 1257.3L1215.1 1256.0L1216.1 1254.7L1217.1 1253.3L1218.1 1252.0L1219.1 1250.6L1220.1 1249.3L1221.1 1247.9L1222.1 1246.5L1223.1 1245.1L1224.1 1243.6L1225.1 1242.2L1226.1 1240.7L1227.1 1239.3L1228.1 1237.8L1229.1 1236.3L1230.1 1234.8L1231.2 1233.2L1232.2 1231.7L1233.2 1230.2L1234.2 1228.6L1235.2 1227.0L1236.2 1225.4L1237.2 1223.8L1238.2 1222.2L1239.2 1220.6L1240.2 1218.9L1241.2 1217.3L1242.2 1215.6L1243.2 1214.0L1244.2 1212.3L1245.2 1210.6L1246.2 1208.9L1247.2 1207.1L1248.2 1205.4L1249.2 1203.6L1250.2 1201.9L1251.2 1200.1L1252.2 1198.3L1253.3 1196.5L1254.3 1194.7L1255.3 1192.9L1256.3 1191.1L1257.3 1189.3L1258.3 1187.4L1259.3 1185.6L1260.3 1183.7L1261.3 1181.8L1262.3 1179.9L1263.3 1178.0L1264.3 1176.1L1265.3 1174.2L1266.3 1172.3L1267.3 1170.3L1268.3 1168.4L1269.3 1166.4L1270.3 1164.5L1271.3 1162.5L1272.3 1160.5L1273.3 1158.5L1274.3 1156.5L1275.4 1154.5L1276.4 1152.5L1277.4 1150.4L1278.4 1148.4L1279.4 1146.3L1280.4 1144.3L1281.4 1142.2L1282.4 1140.1L1283.4 1138.1L1284.4 1136.0L1285.4 1133.9L1286.4 1131.8L1287.4 1129.7L1288.4 1127.5L1289.4 1125.4L1290.4 1123.3L1291.4 1121.1L1292.4 1119.0L1293.4 1116.8L1294.4 1114.7L1295.4 1112.5L1296.4 1110.3L1297.4 1108.2L1298.5 1106.0L1299.5 1103.8L1300.5 1101.6L1301.5 1099.4L1302.5 1097.2L1303.5 1095.0L1304.5 1092.7L1305.5 1090.5L1306.5 1088.3L1307.5 1086.0L1308.5 1083.8L1309.5 1081.6L1310.5 1079.3L1311.5 1077.0L1312.5 1074.8L1313.5 1072.5L1314.5 1070.2L1315.5 1068.0L1316.5 1065.7L1317.5 1063.4L1318.5 1061.1L1319.5 1058.8L1320.6 1056.5L1321.6 1054.2L1322.6 1051.9L1323.6 1049.6L1324.6 1047.3L1325.6 1045.0L1326.6 1042.7L1327.6 1040.4L1328.6 1038.1L1329.6 1035.8L1330.6 1033.5L1331.6 1031.1L1332.6 1028.8L1333.6 1026.5L1334.6 1024.1L1335.6 1021.8L1336.6 1019.5L1337.6 1017.2L1338.6 1014.8L1339.6 1012.5L1340.6 1010.1L1341.6 1007.8L1342.7 1005.5L1343.7 1003.1L1344.7 1000.8L1345.7 998.5L1346.7 996.1L1347.7 993.8L1348.7 991.4L1349.7 989.1L1350.7 986.8L1351.7 984.4L1352.7 982.1L1353.7 979.7L1354.7 977.4L1355.7 975.1L1356.7 972.7L1357.7 970.4L1358.7 968.1L1359.7 965.7L1360.7 963.4L1361.7 961.1L1362.7 958.8L1363.7 956.4L1364.8 954.1L1365.8 951.8L1366.8 949.5L1367.8 947.2L1368.8 944.9L1369.8 942.6L1370.8 940.2L1371.8 937.9L1372.8 935.6L1373.8 933.3L1374.8 931.1L1375.8 928.8L1376.8 926.5L1377.8 924.2L1378.8 921.9L1379.8 919.6L1380.8 917.4L1381.8 915.1L1382.8 912.9L1383.8 910.6L1384.8 908.3L1385.8 906.1L1386.9 903.9L1387.9 901.6L1388.9 899.4L1389.9 897.2L1390.9 894.9L1391.9 892.7L1392.9 890.5L1393.9 888.3L1394.9 886.1L1395.9 883.9L1396.9 881.7L1397.9 879.6L1398.9 877.4L1399.9 875.2L1400.9 873.1L1401.9 870.9L1402.9 868.8L1403.9 866.6L1404.9 864.5L1405.9 862.4L1406.9 860.2L1407.9 858.1L1409.0 856.0L1410.0 853.9L1411.0 851.8L1412.0 849.8L1413.0 847.7L1414.0 845.6L1415.0 843.6L1416.0 841.5L1417.0 839.5L1418.0 837.5L1419.0 835.4L1420.0 833.4L1421.0 831.4L1422.0 829.4L1423.0 827.4L1424.0 825.5L1425.0 823.5L1426.0 821.5L1427.0 819.6L1428.0 817.6L1429.0 815.7L1430.0 813.8L1431.1 811.9L1432.1 810.0L1433.1 808.1L1434.1 806.2L1435.1 804.4L1436.1 802.5L1437.1 800.7L1438.1 798.8L1439.1 797.0L1440.1 795.2L1441.1 793.4L1442.1 791.6L1443.1 789.8L1444.1 788.0L1445.1 786.3L1446.1 784.5L1447.1 782.8L1448.1 781.1L1449.1 779.4L1450.1 777.7L1451.1 776.0L1452.1 774.3L1453.1 772.6L1454.2 771.0L1455.2 769.3L1456.2 767.7L1457.2 766.1L1458.2 764.5L1459.2 762.9L1460.2 761.3L1461.2 759.8L1462.2 758.2L1463.2 756.7L1464.2 755.2L1465.2 753.7L1466.2 752.2L1467.2 750.7L1468.2 749.2L1469.2 747.8L1470.2 746.3L1471.2 744.9L1472.2 743.5L1473.2 742.1L1474.2 740.7L1475.2 739.3L1476.3 737.9L1477.3 736.6L1478.3 735.3L1479.3 734.0L1480.3 732.6L1481.3 731.4L1482.3 730.1L1483.3 728.8L1484.3 727.6L1485.3 726.4L1486.3 725.1L1487.3 723.9L1488.3 722.8L1489.3 721.6L1490.3 720.4L1491.3 719.3L1492.3 718.2L1493.3 717.1L1494.3 716.0L1495.3 714.9L1496.3 713.8L1497.3 712.8L1498.4 711.8L1499.4 710.7L1500.4 709.7L1501.4 708.8L1502.4 707.8L1503.4 706.8L1504.4 705.9L1505.4 705.0L1506.4 704.1L1507.4 703.2L1508.4 702.3L1509.4 701.4L1510.4 700.6L1511.4 699.8L1512.4 699.0L1513.4 698.2L1514.4 697.4L1515.4 696.7L1516.4 695.9L1517.4 695.2L1518.4 694.5L1519.4 693.8L1520.5 693.1L1521.5 692.4L1522.5 691.8L1523.5 691.2L1524.5 690.6L1525.5 690.0L1526.5 689.4L1527.5 688.8L1528.5 688.3L1529.5 687.8L1530.5 687.3L1531.5 686.8L1532.5 686.3L1533.5 685.8L1534.5 685.4L1535.5 685.0L1536.5 684.6L1537.5 684.2L1538.5 683.8L1539.5 683.5L1540.5 683.1L1541.5 682.8L1542.6 682.5L1543.6 682.2L1544.6 681.9L1545.6 681.7L1546.6 681.5L1547.6 681.2L1548.6 681.0L1549.6 680.9L1550.6 680.7L1551.6 680.6L1552.6 680.4L1553.6 680.3L1554.6 680.2L1555.6 680.1L1556.6 680.1L1557.6 680.0L1558.6 680.0L1559.6 680.0L1560.6 680.0L1561.6 680.0L1562.6 680.1L1563.6 680.1L1564.7 680.2L1565.7 680.3L1566.7 680.4L1567.7 680.6L1568.7 680.7L1569.7 680.9L1570.7 681.1L1571.7 681.3L1572.7 681.5L1573.7 681.7L1574.7 682.0L1575.7 682.2L1576.7 682.5L1577.7 682.8L1578.7 683.1L1579.7 683.5L1580.7 683.8L1581.7 684.2L1582.7 684.6L1583.7 685.0L1584.7 685.4L1585.7 685.9L1586.7 686.3L1587.8 686.8L1588.8 687.3L1589.8 687.8L1590.8 688.3L1591.8 688.9L1592.8 689.4L1593.8 690.0L1594.8 690.6L1595.8 691.2L1596.8 691.8L1597.8 692.5L1598.8 693.1L1599.8 693.8L1600.8 694.5L1601.8 695.2L1602.8 695.9L1603.8 696.7L1604.8 697.5L1605.8 698.2L1606.8 699.0L1607.8 699.8L1608.8 700.7L1609.9 701.5L1610.9 702.4L1611.9 703.2L1612.9 704.1L1613.9 705.0L1614.9 705.9L1615.9 706.9L1616.9 707.8L1617.9 708.8L1618.9 709.8L1619.9 710.8L1620.9 711.8L1621.9 712.8L1622.9 713.9L1623.9 715.0L1624.9 716.0L1625.9 717.1L1626.9 718.2L1627.9 719.4L1628.9 720.5L1629.9 721.7L1630.9 722.8L1632.0 724.0L1633.0 725.2L1634.0 726.4L1635.0 727.7L1636.0 728.9L1637.0 730.2L1638.0 731.4L1639.0 732.7L1640.0 734.0L1641.0 735.3L1642.0 736.7L1643.0 738.0L1644.0 739.4L1645.0 740.8L1646.0 742.1L1647.0 743.5L1648.0 745.0L1649.0 746.4L1650.0 747.8L1651.0 749.3L1652.0 750.8L1653.0 752.2L1654.1 753.7L1655.1 755.3L1656.1 756.8L1657.1 758.3L1658.1 759.9L1659.1 761.4L1660.1 763.0L1661.1 764.6L1662.1 766.2L1663.1 767.8L1664.1 769.4L1665.1 771.1L1666.1 772.7L1667.1 774.4L1668.1 776.1L1669.1 777.8L1670.1 779.5L1671.1 781.2L1672.1 782.9L1673.1 784.6L1674.1 786.4L1675.1 788.1L1676.2 789.9L1677.2 791.7L1678.2 793.5L1679.2 795.3L1680.2 797.1L1681.2 798.9L1682.2 800.8L1683.2 802.6L1684.2 804.5L1685.2 806.3L1686.2 808.2L1687.2 810.1L1688.2 812.0L1689.2 813.9L1690.2 815.8L1691.2 817.8L1692.2 819.7L1693.2 821.6L1694.2 823.6L1695.2 825.6L1696.2 827.5L1697.2 829.5L1698.3 831.5L1699.3 833.5L1700.3 835.5L1701.3 837.6L1702.3 839.6L1703.3 841.6L1704.3 843.7L1705.3 845.7L1706.3 847.8L1707.3 849.9L1708.3 852.0L1709.3 854.0L1710.3 856.1L1711.3 858.2L1712.3 860.4L1713.3 862.5L1714.3 864.6L1715.3 866.7L1716.3 868.9L1717.3 871.0L1718.3 873.2L1719.3 875.3L1720.3 877.5L1721.4 879.7L1722.4 881.9L1723.4 884.0L1724.4 886.2L1725.4 888.4L1726.4 890.6L1727.4 892.8L1728.4 895.1L1729.4 897.3L1730.4 899.5L1731.4 901.7L1732.4 904.0L1733.4 906.2L1734.4 908.5L1735.4 910.7L1736.4 913.0L1737.4 915.2L1738.4 917.5L1739.4 919.8L1740.4 922.0L1741.4 924.3L1742.4 926.6L1743.5 928.9L1744.5 931.2L1745.5 933.5L1746.5 935.8L1747.5 938.1L1748.5 940.4L1749.5 942.7L1750.5 945.0L1751.5 947.3L1752.5 949.6L1753.5 951.9L1754.5 954.2L1755.5 956.6L1756.5 958.9L1757.5 961.2L1758.5 963.5L1759.5 965.9L1760.5 968.2L1761.5 970.5L1762.5 972.9L1763.5 975.2L1764.5 977.5L1765.6 979.9L1766.6 982.2L1767.6 984.5L1768.6 986.9L1769.6 989.2L1770.6 991.6L1771.6 993.9L1772.6 996.2L1773.6 998.6L1774.6 1000.9L1775.6 1003.3L1776.6 1005.6L1777.6 1007.9L1778.6 1010.3L1779.6 1012.6L1780.6 1014.9L1781.6 1017.3L1782.6 1019.6L1783.6 1021.9L1784.6 1024.3L1785.6 1026.6L1786.6 1028.9L1787.7 1031.3L1788.7 1033.6L1789.7 1035.9L1790.7 1038.2L1791.7 1040.5L1792.7 1042.8L1793.7 1045.2L1794.7 1047.5L1795.7 1049.8L1796.7 1052.1L1797.7 1054.4L1798.7 1056.7L1799.7 1059.0L1800.7 1061.3L1801.7 1063.5L1802.7 1065.8L1803.7 1068.1L1804.7 1070.4L1805.7 1072.6L1806.7 1074.9L1807.7 1077.2L1808.7 1079.4L1809.8 1081.7L1810.8 1083.9L1811.8 1086.2L1812.8 1088.4L1813.8 1090.6L1814.8 1092.9L1815.8 1095.1L1816.8 1097.3L1817.8 1099.5L1818.8 1101.7L1819.8 1103.9L1820.8 1106.1L1821.8 1108.3L1822.8 1110.5L1823.8 1112.6L1824.8 1114.8L1825.8 1117.0L1826.8 1119.1L1827.8 1121.3L1828.8 1123.4L1829.8 1125.5L1830.8 1127.7L1831.9 1129.8L1832.9 1131.9L1833.9 1134.0L1834.9 1136.1L1835.9 1138.2L1836.9 1140.3L1837.9 1142.3L1838.9 1144.4L1839.9 1146.5L1840.9 1148.5L1841.9 1150.5L1842.9 1152.6L1843.9 1154.6L1844.9 1156.6L1845.9 1158.6L1846.9 1160.6L1847.9 1162.6L1848.9 1164.6L1849.9 1166.5L1850.9 1168.5L1851.9 1170.4L1852.9 1172.4L1854.0 1174.3L1855.0 1176.2L1856.0 1178.1L1857.0 1180.0L1858.0 1181.9L1859.0 1183.8L1860.0 1185.7L1861.0 1187.5L1862.0 1189.4L1863.0 1191.2L1864.0 1193.0L1865.0 1194.8L1866.0 1196.6L1867.0 1198.4L1868.0 1200.2L1869.0 1202.0L1870.0 1203.7L1871.0 1205.5L1872.0 1207.2L1873.0 1208.9L1874.0 1210.7L1875.0 1212.4L1876.0 1214.0L1877.1 1215.7L1878.1 1217.4L1879.1 1219.0L1880.1 1220.7L1881.1 1222.3L1882.1 1223.9L1883.1 1225.5L1884.1 1227.1L1885.1 1228.7L1886.1 1230.2L1887.1 1231.8L1888.1 1233.3L1889.1 1234.8L1890.1 1236.4L1891.1 1237.9L1892.1 1239.3L1893.1 1240.8L1894.1 1242.3L1895.1 1243.7L1896.1 1245.1L1897.1 1246.5L1898.1 1248.0L1899.2 1249.3L1900.2 1250.7L1901.2 1252.1L1902.2 1253.4L1903.2 1254.7L1904.2 1256.1L1905.2 1257.4L1906.2 1258.7L1907.2 1259.9L1908.2 1261.2L1909.2 1262.4L1910.2 1263.7L1911.2 1264.9L1912.2 1266.1L1913.2 1267.3L1914.2 1268.4L1915.2 1269.6L1916.2 1270.7L1917.2 1271.8L1918.2 1272.9L1919.2 1274.0L1920.2 1275.1L1921.3 1276.2L1922.3 1277.2L1923.3 1278.3L1924.3 1279.3L1925.3 1280.3L1926.3 1281.3L1927.3 1282.2L1928.3 1283.2L1929.3 1284.1L1930.3 1285.0L1931.3 1285.9L1932.3 1286.8L1933.3 1287.7L1934.3 1288.6L1935.3 1289.4L1936.3 1290.2L1937.3 1291.0L1938.3 1291.8L1939.3 1292.6L1940.3 1293.4L1941.3 1294.1L1942.3 1294.8L1943.4 1295.5L1944.4 1296.2L1945.4 1296.9L1946.4 1297.6L1947.4 1298.2L1948.4 1298.8L1949.4 1299.4L1950.4 1300.0L1951.4 1300.6L1952.4 1301.2L1953.4 1301.7L1954.4 1302.2L1955.4 1302.7L1956.4 1303.2L1957.4 1303.7L1958.4 1304.2L1959.4 1304.6L1960.4 1305.0L1961.4 1305.4L1962.4 1305.8L1963.4 1306.2L1964.4 1306.5L1965.5 1306.9L1966.5 1307.2L1967.5 1307.5L1968.5 1307.8L1969.5 1308.1L1970.5 1308.3L1971.5 1308.5L1972.5 1308.8L1973.5 1309.0L1974.5 1309.1L1975.5 1309.3L1976.5 1309.4L1977.5 1309.6L1978.5 1309.7L1979.5 1309.8L1980.5 1309.9L1981.5 1309.9L1982.5 1310.0L1983.5 1310.0L1984.5 1310.0L1985.5 1310.0L1986.5 1310.0L1987.6 1309.9L1988.6 1309.9L1989.6 1309.8L1990.6 1309.7L1991.6 1309.6L1992.6 1309.4" stroke-width="5.4" stroke-dasharray="40 14"/>
</g>
<rect x="286.7" y="46.5" width="1700.0" height="1330.8" fill="none" stroke="#000" stroke-width="4.8"/>
<g stroke="#000" stroke-width="4.8" stroke-linecap="round">
<line x1="454.8" y1="1376.3" x2="454.8" y2="1357.4"/>
<line x1="454.8" y1="47.5" x2="454.8" y2="62.2"/>
<line x1="623.8" y1="1376.3" x2="623.8" y2="1357.4"/>
<line x1="623.8" y1="47.5" x2="623.8" y2="62.2"/>
<line x1="795.2" y1="1376.3" x2="795.2" y2="1357.4"/>
<line x1="795.2" y1="47.5" x2="795.2" y2="62.2"/>
<line x1="964.6" y1="1376.3" x2="964.6" y2="1357.4"/>
<line x1="964.6" y1="47.5" x2="964.6" y2="62.2"/>
<line x1="1136.6" y1="1376.3" x2="1136.6" y2="1357.4"/>
<line x1="1136.6" y1="47.5" x2="1136.6" y2="62.2"/>
<line x1="1304.8" y1="1376.3" x2="1304.8" y2="1357.4"/>
<line x1="1304.8" y1="47.5" x2="1304.8" y2="62.2"/>
<line x1="1473.7" y1="1376.3" x2="1473.7" y2="1357.4"/>
<line x1="1473.7" y1="47.5" x2="1473.7" y2="62.2"/>
<line x1="1645.6" y1="1376.3" x2="1645.6" y2="1357.4"/>
<line x1="1645.6" y1="47.5" x2="1645.6" y2="62.2"/>
<line x1="1813.6" y1="1376.3" x2="1813.6" y2="1357.4"/>
<line x1="1813.6" y1="47.5" x2="1813.6" y2="62.2"/>
<line x1="287.7" y1="202.4" x2="302" y2="202.4"/>
<line x1="1985.7" y1="202.4" x2="1966" y2="202.4"/>
<line x1="287.7" y1="361.4" x2="302" y2="361.4"/>
<line x1="1985.7" y1="361.4" x2="1966" y2="361.4"/>
<line x1="287.7" y1="521.3" x2="302" y2="521.3"/>
<line x1="1985.7" y1="521.3" x2="1966" y2="521.3"/>
<line x1="287.7" y1="677.0" x2="302" y2="677.0"/>
<line x1="1985.7" y1="677.0" x2="1966" y2="677.0"/>
<line x1="287.7" y1="836.5" x2="302" y2="836.5"/>
<line x1="1985.7" y1="836.5" x2="1966" y2="836.5"/>
<line x1="287.7" y1="995.7" x2="302" y2="995.7"/>
<line x1="1985.7" y1="995.7" x2="1966" y2="995.7"/>
<line x1="287.7" y1="1154.4" x2="302" y2="1154.4"/>
<line x1="1985.7" y1="1154.4" x2="1966" y2="1154.4"/>
</g>
<rect x="697.4" y="112.7" width="1223.3000000000002" height="433.50000000000006" fill="#fff" stroke="none"/>
<g clip-path="url(#ci)" fill="none" stroke="#000" stroke-linejoin="round">
<path d="M930.0 555.5L932.0 553.9L934.0 552.3L936.0 550.7L938.0 549.1L940.0 547.5L942.0 545.9L944.0 544.3L946.0 542.6L948.0 541.0L950.0 539.4L952.0 537.8L954.0 536.2L956.0 534.5L958.0 532.9L960.0 531.3L962.0 529.7L964.0 528.1L966.0 526.5L968.0 525.0L970.0 523.4L972.0 521.8L974.0 520.3L976.0 518.7L978.0 517.1L980.0 515.6L982.0 514.1L984.0 512.5L986.0 511.0L988.0 509.5L990.0 508.0L992.0 506.6L994.0 505.1L996.0 503.7L998.0 502.3L1000.0 500.9L1002.0 499.6L1004.0 498.2L1006.0 496.9L1008.0 495.6L1010.0 494.3L1012.0 493.0L1014.0 491.7L1016.0 490.4L1018.0 489.1L1020.0 487.8L1022.0 486.4L1024.0 485.1L1026.0 483.8L1028.0 482.5L1030.0 481.2L1032.0 480.0L1034.0 478.8L1036.0 477.7L1038.0 476.6L1040.0 475.5L1042.0 474.4L1044.0 473.3L1046.0 472.2L1048.0 471.0L1050.0 469.9L1052.0 468.7L1054.0 467.6L1056.0 466.4L1058.0 465.3L1060.0 464.2L1062.0 463.0L1064.0 461.9L1066.0 460.8L1068.0 459.7L1070.0 458.6L1072.0 457.4L1074.0 456.3L1076.0 455.1L1078.0 454.0L1080.0 452.9L1082.0 451.7L1084.0 450.6L1086.0 449.5L1088.0 448.4L1090.0 447.3L1092.0 446.3L1094.0 445.3L1096.0 444.3L1098.0 443.3L1100.0 442.3L1102.0 441.4L1104.0 440.5L1106.0 439.6L1108.0 438.7L1110.0 437.8L1112.0 436.9L1114.0 436.1L1116.0 435.2L1118.0 434.4L1120.0 433.5L1122.0 432.7L1124.0 431.9L1126.0 431.0L1128.0 430.2L1130.0 429.4L1132.0 428.6L1134.0 427.7L1136.0 426.9L1138.0 426.1L1140.0 425.3L1142.0 424.5L1144.0 423.7L1146.0 422.8L1148.0 422.0L1150.0 421.2L1152.0 420.4L1154.0 419.5L1156.0 418.7L1158.0 417.9L1160.0 417.1L1162.0 416.3L1164.0 415.4L1166.0 414.6L1168.0 413.8L1170.0 413.0L1172.0 412.3L1174.0 411.5L1176.0 410.8L1178.0 410.0L1180.0 409.3L1182.0 408.7L1184.0 408.0L1186.0 407.4L1188.0 406.8L1190.0 406.2L1192.0 405.6L1194.0 405.0L1196.0 404.4L1198.0 403.8L1200.0 403.2L1202.0 402.6L1204.0 402.0L1206.0 401.4L1208.0 400.7L1210.0 400.1L1212.0 399.5L1214.0 398.9L1216.0 398.3L1218.0 397.7L1220.0 397.1L1222.0 396.5L1224.0 395.9L1226.0 395.3L1228.0 394.7L1230.0 394.2L1232.0 393.6L1234.0 393.1L1236.0 392.6L1238.0 392.0L1240.0 391.5L1242.0 391.0L1244.0 390.5L1246.0 390.0L1248.0 389.5L1250.0 389.1L1252.0 388.6L1254.0 388.1L1256.0 387.7L1258.0 387.2L1260.0 386.8L1262.0 386.4L1264.0 385.9L1266.0 385.5L1268.0 385.0L1270.0 384.6L1272.0 384.1L1274.0 383.6L1276.0 383.2L1278.0 382.7L1280.0 382.2L1282.0 381.7L1284.0 381.2L1286.0 380.8L1288.0 380.3L1290.0 379.9L1292.0 379.5L1294.0 379.1L1296.0 378.7L1298.0 378.3L1300.0 377.9L1302.0 377.6L1304.0 377.2L1306.0 376.9L1308.0 376.5L1310.0 376.2L1312.0 375.9L1314.0 375.5L1316.0 375.2L1318.0 374.9L1320.0 374.5L1322.0 374.2L1324.0 373.9L1326.0 373.5L1328.0 373.2L1330.0 372.9L1332.0 372.6L1334.0 372.3L1336.0 372.0L1338.0 371.8L1340.0 371.5L1342.0 371.3L1344.0 371.1L1346.0 370.9L1348.0 370.8L1350.0 370.6L1352.0 370.5L1354.0 370.4L1356.0 370.4L1358.0 370.3L1360.0 370.3L1362.0 370.2L1364.0 370.2L1366.0 370.2L1368.0 370.2L1370.0 370.2L1372.0 370.2L1374.0 370.2L1376.0 370.2L1378.0 370.2L1380.0 370.3L1382.0 370.3L1384.0 370.3L1386.0 370.4L1388.0 370.4L1390.0 370.4L1392.0 370.5L1394.0 370.5L1396.0 370.5L1398.0 370.5L1400.0 370.5L1402.0 370.6L1404.0 370.6L1406.0 370.7L1408.0 370.7L1410.0 370.8L1412.0 370.9L1414.0 370.9L1416.0 371.0L1418.0 371.1L1420.0 371.2L1422.0 371.2L1424.0 371.3L1426.0 371.3L1428.0 371.3L1430.0 371.4L1432.0 371.4L1434.0 371.4L1436.0 371.4L1438.0 371.4L1440.0 371.5L1442.0 371.5L1444.0 371.5L1446.0 371.5L1448.0 371.5L1450.0 371.5L1452.0 371.6L1454.0 371.6L1456.0 371.6L1458.0 371.6L1460.0 371.6L1462.0 371.7L1464.0 371.7L1466.0 371.8L1468.0 371.9L1470.0 372.0L1472.0 372.1L1474.0 372.2L1476.0 372.2L1478.0 372.3L1480.0 372.3L1482.0 372.4L1484.0 372.4L1486.0 372.5L1488.0 372.5L1490.0 372.5L1492.0 372.5L1494.0 372.6L1496.0 372.6L1498.0 372.6L1500.0 372.6L1502.0 372.6L1504.0 372.6L1506.0 372.6L1508.0 372.7L1510.0 372.7L1512.0 372.7L1514.0 372.8L1516.0 372.8L1518.0 372.9L1520.0 373.0L1522.0 373.1L1524.0 373.1L1526.0 373.2L1528.0 373.3L1530.0 373.4L1532.0 373.5L1534.0 373.6L1536.0 373.7L1538.0 373.7L1540.0 373.8L1542.0 373.9L1544.0 374.0L1546.0 374.0L1548.0 374.1L1550.0 374.2L1552.0 374.2L1554.0 374.3L1556.0 374.4L1558.0 374.4L1560.0 374.5L1562.0 374.5L1564.0 374.6L1566.0 374.7L1568.0 374.8L1570.0 374.9L1572.0 375.0L1574.0 375.1L1576.0 375.2L1578.0 375.4L1580.0 375.5L1582.0 375.7L1584.0 375.9L1586.0 376.0L1588.0 376.2L1590.0 376.3L1592.0 376.5L1594.0 376.7L1596.0 376.8L1598.0 377.0L1600.0 377.2L1602.0 377.3L1604.0 377.5L1606.0 377.7L1608.0 377.9L1610.0 378.1L1612.0 378.3L1614.0 378.6L1616.0 378.8L1618.0 379.1L1620.0 379.3L1622.0 379.6L1624.0 379.9L1626.0 380.1L1628.0 380.4L1630.0 380.6L1632.0 380.9L1634.0 381.2L1636.0 381.4L1638.0 381.7L1640.0 382.0L1642.0 382.3L1644.0 382.6L1646.0 382.9L1648.0 383.2L1650.0 383.5L1652.0 383.8L1654.0 384.1L1656.0 384.4L1658.0 384.7L1660.0 385.1L1662.0 385.4L1664.0 385.8L1666.0 386.2L1668.0 386.6L1670.0 387.0L1672.0 387.5L1674.0 388.0L1676.0 388.5L1678.0 389.0L1680.0 389.5L1682.0 390.0L1684.0 390.6L1686.0 391.1L1688.0 391.7L1690.0 392.3L1692.0 392.8L1694.0 393.4L1696.0 393.9L1698.0 394.5L1700.0 395.1L1702.0 395.6L1704.0 396.2L1706.0 396.8L1708.0 397.4L1710.0 397.9L1712.0 398.5L1714.0 399.1L1716.0 399.7L1718.0 400.4L1720.0 401.0L1722.0 401.7L1724.0 402.5L1726.0 403.2L1728.0 404.1L1730.0 404.9L1732.0 405.8L1734.0 406.7L1736.0 407.5L1738.0 408.4L1740.0 409.2L1742.0 410.0L1744.0 410.7L1746.0 411.5L1748.0 412.2L1750.0 413.0L1752.0 413.8L1754.0 414.6L1756.0 415.5L1758.0 416.4L1760.0 417.4L1762.0 418.4L1764.0 419.5L1766.0 420.6L1768.0 421.7L1770.0 423.0L1772.0 424.2L1774.0 425.5L1776.0 426.8L1778.0 428.0L1780.0 429.2L1782.0 430.4L1784.0 431.6L1786.0 432.7L1788.0 433.8L1790.0 434.9L1792.0 436.0L1794.0 437.1L1796.0 438.2L1798.0 439.4L1800.0 440.5L1802.0 441.7L1804.0 443.0L1806.0 444.2L1808.0 445.5L1810.0 446.7L1812.0 448.0L1814.0 449.2L1816.0 450.5L1818.0 451.7L1820.0 453.0L1822.0 454.3L1824.0 455.6L1826.0 457.0L1828.0 458.4L1830.0 459.8L1832.0 461.3L1834.0 462.7L1836.0 464.2L1838.0 465.7L1840.0 467.2L1842.0 468.8L1844.0 470.3L1846.0 471.8L1848.0 473.3L1850.0 474.9L1852.0 476.4L1854.0 478.0L1856.0 479.5L1858.0 481.1L1860.0 482.7L1862.0 484.3L1864.0 485.9L1866.0 487.5L1868.0 489.1L1870.0 490.8L1872.0 492.4L1874.0 494.1L1876.0 495.8L1878.0 497.5L1880.0 499.1L1882.0 500.8L1884.0 502.6L1886.0 504.4L1888.0 506.2L1890.0 508.0L1892.0 509.9L1894.0 511.8L1896.0 513.7L1898.0 515.6L1900.0 517.6L1902.0 519.6L1904.0 521.6L1906.0 523.7L1908.0 525.9L1910.0 528.1L1912.0 530.4L1914.0 532.7L1916.0 535.0L1918.0 537.3L1920.0 539.6L1922.0 541.9L1924.0 544.2L1926.0 546.5L1928.0 548.8L1930.0 551.1" stroke-width="5.3" stroke-dasharray="2.8 8.6" stroke-linecap="round" stroke-dashoffset="0"/>
<path d="M760.0 559.0L762.0 556.8L764.0 554.6L766.0 552.4L768.0 550.2L770.0 548.0L772.0 545.8L774.0 543.7L776.0 541.5L778.0 539.3L780.0 537.2L782.0 535.0L784.0 532.9L786.0 530.9L788.0 528.9L790.0 526.9L792.0 524.9L794.0 522.9L796.0 520.8L798.0 518.6L800.0 516.4L802.0 514.1L804.0 511.8L806.0 509.5L808.0 507.3L810.0 505.1L812.0 503.0L814.0 500.9L816.0 499.0L818.0 497.0L820.0 495.1L822.0 493.2L824.0 491.2L826.0 489.3L828.0 487.3L830.0 485.3L832.0 483.3L834.0 481.4L836.0 479.4L838.0 477.4L840.0 475.5L842.0 473.6L844.0 471.7L846.0 469.9L848.0 468.0L850.0 466.2L852.0 464.4L854.0 462.6L856.0 460.8L858.0 459.1L860.0 457.3L862.0 455.5L864.0 453.8L866.0 452.0L868.0 450.3L870.0 448.5L872.0 446.8L874.0 445.0L876.0 443.3L878.0 441.5L880.0 439.8L882.0 438.0L884.0 436.3L886.0 434.5L888.0 432.8L890.0 431.0L892.0 429.3L894.0 427.5L896.0 425.7L898.0 424.0L900.0 422.2L902.0 420.5L904.0 418.7L906.0 417.0L908.0 415.2L910.0 413.5L912.0 411.7L914.0 409.9L916.0 408.1L918.0 406.4L920.0 404.6L922.0 402.9L924.0 401.2L926.0 399.5L928.0 397.9L930.0 396.3L932.0 394.7L934.0 393.0L936.0 391.4L938.0 389.8L940.0 388.1L942.0 386.4L944.0 384.8L946.0 383.1L948.0 381.5L950.0 379.8L952.0 378.1L954.0 376.4L956.0 374.7L958.0 373.1L960.0 371.4L962.0 369.7L964.0 368.0L966.0 366.3L968.0 364.6L970.0 362.9L972.0 361.3L974.0 359.6L976.0 357.9L978.0 356.2L980.0 354.5L982.0 352.9L984.0 351.2L986.0 349.6L988.0 348.1L990.0 346.5L992.0 345.0L994.0 343.5L996.0 342.1L998.0 340.7L1000.0 339.3L1002.0 337.9L1004.0 336.6L1006.0 335.2L1008.0 333.9L1010.0 332.5L1012.0 331.1L1014.0 329.8L1016.0 328.4L1018.0 327.0L1020.0 325.6L1022.0 324.3L1024.0 322.9L1026.0 321.6L1028.0 320.3L1030.0 319.0L1032.0 317.7L1034.0 316.4L1036.0 315.2L1038.0 313.9L1040.0 312.7L1042.0 311.4L1044.0 310.2L1046.0 308.9L1048.0 307.6L1050.0 306.4L1052.0 305.1L1054.0 303.9L1056.0 302.7L1058.0 301.5L1060.0 300.3L1062.0 299.2L1064.0 298.1L1066.0 297.0L1068.0 295.9L1070.0 294.8L1072.0 293.7L1074.0 292.7L1076.0 291.6L1078.0 290.5L1080.0 289.5L1082.0 288.4L1084.0 287.4L1086.0 286.5L1088.0 285.5L1090.0 284.6L1092.0 283.6L1094.0 282.7L1096.0 281.8L1098.0 280.9L1100.0 279.9L1102.0 279.0L1104.0 278.1L1106.0 277.1L1108.0 276.2L1110.0 275.3L1112.0 274.4L1114.0 273.5L1116.0 272.6L1118.0 271.8L1120.0 270.9L1122.0 270.0L1124.0 269.1L1126.0 268.3L1128.0 267.4L1130.0 266.6L1132.0 265.7L1134.0 264.9L1136.0 264.1L1138.0 263.3L1140.0 262.5L1142.0 261.7L1144.0 260.8L1146.0 260.0L1148.0 259.1L1150.0 258.2L1152.0 257.3L1154.0 256.4L1156.0 255.5L1158.0 254.6L1160.0 253.7L1162.0 252.8L1164.0 252.0L1166.0 251.1L1168.0 250.4L1170.0 249.6L1172.0 248.9L1174.0 248.2L1176.0 247.6L1178.0 247.0L1180.0 246.3L1182.0 245.7L1184.0 245.1L1186.0 244.5L1188.0 243.9L1190.0 243.3L1192.0 242.7L1194.0 242.2L1196.0 241.6L1198.0 241.0L1200.0 240.5L1202.0 239.9L1204.0 239.4L1206.0 238.8L1208.0 238.3L1210.0 237.8L1212.0 237.3L1214.0 236.9L1216.0 236.4L1218.0 235.9L1220.0 235.5L1222.0 235.1L1224.0 234.7L1226.0 234.3L1228.0 233.9L1230.0 233.5L1232.0 233.1L1234.0 232.7L1236.0 232.3L1238.0 231.9L1240.0 231.5L1242.0 231.1L1244.0 230.8L1246.0 230.4L1248.0 230.1L1250.0 229.8L1252.0 229.5L1254.0 229.1L1256.0 228.8L1258.0 228.6L1260.0 228.3L1262.0 228.0L1264.0 227.7L1266.0 227.5L1268.0 227.2L1270.0 227.0L1272.0 226.8L1274.0 226.6L1276.0 226.4L1278.0 226.2L1280.0 226.0L1282.0 225.9L1284.0 225.8L1286.0 225.6L1288.0 225.5L1290.0 225.5L1292.0 225.4L1294.0 225.4L1296.0 225.3L1298.0 225.4L1300.0 225.4L1302.0 225.5L1304.0 225.6L1306.0 225.7L1308.0 225.8L1310.0 225.9L1312.0 226.0L1314.0 226.1L1316.0 226.2L1318.0 226.2L1320.0 226.3L1322.0 226.4L1324.0 226.4L1326.0 226.5L1328.0 226.6L1330.0 226.6L1332.0 226.7L1334.0 226.7L1336.0 226.8L1338.0 226.9L1340.0 226.9L1342.0 227.0L1344.0 227.0L1346.0 227.1L1348.0 227.2L1350.0 227.2L1352.0 227.3L1354.0 227.4L1356.0 227.4L1358.0 227.5L1360.0 227.6L1362.0 227.7L1364.0 227.8L1366.0 227.9L1368.0 228.0L1370.0 228.1L1372.0 228.2L1374.0 228.3L1376.0 228.4L1378.0 228.5L1380.0 228.6L1382.0 228.7L1384.0 228.8L1386.0 228.9L1388.0 229.0L1390.0 229.1L1392.0 229.2L1394.0 229.2L1396.0 229.2L1398.0 229.3L1400.0 229.3L1402.0 229.2L1404.0 229.2L1406.0 229.2L1408.0 229.2L1410.0 229.2L1412.0 229.2L1414.0 229.2L1416.0 229.2L1418.0 229.3L1420.0 229.4L1422.0 229.5L1424.0 229.6L1426.0 229.7L1428.0 229.9L1430.0 230.0L1432.0 230.1L1434.0 230.3L1436.0 230.4L1438.0 230.5L1440.0 230.7L1442.0 230.8L1444.0 230.9L1446.0 231.0L1448.0 231.1L1450.0 231.2L1452.0 231.3L1454.0 231.4L1456.0 231.5L1458.0 231.6L1460.0 231.6L1462.0 231.7L1464.0 231.8L1466.0 231.9L1468.0 232.0L1470.0 232.1L1472.0 232.2L1474.0 232.3L1476.0 232.4L1478.0 232.5L1480.0 232.6L1482.0 232.7L1484.0 232.8L1486.0 233.0L1488.0 233.1L1490.0 233.3L1492.0 233.5L1494.0 233.8L1496.0 234.0L1498.0 234.2L1500.0 234.4L1502.0 234.7L1504.0 234.9L1506.0 235.1L1508.0 235.4L1510.0 235.7L1512.0 235.9L1514.0 236.2L1516.0 236.5L1518.0 236.8L1520.0 237.1L1522.0 237.4L1524.0 237.7L1526.0 238.0L1528.0 238.3L1530.0 238.6L1532.0 238.8L1534.0 239.1L1536.0 239.4L1538.0 239.7L1540.0 240.0L1542.0 240.3L1544.0 240.6L1546.0 241.0L1548.0 241.3L1550.0 241.7L1552.0 242.1L1554.0 242.5L1556.0 242.9L1558.0 243.4L1560.0 243.8L1562.0 244.3L1564.0 244.8L1566.0 245.3L1568.0 245.8L1570.0 246.3L1572.0 246.9L1574.0 247.4L1576.0 248.0L1578.0 248.6L1580.0 249.2L1582.0 249.8L1584.0 250.4L1586.0 251.1L1588.0 251.8L1590.0 252.4L1592.0 253.1L1594.0 253.8L1596.0 254.4L1598.0 255.1L1600.0 255.7L1602.0 256.3L1604.0 257.0L1606.0 257.7L1608.0 258.4L1610.0 259.2L1612.0 260.1L1614.0 260.9L1616.0 261.8L1618.0 262.7L1620.0 263.5L1622.0 264.4L1624.0 265.2L1626.0 266.0L1628.0 266.8L1630.0 267.6L1632.0 268.4L1634.0 269.2L1636.0 270.1L1638.0 270.9L1640.0 271.9L1642.0 272.8L1644.0 273.8L1646.0 274.8L1648.0 275.8L1650.0 276.8L1652.0 277.9L1654.0 278.9L1656.0 280.0L1658.0 281.1L1660.0 282.2L1662.0 283.3L1664.0 284.4L1666.0 285.6L1668.0 286.7L1670.0 287.9L1672.0 289.1L1674.0 290.3L1676.0 291.6L1678.0 292.8L1680.0 294.0L1682.0 295.3L1684.0 296.5L1686.0 297.8L1688.0 299.1L1690.0 300.4L1692.0 301.8L1694.0 303.2L1696.0 304.6L1698.0 306.0L1700.0 307.5L1702.0 308.9L1704.0 310.5L1706.0 312.0L1708.0 313.6L1710.0 315.3L1712.0 316.9L1714.0 318.6L1716.0 320.4L1718.0 322.1L1720.0 323.9L1722.0 325.7L1724.0 327.4L1726.0 329.2L1728.0 331.0L1730.0 332.8L1732.0 334.6L1734.0 336.4L1736.0 338.2L1738.0 340.0L1740.0 341.8L1742.0 343.7L1744.0 345.5L1746.0 347.3L1748.0 349.1L1750.0 350.9L1752.0 352.7L1754.0 354.5L1756.0 356.4L1758.0 358.2L1760.0 360.1L1762.0 362.0L1764.0 363.9L1766.0 365.7L1768.0 367.6L1770.0 369.5L1772.0 371.4L1774.0 373.3L1776.0 375.3L1778.0 377.3L1780.0 379.3L1782.0 381.4L1784.0 383.5L1786.0 385.6L1788.0 387.7L1790.0 389.8L1792.0 392.0L1794.0 394.1L1796.0 396.2L1798.0 398.3L1800.0 400.4L1802.0 402.6L1804.0 404.7L1806.0 406.8L1808.0 408.9L1810.0 411.0L1812.0 413.2L1814.0 415.3L1816.0 417.4L1818.0 419.5L1820.0 421.7L1822.0 423.8L1824.0 425.9L1826.0 428.0L1828.0 430.2L1830.0 432.3L1832.0 434.5L1834.0 436.7L1836.0 438.9L1838.0 441.1L1840.0 443.3L1842.0 445.5L1844.0 447.8L1846.0 450.0L1848.0 452.3L1850.0 454.6L1852.0 456.9L1854.0 459.2L1856.0 461.4L1858.0 463.7L1860.0 465.9L1862.0 468.2L1864.0 470.4L1866.0 472.7L1868.0 474.9L1870.0 477.2L1872.0 479.5L1874.0 481.8L1876.0 484.2L1878.0 486.5L1880.0 488.8L1882.0 491.2L1884.0 493.7L1886.0 496.2L1888.0 498.8L1890.0 501.5L1892.0 504.3L1894.0 507.2L1896.0 510.1L1898.0 513.0L1900.0 515.8L1902.0 518.6L1904.0 521.3L1906.0 523.9L1908.0 526.5L1910.0 529.0L1912.0 531.5L1914.0 534.0L1916.0 536.5L1918.0 539.0L1920.0 541.4L1922.0 543.9L1924.0 546.3L1926.0 548.8L1928.0 551.2L1930.0 553.7" stroke-width="5.3" stroke-dasharray="2.8 8.6" stroke-linecap="round" stroke-dashoffset="0"/>
<path d="M780.0 560.8L782.0 558.4L784.0 556.0L786.0 553.6L788.0 551.2L790.0 548.8L792.0 546.4L794.0 544.0L796.0 541.5L798.0 539.1L800.0 536.6L802.0 534.1L804.0 531.6L806.0 529.2L808.0 526.9L810.0 524.6L812.0 522.4L814.0 520.3L816.0 518.2L818.0 516.2L820.0 514.1L822.0 512.1L824.0 510.2L826.0 508.2L828.0 506.2L830.0 504.2L832.0 502.2L834.0 500.2L836.0 498.2L838.0 496.2L840.0 494.3L842.0 492.4L844.0 490.5L846.0 488.6L848.0 486.7L850.0 484.8L852.0 482.9L854.0 480.9L856.0 479.0L858.0 477.0L860.0 475.1L862.0 473.2L864.0 471.3L866.0 469.4L868.0 467.5L870.0 465.6L872.0 463.7L874.0 461.9L876.0 460.0L878.0 458.1L880.0 456.3L882.0 454.4L884.0 452.6L886.0 450.7L888.0 448.8L890.0 447.0L892.0 445.1L894.0 443.3L896.0 441.4L898.0 439.5L900.0 437.7L902.0 435.8L904.0 434.0L906.0 432.1L908.0 430.2L910.0 428.4L912.0 426.5L914.0 424.7L916.0 422.8L918.0 420.9L920.0 419.1L922.0 417.2L924.0 415.4L926.0 413.5L928.0 411.7L930.0 409.9L932.0 408.2L934.0 406.4L936.0 404.8L938.0 403.1L940.0 401.4L942.0 399.7L944.0 398.1L946.0 396.4L948.0 394.6L950.0 392.9L952.0 391.3L954.0 389.6L956.0 387.9L958.0 386.2L960.0 384.5L962.0 382.7L964.0 381.0L966.0 379.2L968.0 377.4L970.0 375.6L972.0 373.8L974.0 372.1L976.0 370.5L978.0 368.8L980.0 367.2L982.0 365.7L984.0 364.1L986.0 362.4L988.0 360.8L990.0 359.1L992.0 357.4L994.0 355.8L996.0 354.2L998.0 352.7L1000.0 351.2L1002.0 349.8L1004.0 348.4L1006.0 347.0L1008.0 345.5L1010.0 344.1L1012.0 342.7L1014.0 341.4L1016.0 340.1L1018.0 338.8L1020.0 337.7L1022.0 336.5L1024.0 335.3L1026.0 334.2L1028.0 333.0L1030.0 331.9L1032.0 330.7L1034.0 329.6L1036.0 328.4L1038.0 327.3L1040.0 326.2L1042.0 325.0L1044.0 323.9L1046.0 322.8L1048.0 321.7L1050.0 320.6L1052.0 319.5L1054.0 318.4L1056.0 317.3L1058.0 316.3L1060.0 315.2L1062.0 314.1L1064.0 313.0L1066.0 311.9L1068.0 310.7L1070.0 309.5L1072.0 308.3L1074.0 307.1L1076.0 305.9L1078.0 304.7L1080.0 303.6L1082.0 302.5L1084.0 301.4L1086.0 300.3L1088.0 299.3L1090.0 298.2L1092.0 297.2L1094.0 296.2L1096.0 295.1L1098.0 294.1L1100.0 293.1L1102.0 292.1L1104.0 291.1L1106.0 290.1L1108.0 289.1L1110.0 288.1L1112.0 287.1L1114.0 286.2L1116.0 285.2L1118.0 284.2L1120.0 283.2L1122.0 282.3L1124.0 281.4L1126.0 280.4L1128.0 279.5L1130.0 278.6L1132.0 277.7L1134.0 276.8L1136.0 275.9L1138.0 275.0L1140.0 274.2L1142.0 273.3L1144.0 272.5L1146.0 271.7L1148.0 271.0L1150.0 270.2L1152.0 269.4L1154.0 268.7L1156.0 267.9L1158.0 267.2L1160.0 266.5L1162.0 265.7L1164.0 265.0L1166.0 264.3L1168.0 263.6L1170.0 263.0L1172.0 262.3L1174.0 261.6L1176.0 261.0L1178.0 260.3L1180.0 259.7L1182.0 259.1L1184.0 258.5L1186.0 257.9L1188.0 257.3L1190.0 256.8L1192.0 256.2L1194.0 255.7L1196.0 255.1L1198.0 254.6L1200.0 254.1L1202.0 253.6L1204.0 253.1L1206.0 252.6L1208.0 252.1L1210.0 251.6L1212.0 251.2L1214.0 250.7L1216.0 250.2L1218.0 249.8L1220.0 249.4L1222.0 249.0L1224.0 248.6L1226.0 248.2L1228.0 247.9L1230.0 247.5L1232.0 247.2L1234.0 246.8L1236.0 246.5L1238.0 246.2L1240.0 245.9L1242.0 245.6L1244.0 245.3L1246.0 245.0L1248.0 244.7L1250.0 244.4L1252.0 244.1L1254.0 243.8L1256.0 243.5L1258.0 243.3L1260.0 243.0L1262.0 242.8L1264.0 242.6L1266.0 242.3L1268.0 242.1L1270.0 241.9L1272.0 241.7L1274.0 241.5L1276.0 241.3L1278.0 241.1L1280.0 240.9L1282.0 240.8L1284.0 240.6L1286.0 240.5L1288.0 240.3L1290.0 240.2L1292.0 240.1L1294.0 239.9L1296.0 239.8L1298.0 239.7L1300.0 239.6L1302.0 239.6L1304.0 239.5L1306.0 239.5L1308.0 239.5L1310.0 239.4L1312.0 239.4L1314.0 239.4L1316.0 239.4L1318.0 239.4L1320.0 239.5L1322.0 239.5L1324.0 239.6L1326.0 239.6L1328.0 239.7L1330.0 239.8L1332.0 239.8L1334.0 239.9L1336.0 240.0L1338.0 240.1L1340.0 240.2L1342.0 240.3L1344.0 240.4L1346.0 240.6L1348.0 240.7L1350.0 240.8L1352.0 241.0L1354.0 241.1L1356.0 241.3L1358.0 241.4L1360.0 241.6L1362.0 241.8L1364.0 241.9L1366.0 242.1L1368.0 242.3L1370.0 242.5L1372.0 242.7L1374.0 242.9L1376.0 243.1L1378.0 243.2L1380.0 243.4L1382.0 243.5L1384.0 243.6L1386.0 243.7L1388.0 243.7L1390.0 243.8L1392.0 243.8L1394.0 243.9L1396.0 243.9L1398.0 244.0L1400.0 244.0L1402.0 244.1L1404.0 244.2L1406.0 244.2L1408.0 244.2L1410.0 244.2L1412.0 244.2L1414.0 244.1L1416.0 243.9L1418.0 243.7L1420.0 243.4L1422.0 243.1L1424.0 242.8L1426.0 242.5L1428.0 242.2L1430.0 241.9L1432.0 241.7L1434.0 241.5L1436.0 241.4L1438.0 241.3L1440.0 241.2L1442.0 241.3L1444.0 241.3L1446.0 241.4L1448.0 241.5L1450.0 241.7L1452.0 241.8L1454.0 242.0L1456.0 242.1L1458.0 242.2L1460.0 242.4L1462.0 242.5L1464.0 242.6L1466.0 242.8L1468.0 242.9L1470.0 243.1L1472.0 243.2L1474.0 243.4L1476.0 243.6L1478.0 243.8L1480.0 244.0L1482.0 244.2L1484.0 244.4L1486.0 244.7L1488.0 245.0L1490.0 245.3L1492.0 245.6L1494.0 245.9L1496.0 246.2L1498.0 246.5L1500.0 246.8L1502.0 247.1L1504.0 247.4L1506.0 247.7L1508.0 248.0L1510.0 248.3L1512.0 248.6L1514.0 248.9L1516.0 249.3L1518.0 249.7L1520.0 250.1L1522.0 250.6L1524.0 251.1L1526.0 251.6L1528.0 252.1L1530.0 252.6L1532.0 253.2L1534.0 253.7L1536.0 254.3L1538.0 254.9L1540.0 255.5L1542.0 256.1L1544.0 256.7L1546.0 257.3L1548.0 258.0L1550.0 258.7L1552.0 259.4L1554.0 260.1L1556.0 260.9L1558.0 261.6L1560.0 262.3L1562.0 263.0L1564.0 263.7L1566.0 264.4L1568.0 265.1L1570.0 265.8L1572.0 266.5L1574.0 267.3L1576.0 268.1L1578.0 268.9L1580.0 269.8L1582.0 270.7L1584.0 271.6L1586.0 272.5L1588.0 273.5L1590.0 274.5L1592.0 275.5L1594.0 276.6L1596.0 277.6L1598.0 278.7L1600.0 279.7L1602.0 280.8L1604.0 281.9L1606.0 282.9L1608.0 284.0L1610.0 285.1L1612.0 286.1L1614.0 287.2L1616.0 288.3L1618.0 289.4L1620.0 290.6L1622.0 291.7L1624.0 292.9L1626.0 294.1L1628.0 295.4L1630.0 296.6L1632.0 297.8L1634.0 299.0L1636.0 300.3L1638.0 301.6L1640.0 302.8L1642.0 304.2L1644.0 305.5L1646.0 306.8L1648.0 308.2L1650.0 309.5L1652.0 310.9L1654.0 312.2L1656.0 313.6L1658.0 314.9L1660.0 316.2L1662.0 317.5L1664.0 318.9L1666.0 320.3L1668.0 321.6L1670.0 323.1L1672.0 324.5L1674.0 326.0L1676.0 327.5L1678.0 328.9L1680.0 330.4L1682.0 331.9L1684.0 333.4L1686.0 334.9L1688.0 336.4L1690.0 338.0L1692.0 339.5L1694.0 341.0L1696.0 342.6L1698.0 344.1L1700.0 345.7L1702.0 347.3L1704.0 348.9L1706.0 350.6L1708.0 352.4L1710.0 354.2L1712.0 356.0L1714.0 358.0L1716.0 359.9L1718.0 361.9L1720.0 363.9L1722.0 365.8L1724.0 367.8L1726.0 369.7L1728.0 371.7L1730.0 373.7L1732.0 375.7L1734.0 377.7L1736.0 379.8L1738.0 381.8L1740.0 383.9L1742.0 385.9L1744.0 387.8L1746.0 389.8L1748.0 391.8L1750.0 393.7L1752.0 395.7L1754.0 397.7L1756.0 399.7L1758.0 401.7L1760.0 403.7L1762.0 405.7L1764.0 407.7L1766.0 409.7L1768.0 411.8L1770.0 413.8L1772.0 415.9L1774.0 418.0L1776.0 420.2L1778.0 422.3L1780.0 424.4L1782.0 426.5L1784.0 428.6L1786.0 430.7L1788.0 432.8L1790.0 434.8L1792.0 436.9L1794.0 438.9L1796.0 441.0L1798.0 443.0L1800.0 445.1L1802.0 447.2L1804.0 449.3L1806.0 451.4L1808.0 453.5L1810.0 455.7L1812.0 458.0L1814.0 460.2L1816.0 462.6L1818.0 464.9L1820.0 467.2L1822.0 469.6L1824.0 472.0L1826.0 474.3L1828.0 476.7L1830.0 479.2L1832.0 481.6L1834.0 484.0L1836.0 486.5L1838.0 488.9L1840.0 491.3L1842.0 493.7L1844.0 496.1L1846.0 498.4L1848.0 500.8L1850.0 503.1L1852.0 505.5L1854.0 507.9L1856.0 510.3L1858.0 512.7L1860.0 515.2L1862.0 517.6L1864.0 520.1L1866.0 522.6L1868.0 525.1L1870.0 527.6L1872.0 530.1L1874.0 532.6L1876.0 535.0L1878.0 537.5L1880.0 539.9L1882.0 542.4L1884.0 544.9L1886.0 547.4L1888.0 549.8L1890.0 552.3L1892.0 554.8L1894.0 557.3" stroke-width="5.3" stroke-dasharray="2.8 8.6" stroke-linecap="round" stroke-dashoffset="0"/>
<path d="M770.0 560.8L772.0 558.7L774.0 556.5L776.0 554.4L778.0 552.3L780.0 550.2L782.0 548.1L784.0 546.0L786.0 543.8L788.0 541.7L790.0 539.6L792.0 537.5L794.0 535.4L796.0 533.3L798.0 531.2L800.0 529.0L802.0 526.9L804.0 524.8L806.0 522.7L808.0 520.6L810.0 518.5L812.0 516.3L814.0 514.2L816.0 512.1L818.0 510.0L820.0 507.9L822.0 505.8L824.0 503.7L826.0 501.5L828.0 499.4L830.0 497.3L832.0 495.2L834.0 493.1L836.0 491.0L838.0 488.9L840.0 486.7L842.0 484.6L844.0 482.5L846.0 480.4L848.0 478.3L850.0 476.2L852.0 474.1L854.0 472.0L856.0 469.9L858.0 467.8L860.0 465.8L862.0 463.8L864.0 461.7L866.0 459.7L868.0 457.8L870.0 455.8L872.0 453.9L874.0 452.0L876.0 450.1L878.0 448.2L880.0 446.3L882.0 444.4L884.0 442.5L886.0 440.7L888.0 438.8L890.0 436.9L892.0 435.1L894.0 433.2L896.0 431.4L898.0 429.6L900.0 427.8L902.0 426.0L904.0 424.2L906.0 422.4L908.0 420.7L910.0 419.0L912.0 417.4L914.0 415.7L916.0 414.1L918.0 412.5L920.0 410.9L922.0 409.4L924.0 407.8L926.0 406.2L928.0 404.7L930.0 403.1L932.0 401.5L934.0 400.0L936.0 398.4L938.0 396.8L940.0 395.2L942.0 393.6L944.0 392.0L946.0 390.3L948.0 388.7L950.0 387.1L952.0 385.4L954.0 383.8L956.0 382.2L958.0 380.5L960.0 378.9L962.0 377.3L964.0 375.7L966.0 374.1L968.0 372.5L970.0 371.0L972.0 369.4L974.0 367.9L976.0 366.4L978.0 364.9L980.0 363.4L982.0 362.0L984.0 360.6L986.0 359.1L988.0 357.7L990.0 356.3L992.0 354.9L994.0 353.5L996.0 352.1L998.0 350.7L1000.0 349.2L1002.0 347.8L1004.0 346.5L1006.0 345.1L1008.0 343.7L1010.0 342.3L1012.0 340.9L1014.0 339.6L1016.0 338.2L1018.0 336.9L1020.0 335.6L1022.0 334.4L1024.0 333.1L1026.0 331.9L1028.0 330.7L1030.0 329.5L1032.0 328.3L1034.0 327.2L1036.0 326.0L1038.0 324.9L1040.0 323.7L1042.0 322.6L1044.0 321.4L1046.0 320.3L1048.0 319.1L1050.0 318.0L1052.0 316.9L1054.0 315.8L1056.0 314.6L1058.0 313.5L1060.0 312.5L1062.0 311.4L1064.0 310.3L1066.0 309.2L1068.0 308.1L1070.0 307.1L1072.0 306.0L1074.0 304.9L1076.0 303.9L1078.0 302.8L1080.0 301.8L1082.0 300.7L1084.0 299.7L1086.0 298.7L1088.0 297.6L1090.0 296.6L1092.0 295.6L1094.0 294.5L1096.0 293.5L1098.0 292.5L1100.0 291.5L1102.0 290.4L1104.0 289.4L1106.0 288.4L1108.0 287.4L1110.0 286.4L1112.0 285.5L1114.0 284.5L1116.0 283.5L1118.0 282.5L1120.0 281.6L1122.0 280.6L1124.0 279.7L1126.0 278.7L1128.0 277.8L1130.0 276.8L1132.0 275.9L1134.0 275.0L1136.0 274.1L1138.0 273.3L1140.0 272.4L1142.0 271.6L1144.0 270.8L1146.0 270.0L1148.0 269.2L1150.0 268.5L1152.0 267.7L1154.0 267.0L1156.0 266.2L1158.0 265.5L1160.0 264.8L1162.0 264.1L1164.0 263.3L1166.0 262.6L1168.0 261.9L1170.0 261.2L1172.0 260.5L1174.0 259.9L1176.0 259.2L1178.0 258.6L1180.0 257.9L1182.0 257.3L1184.0 256.8L1186.0 256.2L1188.0 255.6L1190.0 255.1L1192.0 254.5L1194.0 254.0L1196.0 253.5L1198.0 252.9L1200.0 252.4L1202.0 251.9L1204.0 251.4L1206.0 250.9L1208.0 250.4L1210.0 249.9L1212.0 249.4L1214.0 248.9L1216.0 248.5L1218.0 248.1L1220.0 247.7L1222.0 247.3L1224.0 246.9L1226.0 246.5L1228.0 246.2L1230.0 245.8L1232.0 245.5L1234.0 245.2L1236.0 244.8L1238.0 244.5L1240.0 244.2L1242.0 243.9L1244.0 243.6L1246.0 243.3L1248.0 243.0L1250.0 242.7L1252.0 242.4L1254.0 242.1L1256.0 241.8L1258.0 241.6L1260.0 241.3L1262.0 241.1L1264.0 240.9L1266.0 240.7L1268.0 240.5L1270.0 240.3L1272.0 240.1L1274.0 239.9L1276.0 239.7L1278.0 239.5L1280.0 239.3L1282.0 239.1L1284.0 238.9L1286.0 238.7L1288.0 238.6L1290.0 238.4L1292.0 238.3L1294.0 238.2L1296.0 238.1L1298.0 238.0L1300.0 237.9L1302.0 237.8L1304.0 237.8L1306.0 237.8L1308.0 237.7L1310.0 237.7L1312.0 237.7L1314.0 237.7L1316.0 237.7L1318.0 237.7L1320.0 237.8L1322.0 237.8L1324.0 237.9L1326.0 237.9L1328.0 238.0L1330.0 238.1L1332.0 238.1L1334.0 238.2L1336.0 238.3L1338.0 238.4L1340.0 238.5L1342.0 238.6L1344.0 238.7L1346.0 238.9L1348.0 239.0L1350.0 239.1L1352.0 239.3L1354.0 239.4L1356.0 239.6L1358.0 239.8L1360.0 239.9L1362.0 240.1L1364.0 240.3L1366.0 240.5L1368.0 240.7L1370.0 240.9L1372.0 241.1L1374.0 241.3L1376.0 241.5L1378.0 241.7L1380.0 241.9L1382.0 242.1L1384.0 242.3L1386.0 242.5L1388.0 242.7L1390.0 242.9L1392.0 243.1L1394.0 243.3L1396.0 243.5L1398.0 243.7L1400.0 243.9L1402.0 244.1L1404.0 244.3L1406.0 244.5L1408.0 244.7L1410.0 244.9L1412.0 245.1L1414.0 245.3L1416.0 245.5L1418.0 245.8L1420.0 246.0L1422.0 246.2L1424.0 246.4L1426.0 246.6L1428.0 246.8L1430.0 247.0L1432.0 247.2L1434.0 247.5L1436.0 247.7L1438.0 248.0L1440.0 248.2L1442.0 248.5L1444.0 248.8L1446.0 249.1L1448.0 249.4L1450.0 249.8L1452.0 250.1L1454.0 250.5L1456.0 250.9L1458.0 251.3L1460.0 251.8L1462.0 252.2L1464.0 252.7L1466.0 253.1L1468.0 253.6L1470.0 254.1L1472.0 254.6L1474.0 255.1L1476.0 255.7L1478.0 256.2L1480.0 256.8L1482.0 257.3L1484.0 257.9L1486.0 258.5L1488.0 259.1L1490.0 259.8L1492.0 260.4L1494.0 261.1L1496.0 261.7L1498.0 262.4L1500.0 263.1L1502.0 263.8L1504.0 264.5L1506.0 265.2L1508.0 266.0L1510.0 266.7L1512.0 267.5L1514.0 268.3L1516.0 269.2L1518.0 270.1L1520.0 271.0L1522.0 272.0L1524.0 273.0L1526.0 274.1L1528.0 275.1L1530.0 276.2L1532.0 277.3L1534.0 278.5L1536.0 279.6L1538.0 280.7L1540.0 281.9L1542.0 283.0L1544.0 284.2L1546.0 285.3L1548.0 286.5L1550.0 287.6L1552.0 288.8L1554.0 290.0L1556.0 291.1L1558.0 292.3L1560.0 293.5L1562.0 294.7L1564.0 295.9L1566.0 297.1L1568.0 298.4L1570.0 299.7L1572.0 301.0L1574.0 302.3L1576.0 303.6L1578.0 305.0L1580.0 306.4L1582.0 307.8L1584.0 309.2L1586.0 310.6L1588.0 312.1L1590.0 313.5L1592.0 315.0L1594.0 316.5L1596.0 318.0L1598.0 319.5L1600.0 321.1L1602.0 322.6L1604.0 324.2L1606.0 325.7L1608.0 327.3L1610.0 328.9L1612.0 330.4L1614.0 332.0L1616.0 333.6L1618.0 335.2L1620.0 336.7L1622.0 338.3L1624.0 339.9L1626.0 341.4L1628.0 343.0L1630.0 344.5L1632.0 346.0L1634.0 347.6L1636.0 349.1L1638.0 350.6L1640.0 352.2L1642.0 353.7L1644.0 355.2L1646.0 356.8L1648.0 358.4L1650.0 360.0L1652.0 361.7L1654.0 363.3L1656.0 365.0L1658.0 366.6L1660.0 368.3L1662.0 370.0L1664.0 371.7L1666.0 373.4L1668.0 375.2L1670.0 376.9L1672.0 378.6L1674.0 380.4L1676.0 382.1L1678.0 383.9L1680.0 385.7L1682.0 387.4L1684.0 389.2L1686.0 391.0L1688.0 392.8L1690.0 394.7L1692.0 396.5L1694.0 398.3L1696.0 400.2L1698.0 402.0L1700.0 403.9L1702.0 405.8L1704.0 407.7L1706.0 409.6L1708.0 411.5L1710.0 413.4L1712.0 415.3L1714.0 417.2L1716.0 419.1L1718.0 421.0L1720.0 422.9L1722.0 424.8L1724.0 426.7L1726.0 428.6L1728.0 430.5L1730.0 432.4L1732.0 434.3L1734.0 436.2L1736.0 438.0L1738.0 439.9L1740.0 441.8L1742.0 443.7L1744.0 445.7L1746.0 447.6L1748.0 449.5L1750.0 451.5L1752.0 453.4L1754.0 455.4L1756.0 457.4L1758.0 459.4L1760.0 461.4L1762.0 463.4L1764.0 465.4L1766.0 467.4L1768.0 469.4L1770.0 471.4L1772.0 473.4L1774.0 475.4L1776.0 477.5L1778.0 479.5L1780.0 481.6L1782.0 483.6L1784.0 485.6L1786.0 487.7L1788.0 489.7L1790.0 491.8L1792.0 493.8L1794.0 495.9L1796.0 497.9L1798.0 500.0L1800.0 502.0L1802.0 504.1L1804.0 506.1L1806.0 508.2L1808.0 510.2L1810.0 512.3L1812.0 514.3L1814.0 516.4L1816.0 518.4L1818.0 520.5L1820.0 522.5L1822.0 524.6L1824.0 526.6L1826.0 528.6L1828.0 530.7L1830.0 532.7L1832.0 534.8L1834.0 536.8L1836.0 538.9L1838.0 540.9L1840.0 542.9L1842.0 545.0L1844.0 547.0L1846.0 549.1L1848.0 551.1L1850.0 553.1" stroke-width="5.0"/>
<path d="M635.7 718.1L638.4 714.3L641.1 710.5L643.8 706.7L646.5 702.9L649.2 699.1L651.9 695.4L654.6 691.6L657.3 687.9L660.0 684.2L662.7 680.5L665.3 676.8L668.0 673.1L670.7 669.4L673.4 665.8L676.1 662.1L678.8 658.5L681.5 654.9L684.2 651.3L686.9 647.7L689.6 644.1L692.3 640.5L695.0 637.0L697.7 633.4L700.3 629.9L703.0 626.4L705.7 622.9L708.4 619.4L711.1 616.0L713.8 612.5L716.5 609.1L719.2 605.6L721.9 602.2L724.6 598.8L727.3 595.4L730.0 592.1L732.7 588.7L735.4 585.3L738.0 582.0L740.7 578.7L743.4 575.4L746.1 572.1L748.8 568.8L751.5 565.6L754.2 562.3L756.9 559.1L759.6 555.9L762.3 552.7L765.0 549.5L767.7 546.3L770.4 543.1L773.0 540.0L775.7 536.8L778.4 533.7L781.1 530.6L783.8 527.5L786.5 524.4L789.2 521.4L791.9 518.3L794.6 515.3L797.3 512.3L800.0 509.3L802.7 506.3L805.4 503.3L808.0 500.3L810.7 497.4L813.4 494.5L816.1 491.5L818.8 488.6L821.5 485.7L824.2 482.9L826.9 480.0L829.6 477.2L832.3 474.3L835.0 471.5L837.7 468.7L840.4 465.9L843.0 463.1L845.7 460.4L848.4 457.6L851.1 454.9L853.8 452.2L856.5 449.5L859.2 446.8L861.9 444.2L864.6 441.5L867.3 438.9L870.0 436.2L872.7 433.6L875.4 431.0L878.1 428.5L880.7 425.9L883.4 423.3L886.1 420.8L888.8 418.3L891.5 415.8L894.2 413.3L896.9 410.8L899.6 408.4L902.3 405.9L905.0 403.5L907.7 401.1L910.4 398.7L913.1 396.3L915.7 393.9L918.4 391.6L921.1 389.3L923.8 386.9L926.5 384.6L929.2 382.3L931.9 380.1L934.6 377.8L937.3 375.6L940.0 373.3L942.7 371.1L945.4 368.9L948.1 366.7L950.7 364.6L953.4 362.4L956.1 360.3L958.8 358.2L961.5 356.1L964.2 354.0L966.9 351.9L969.6 349.9L972.3 347.8L975.0 345.8L977.7 343.8L980.4 341.8L983.1 339.8L985.8 337.8L988.4 335.9L991.1 334.0L993.8 332.1L996.5 330.2L999.2 328.3L1001.9 326.4L1004.6 324.6L1007.3 322.7L1010.0 320.9L1012.7 319.1L1015.4 317.3L1018.1 315.5L1020.8 313.8L1023.4 312.0L1026.1 310.3L1028.8 308.6L1031.5 306.9L1034.2 305.2L1036.9 303.6L1039.6 301.9L1042.3 300.3L1045.0 298.7L1047.7 297.1L1050.4 295.5L1053.1 293.9L1055.8 292.4L1058.4 290.9L1061.1 289.4L1063.8 287.9L1066.5 286.4L1069.2 284.9L1071.9 283.4L1074.6 282.0L1077.3 280.6L1080.0 279.2L1082.7 277.8L1085.4 276.4L1088.1 275.1L1090.8 273.7L1093.4 272.4L1096.1 271.1L1098.8 269.8L1101.5 268.6L1104.2 267.3L1106.9 266.1L1109.6 264.8L1112.3 263.6L1115.0 262.4L1117.7 261.3L1120.4 260.1L1123.1 259.0L1125.8 257.8L1128.5 256.7L1131.1 255.6L1133.8 254.6L1136.5 253.5L1139.2 252.4L1141.9 251.4L1144.6 250.4L1147.3 249.4L1150.0 248.4L1152.7 247.5L1155.4 246.5L1158.1 245.6L1160.8 244.7L1163.5 243.8L1166.1 242.9L1168.8 242.0L1171.5 241.2L1174.2 240.4L1176.9 239.6L1179.6 238.8L1182.3 238.0L1185.0 237.2L1187.7 236.5L1190.4 235.7L1193.1 235.0L1195.8 234.3L1198.5 233.6L1201.1 233.0L1203.8 232.3L1206.5 231.7L1209.2 231.1L1211.9 230.5L1214.6 229.9L1217.3 229.3L1220.0 228.8L1222.7 228.3L1225.4 227.7L1228.1 227.2L1230.8 226.8L1233.5 226.3L1236.1 225.8L1238.8 225.4L1241.5 225.0L1244.2 224.6L1246.9 224.2L1249.6 223.8L1252.3 223.5L1255.0 223.2L1257.7 222.8L1260.4 222.5L1263.1 222.3L1265.8 222.0L1268.5 221.7L1271.2 221.5L1273.8 221.3L1276.5 221.1L1279.2 220.9L1281.9 220.7L1284.6 220.6L1287.3 220.5L1290.0 220.3L1292.7 220.2L1295.4 220.2L1298.1 220.1L1300.8 220.0L1303.5 220.0L1306.2 220.0L1308.8 220.0L1311.5 220.0L1314.2 220.0L1316.9 220.1L1319.6 220.2L1322.3 220.2L1325.0 220.3L1327.7 220.5L1330.4 220.6L1333.1 220.7L1335.8 220.9L1338.5 221.1L1341.2 221.3L1343.8 221.5L1346.5 221.7L1349.2 222.0L1351.9 222.3L1354.6 222.5L1357.3 222.8L1360.0 223.2L1362.7 223.5L1365.4 223.8L1368.1 224.2L1370.8 224.6L1373.5 225.0L1376.2 225.4L1378.9 225.8L1381.5 226.3L1384.2 226.8L1386.9 227.2L1389.6 227.7L1392.3 228.3L1395.0 228.8L1397.7 229.3L1400.4 229.9L1403.1 230.5L1405.8 231.1L1408.5 231.7L1411.2 232.3L1413.9 233.0L1416.5 233.6L1419.2 234.3L1421.9 235.0L1424.6 235.7L1427.3 236.5L1430.0 237.2L1432.7 238.0L1435.4 238.8L1438.1 239.6L1440.8 240.4L1443.5 241.2L1446.2 242.0L1448.9 242.9L1451.5 243.8L1454.2 244.7L1456.9 245.6L1459.6 246.5L1462.3 247.5L1465.0 248.4L1467.7 249.4L1470.4 250.4L1473.1 251.4L1475.8 252.4L1478.5 253.5L1481.2 254.6L1483.9 255.6L1486.5 256.7L1489.2 257.8L1491.9 259.0L1494.6 260.1L1497.3 261.3L1500.0 262.4L1502.7 263.6L1505.4 264.8L1508.1 266.1L1510.8 267.3L1513.5 268.6L1516.2 269.8L1518.9 271.1L1521.6 272.4L1524.2 273.7L1526.9 275.1L1529.6 276.4L1532.3 277.8L1535.0 279.2L1537.7 280.6L1540.4 282.0L1543.1 283.4L1545.8 284.9L1548.5 286.4L1551.2 287.9L1553.9 289.4L1556.6 290.9L1559.2 292.4L1561.9 293.9L1564.6 295.5L1567.3 297.1L1570.0 298.7L1572.7 300.3L1575.4 301.9L1578.1 303.6L1580.8 305.2L1583.5 306.9L1586.2 308.6L1588.9 310.3L1591.6 312.0L1594.2 313.8L1596.9 315.5L1599.6 317.3L1602.3 319.1L1605.0 320.9L1607.7 322.7L1610.4 324.6L1613.1 326.4L1615.8 328.3L1618.5 330.2L1621.2 332.1L1623.9 334.0L1626.6 335.9L1629.2 337.8L1631.9 339.8L1634.6 341.8L1637.3 343.8L1640.0 345.8L1642.7 347.8L1645.4 349.9L1648.1 351.9L1650.8 354.0L1653.5 356.1L1656.2 358.2L1658.9 360.3L1661.6 362.4L1664.3 364.6L1666.9 366.7L1669.6 368.9L1672.3 371.1L1675.0 373.3L1677.7 375.6L1680.4 377.8L1683.1 380.1L1685.8 382.3L1688.5 384.6L1691.2 386.9L1693.9 389.3L1696.6 391.6L1699.3 393.9L1701.9 396.3L1704.6 398.7L1707.3 401.1L1710.0 403.5L1712.7 405.9L1715.4 408.4L1718.1 410.8L1720.8 413.3L1723.5 415.8L1726.2 418.3L1728.9 420.8L1731.6 423.3L1734.3 425.9L1736.9 428.5L1739.6 431.0L1742.3 433.6L1745.0 436.2L1747.7 438.9L1750.4 441.5L1753.1 444.2L1755.8 446.8L1758.5 449.5L1761.2 452.2L1763.9 454.9L1766.6 457.6L1769.3 460.4L1772.0 463.1L1774.6 465.9L1777.3 468.7L1780.0 471.5L1782.7 474.3L1785.4 477.2L1788.1 480.0L1790.8 482.9L1793.5 485.7L1796.2 488.6L1798.9 491.5L1801.6 494.5L1804.3 497.4L1807.0 500.3L1809.6 503.3L1812.3 506.3L1815.0 509.3L1817.7 512.3L1820.4 515.3L1823.1 518.3L1825.8 521.4L1828.5 524.4L1831.2 527.5L1833.9 530.6L1836.6 533.7L1839.3 536.8L1842.0 540.0L1844.6 543.1L1847.3 546.3L1850.0 549.5L1852.7 552.7L1855.4 555.9L1858.1 559.1L1860.8 562.3L1863.5 565.6L1866.2 568.8L1868.9 572.1L1871.6 575.4L1874.3 578.7L1877.0 582.0L1879.6 585.3L1882.3 588.7L1885.0 592.1L1887.7 595.4L1890.4 598.8L1893.1 602.2L1895.8 605.6L1898.5 609.1L1901.2 612.5L1903.9 616.0L1906.6 619.4L1909.3 622.9L1912.0 626.4L1914.7 629.9L1917.3 633.4L1920.0 637.0L1922.7 640.5L1925.4 644.1L1928.1 647.7L1930.8 651.3L1933.5 654.9L1936.2 658.5L1938.9 662.1L1941.6 665.8L1944.3 669.4L1947.0 673.1L1949.7 676.8L1952.3 680.5L1955.0 684.2L1957.7 687.9L1960.4 691.6L1963.1 695.4L1965.8 699.1L1968.5 702.9L1971.2 706.7L1973.9 710.5L1976.6 714.3L1979.3 718.1" stroke-width="5.2" stroke-dasharray="28.5 18.2" stroke-dashoffset="17.7"/>
</g>
<rect x="697.4" y="112.7" width="1223.3000000000002" height="433.50000000000006" fill="none" stroke="#000" stroke-width="4.8"/>
<g stroke="#000" stroke-width="4.8" stroke-linecap="round">
<line x1="818.9" y1="545.2" x2="818.9" y2="540.6"/>
<line x1="939.4" y1="545.2" x2="939.4" y2="540.6"/>
<line x1="939.4" y1="113.7" x2="939.4" y2="117.6"/>
<line x1="1063.3" y1="545.2" x2="1063.3" y2="540.6"/>
<line x1="1063.3" y1="113.7" x2="1063.3" y2="117.6"/>
<line x1="1184.3" y1="545.2" x2="1184.3" y2="540.6"/>
<line x1="1184.3" y1="113.7" x2="1184.3" y2="117.6"/>
<line x1="1308.8" y1="545.2" x2="1308.8" y2="540.6"/>
<line x1="1308.8" y1="113.7" x2="1308.8" y2="117.6"/>
<line x1="1430.1" y1="545.2" x2="1430.1" y2="540.6"/>
<line x1="1430.1" y1="113.7" x2="1430.1" y2="117.6"/>
<line x1="1551.0" y1="545.2" x2="1551.0" y2="540.6"/>
<line x1="1551.0" y1="113.7" x2="1551.0" y2="117.6"/>
<line x1="1675.1" y1="545.2" x2="1675.1" y2="540.6"/>
<line x1="1675.1" y1="113.7" x2="1675.1" y2="117.6"/>
<line x1="1796.3" y1="545.2" x2="1796.3" y2="540.6"/>
<line x1="1796.3" y1="113.7" x2="1796.3" y2="117.6"/>
<line x1="698.4" y1="220.4" x2="708.4" y2="220.4"/>
<line x1="1919.7" y1="220.4" x2="1906.4" y2="220.4"/>
<line x1="698.4" y1="329.1" x2="708.4" y2="329.1"/>
<line x1="1919.7" y1="329.1" x2="1906.4" y2="329.1"/>
<line x1="698.4" y1="437.5" x2="708.4" y2="437.5"/>
<line x1="1919.7" y1="437.5" x2="1906.4" y2="437.5"/>
</g>
<path d="M713.2 628.6A77.8 77.8 0 0 1 747.4 636.2M768.4 650.9A77.8 77.8 0 0 1 787.2 680.4M791.7 705.7A77.8 77.8 0 0 1 784.1 739.9M769.4 760.9A77.8 77.8 0 0 1 739.9 779.7M714.6 784.2A77.8 77.8 0 0 1 680.4 776.6M659.4 761.9A77.8 77.8 0 0 1 640.6 732.4M636.1 707.1A77.8 77.8 0 0 1 643.7 672.9M658.4 651.9A77.8 77.8 0 0 1 687.9 633.1" fill="none" stroke="#000" stroke-width="5.8" stroke-linecap="round"/>
<path d="M651.4 662.9L448.1 460.4L448.1 361.1L540 361.1" fill="none" stroke="#000" stroke-width="5.6" stroke-linejoin="miter"/>
<path d="M567.2 361.1L535.6 376.9L538.6 361.1L535.6 345.3Z" fill="#000"/>
<path d="M1107.8 265.2L1052.1 214.6L1020 214.6" fill="none" stroke="#000" stroke-width="5.9"/>
<path d="M991.3 214.6L1022.9 198.8L1019.9 214.6L1022.9 230.4Z" fill="#000"/>
<line x1="1601.7" y1="255.7" x2="1646.9" y2="194.9" stroke="#000" stroke-width="5.9"/><path d="M1664.0 172.0L1657.8 206.8L1646.9 194.9L1632.5 187.9Z" fill="#000"/>
<line x1="1728.4" y1="371.3" x2="1759.0" y2="295.7" stroke="#000" stroke-width="5.9"/><path d="M1769.7 269.2L1772.5 304.4L1759.0 295.7L1743.2 292.6Z" fill="#000"/>
<line x1="1543.7" y1="289.7" x2="1454.5" y2="318.0" stroke="#000" stroke-width="5.9"/><path d="M1427.2 326.7L1452.5 302.1L1454.5 318.0L1462.1 332.2Z" fill="#000"/>
<line x1="1183.4" y1="408.5" x2="1314.5" y2="463.3" stroke="#000" stroke-width="5.9"/><path d="M1340.9 474.3L1305.7 476.7L1314.5 463.3L1317.8 447.5Z" fill="#000"/>
<text transform="translate(110.47,73.59) scale(0.862,1)" font-size="73.0" stroke="#fff" stroke-width="1.3" stroke-linejoin="round">40000</text>
<text transform="translate(109.34,226.14) scale(0.862,1)" font-size="73.0" stroke="#fff" stroke-width="1.3" stroke-linejoin="round">35000</text>
<text transform="translate(109.34,387.14) scale(0.862,1)" font-size="73.0" stroke="#fff" stroke-width="1.3" stroke-linejoin="round">30000</text>
<text transform="translate(111.36,545.28) scale(0.862,1)" font-size="73.0" stroke="#fff" stroke-width="1.3" stroke-linejoin="round">25000</text>
<text transform="translate(110.56,705.91) scale(0.862,1)" font-size="73.0" stroke="#fff" stroke-width="1.3" stroke-linejoin="round">20000</text>
<text transform="translate(110.25,861.17) scale(0.862,1)" font-size="73.0" stroke="#fff" stroke-width="1.3" stroke-linejoin="round">15000</text>
<text transform="translate(109.87,1018.30) scale(0.862,1)" font-size="73.0" stroke="#fff" stroke-width="1.3" stroke-linejoin="round">10000</text>
<text transform="translate(136.79,1179.72) scale(0.862,1)" font-size="73.0" stroke="#fff" stroke-width="1.3" stroke-linejoin="round">5000</text>
<text transform="translate(219.11,1335.10) scale(0.862,1)" font-size="73.0" stroke="#fff" stroke-width="1.3" stroke-linejoin="round">0</text>
<text transform="translate(278.00,1446.92) scale(0.862,1)" font-size="73.0" stroke="#fff" stroke-width="1.3" stroke-linejoin="round">0</text>
<text transform="translate(424.01,1446.95) scale(0.862,1)" font-size="73.0" stroke="#fff" stroke-width="1.3" stroke-linejoin="round">0.2</text>
<text transform="translate(591.43,1446.96) scale(0.862,1)" font-size="73.0" stroke="#fff" stroke-width="1.3" stroke-linejoin="round">0.4</text>
<text transform="translate(764.39,1446.95) scale(0.862,1)" font-size="73.0" stroke="#fff" stroke-width="1.3" stroke-linejoin="round">0.6</text>
<text transform="translate(931.96,1446.93) scale(0.862,1)" font-size="73.0" stroke="#fff" stroke-width="1.3" stroke-linejoin="round">0.8</text>
<text transform="translate(1131.38,1446.94) scale(0.862,1)" font-size="73.0" stroke="#fff" stroke-width="1.3" stroke-linejoin="round">1</text>
<text transform="translate(1274.43,1446.99) scale(0.862,1)" font-size="73.0" stroke="#fff" stroke-width="1.3" stroke-linejoin="round">1.2</text>
<text transform="translate(1442.67,1447.29) scale(0.862,1)" font-size="73.0" stroke="#fff" stroke-width="1.3" stroke-linejoin="round">1.4</text>
<text transform="translate(1615.64,1446.96) scale(0.862,1)" font-size="73.0" stroke="#fff" stroke-width="1.3" stroke-linejoin="round">1.6</text>
<text transform="translate(1782.91,1446.94) scale(0.862,1)" font-size="73.0" stroke="#fff" stroke-width="1.3" stroke-linejoin="round">1.8</text>
<text transform="translate(1981.96,1447.64) scale(0.862,1)" font-size="73.0" stroke="#fff" stroke-width="1.3" stroke-linejoin="round">2</text>
<text transform="translate(1038.71,1513.70) scale(0.8636,1)" font-size="74" stroke="#fff" stroke-width="1.3" stroke-linejoin="round">Time(s)</text>
<text transform="translate(91.30,1028.86) rotate(-90) scale(0.882,1)" font-size="62.1" stroke="#fff" stroke-width="1.3" stroke-linejoin="round">Position (count, 360/10000 degree)</text>
<text transform="translate(588.01,129.00) scale(0.852,1)" font-size="46.0" stroke="#fff" stroke-width="0.55" stroke-linejoin="round">20500</text>
<text transform="translate(588.88,237.20) scale(0.852,1)" font-size="46.0" stroke="#fff" stroke-width="0.55" stroke-linejoin="round">20000</text>
<text transform="translate(589.28,345.15) scale(0.852,1)" font-size="46.0" stroke="#fff" stroke-width="0.55" stroke-linejoin="round">19500</text>
<text transform="translate(591.02,453.34) scale(0.852,1)" font-size="46.0" stroke="#fff" stroke-width="0.55" stroke-linejoin="round">19000</text>
<text transform="translate(588.89,549.90) scale(0.852,1)" font-size="46.0" stroke="#fff" stroke-width="0.55" stroke-linejoin="round">18500</text>
<text transform="translate(685.65,585.40) scale(0.852,1)" font-size="46.0" stroke="#fff" stroke-width="0.55" stroke-linejoin="round">0.4</text>
<text transform="translate(792.23,585.40) scale(0.852,1)" font-size="46.0" stroke="#fff" stroke-width="0.55" stroke-linejoin="round">0.42</text>
<text transform="translate(912.03,585.40) scale(0.852,1)" font-size="46.0" stroke="#fff" stroke-width="0.55" stroke-linejoin="round">0.44</text>
<text transform="translate(1036.54,585.40) scale(0.852,1)" font-size="46.0" stroke="#fff" stroke-width="0.55" stroke-linejoin="round">0.46</text>
<text transform="translate(1157.19,585.40) scale(0.852,1)" font-size="46.0" stroke="#fff" stroke-width="0.55" stroke-linejoin="round">0.48</text>
<text transform="translate(1289.61,585.45) scale(0.852,1)" font-size="46.0" stroke="#fff" stroke-width="0.55" stroke-linejoin="round">0.5</text>
<text transform="translate(1403.00,585.40) scale(0.852,1)" font-size="46.0" stroke="#fff" stroke-width="0.55" stroke-linejoin="round">0.52</text>
<text transform="translate(1524.02,585.40) scale(0.852,1)" font-size="46.0" stroke="#fff" stroke-width="0.55" stroke-linejoin="round">0.54</text>
<text transform="translate(1648.66,585.45) scale(0.852,1)" font-size="46.0" stroke="#fff" stroke-width="0.55" stroke-linejoin="round">0.56</text>
<text transform="translate(1769.49,585.46) scale(0.852,1)" font-size="46.0" stroke="#fff" stroke-width="0.55" stroke-linejoin="round">0.58</text>
<text transform="translate(1901.98,585.40) scale(0.852,1)" font-size="46.0" stroke="#fff" stroke-width="0.55" stroke-linejoin="round">0.6</text>
<text transform="translate(783.12,165.80) scale(0.978,1)" font-size="51.0">Desired</text>
<text transform="translate(757.33,225.30) scale(0.978,1)" font-size="51.0">Trajectory</text>
<text transform="translate(753.55,283.80) scale(0.978,1)" font-size="51.0">(dash-line)</text>
<text transform="translate(1671.00,180.00) scale(0.985,1)" font-size="58.6"><tspan font-style="italic">w</tspan>=5000</text>
<text transform="translate(1673.05,261.25) scale(0.985,1)" font-size="58.6"><tspan font-style="italic">w</tspan>=10000</text>
<text transform="translate(1201.36,343.60) scale(0.985,1)" font-size="58.6"><tspan font-style="italic">w</tspan>=15000</text>
<text transform="translate(1357.65,492.80) scale(0.985,1)" font-size="58.6"><tspan font-style="italic">w</tspan>=0</text>
</svg></body></html>
